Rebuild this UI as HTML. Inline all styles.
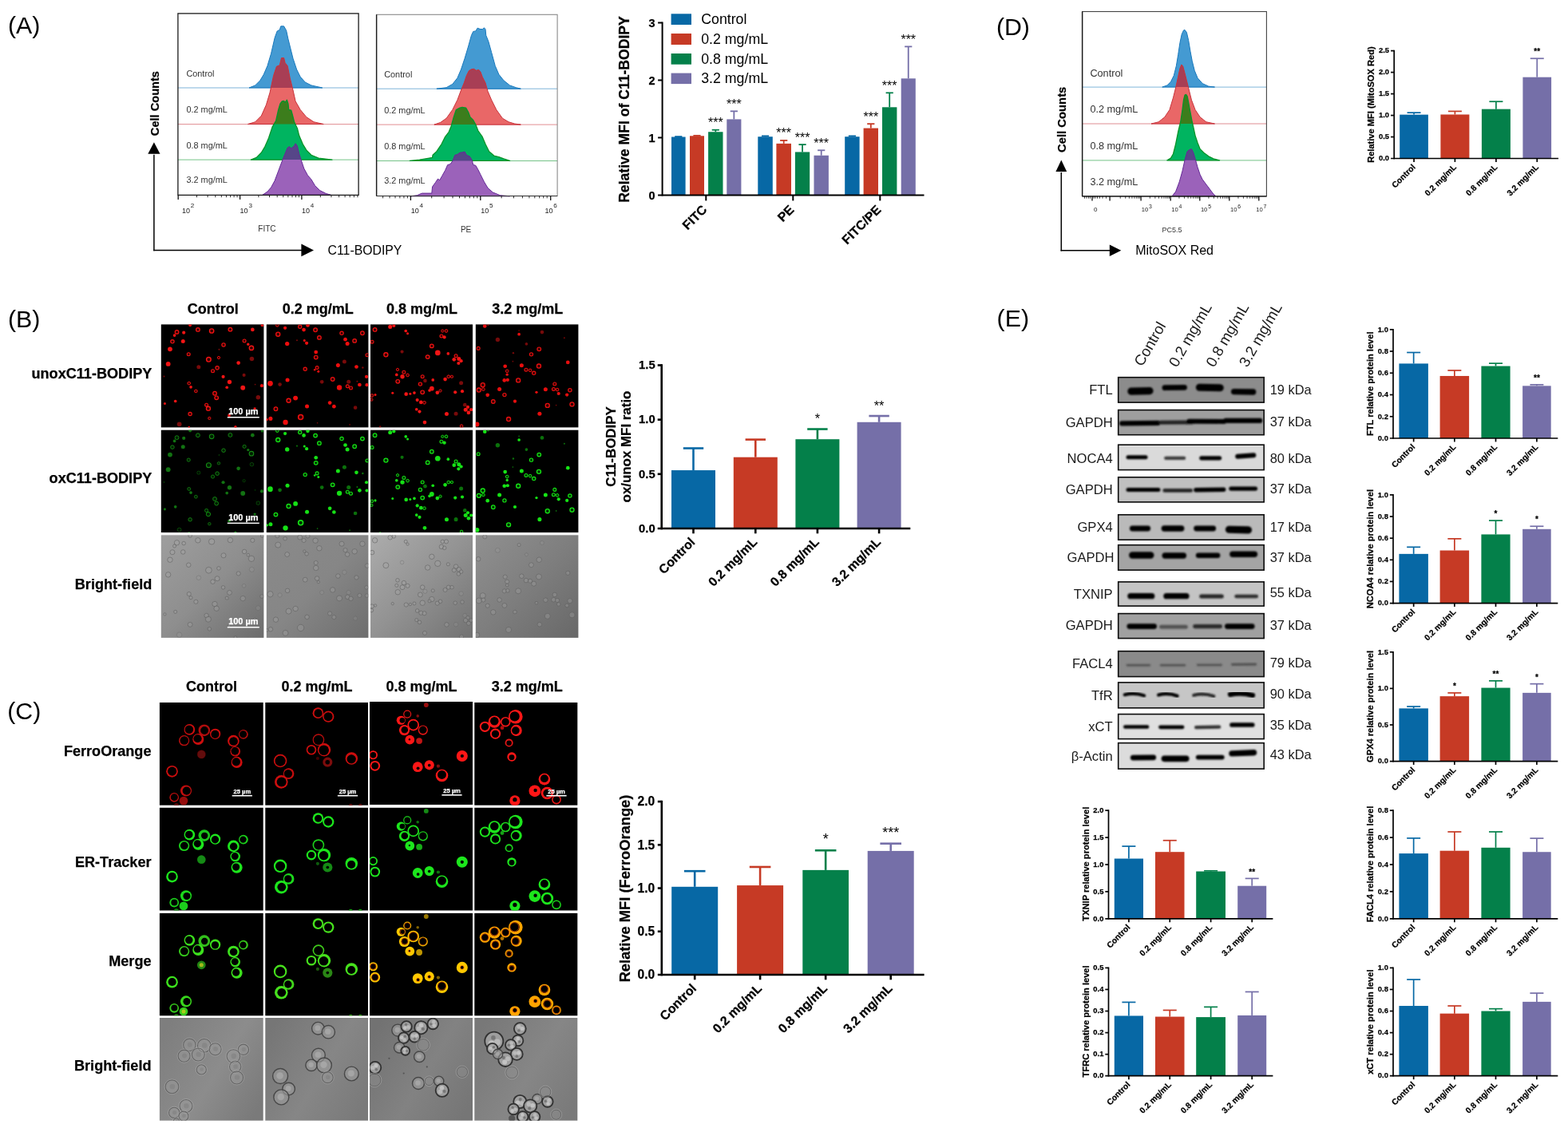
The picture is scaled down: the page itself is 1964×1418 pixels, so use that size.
<!DOCTYPE html>
<html lang="en"><head><meta charset="utf-8"><title>Figure</title>
<style>html,body{margin:0;padding:0;background:#fff;}svg{display:block;font-family:'Liberation Sans', sans-serif;filter:blur(0.4px);}</style>
</head><body>
<svg width="1964" height="1418" viewBox="0 0 1964 1418">
<defs><linearGradient id="bf0" x1="0" y1="0" x2="1" y2="1"><stop offset="0" stop-color="#9e9e9e"/><stop offset="0.5" stop-color="#8e8e8e"/><stop offset="1" stop-color="#6c6c6c"/></linearGradient><linearGradient id="cf0" x1="0" y1="0.2" x2="1" y2="0.8"><stop offset="0" stop-color="#7e7e7e"/><stop offset="0.55" stop-color="#8c8c8c"/><stop offset="1" stop-color="#7a7a7a"/></linearGradient><linearGradient id="bf1" x1="0" y1="0" x2="1" y2="1"><stop offset="0" stop-color="#8a8a8a"/><stop offset="0.5" stop-color="#868686"/><stop offset="1" stop-color="#6e6e6e"/></linearGradient><linearGradient id="cf1" x1="0" y1="0.2" x2="1" y2="0.8"><stop offset="0" stop-color="#767676"/><stop offset="0.55" stop-color="#868686"/><stop offset="1" stop-color="#7a7a7a"/></linearGradient><linearGradient id="bf2" x1="0" y1="0" x2="1" y2="1"><stop offset="0" stop-color="#acacac"/><stop offset="0.5" stop-color="#929292"/><stop offset="1" stop-color="#727272"/></linearGradient><linearGradient id="cf2" x1="0" y1="0.2" x2="1" y2="0.8"><stop offset="0" stop-color="#727272"/><stop offset="0.55" stop-color="#828282"/><stop offset="1" stop-color="#767676"/></linearGradient><linearGradient id="bf3" x1="0" y1="0" x2="1" y2="1"><stop offset="0" stop-color="#909090"/><stop offset="0.5" stop-color="#7e7e7e"/><stop offset="1" stop-color="#686868"/></linearGradient><linearGradient id="cf3" x1="0" y1="0.2" x2="1" y2="0.8"><stop offset="0" stop-color="#787878"/><stop offset="0.55" stop-color="#868686"/><stop offset="1" stop-color="#7a7a7a"/></linearGradient><filter id="wblur" x="-10%" y="-30%" width="120%" height="160%"><feGaussianBlur stdDeviation="1.1"/></filter><filter id="bblur" x="-5%" y="-5%" width="110%" height="110%"><feGaussianBlur stdDeviation="0.55"/></filter><filter id="cblur" x="-5%" y="-5%" width="110%" height="110%"><feGaussianBlur stdDeviation="0.55"/></filter><filter id="cblur2" x="-5%" y="-5%" width="110%" height="110%"><feGaussianBlur stdDeviation="0.45"/></filter></defs>
<text x="10" y="42.3" font-size="30.3">(A)</text>
<text x="10" y="410" font-size="30.3">(B)</text>
<text x="9.2" y="901.3" font-size="30.3">(C)</text>
<text x="1247.9" y="44" font-size="30.3">(D)</text>
<text x="1248.6" y="409.4" font-size="30.3">(E)</text>
<text x="266.7" y="392.7" font-size="18" font-weight="bold" stroke="#000" stroke-width="0.25" text-anchor="middle">Control</text>
<text x="398.2" y="392.7" font-size="18" font-weight="bold" stroke="#000" stroke-width="0.25" text-anchor="middle">0.2 mg/mL</text>
<text x="528.6" y="392.7" font-size="18" font-weight="bold" stroke="#000" stroke-width="0.25" text-anchor="middle">0.8 mg/mL</text>
<text x="660.7" y="392.7" font-size="18" font-weight="bold" stroke="#000" stroke-width="0.25" text-anchor="middle">3.2 mg/mL</text>
<text x="265" y="865.5" font-size="18" font-weight="bold" stroke="#000" stroke-width="0.25" text-anchor="middle">Control</text>
<text x="397.05" y="865.5" font-size="18" font-weight="bold" stroke="#000" stroke-width="0.25" text-anchor="middle">0.2 mg/mL</text>
<text x="527.9" y="865.5" font-size="18" font-weight="bold" stroke="#000" stroke-width="0.25" text-anchor="middle">0.8 mg/mL</text>
<text x="660.2" y="865.5" font-size="18" font-weight="bold" stroke="#000" stroke-width="0.25" text-anchor="middle">3.2 mg/mL</text>
<text x="190.3" y="473.6" font-size="18.1" font-weight="bold" stroke="#000" stroke-width="0.25" text-anchor="end">unoxC11-BODIPY</text>
<text x="190.3" y="604.7" font-size="18.1" font-weight="bold" stroke="#000" stroke-width="0.25" text-anchor="end">oxC11-BODIPY</text>
<text x="190.3" y="737.5" font-size="18.1" font-weight="bold" stroke="#000" stroke-width="0.25" text-anchor="end">Bright-field</text>
<text x="189.5" y="947" font-size="18.1" font-weight="bold" stroke="#000" stroke-width="0.25" text-anchor="end">FerroOrange</text>
<text x="189.5" y="1085.6" font-size="18.1" font-weight="bold" stroke="#000" stroke-width="0.25" text-anchor="end">ER-Tracker</text>
<text x="189.5" y="1209.8" font-size="18.1" font-weight="bold" stroke="#000" stroke-width="0.25" text-anchor="end">Merge</text>
<text x="189.5" y="1341.3" font-size="18.1" font-weight="bold" stroke="#000" stroke-width="0.25" text-anchor="end">Bright-field</text>
<rect x="201.8" y="406.4" width="128.6" height="129" fill="#000"/>
<rect x="333.8" y="406.4" width="127.6" height="129" fill="#000"/>
<rect x="464" y="406.4" width="128" height="129" fill="#000"/>
<rect x="595.8" y="406.4" width="128.6" height="129" fill="#000"/>
<rect x="201.8" y="538.7" width="128.6" height="128.3" fill="#000"/>
<rect x="333.8" y="538.7" width="127.6" height="128.3" fill="#000"/>
<rect x="464" y="538.7" width="128" height="128.3" fill="#000"/>
<rect x="595.8" y="538.7" width="128.6" height="128.3" fill="#000"/>
<rect x="201.8" y="670.3" width="128.6" height="128.6" fill="url(#bf0)"/>
<rect x="333.8" y="670.3" width="127.6" height="128.6" fill="url(#bf1)"/>
<rect x="464" y="670.3" width="128" height="128.6" fill="url(#bf2)"/>
<rect x="595.8" y="670.3" width="128.6" height="128.6" fill="url(#bf3)"/>
<rect x="199.9" y="880" width="129.8" height="128.7" fill="#000"/>
<rect x="332.3" y="880" width="128.7" height="128.7" fill="#000"/>
<rect x="463" y="879" width="129" height="129" fill="#000"/>
<rect x="594.3" y="880" width="129" height="128.7" fill="#000"/>
<rect x="199.9" y="1011.8" width="129.8" height="128.7" fill="#000"/>
<rect x="332.3" y="1011.8" width="128.7" height="128.7" fill="#000"/>
<rect x="463" y="1011.8" width="129" height="128.7" fill="#000"/>
<rect x="594.3" y="1011.8" width="129" height="128.7" fill="#000"/>
<rect x="199.9" y="1143.9" width="129.8" height="128.4" fill="#000"/>
<rect x="332.3" y="1143.9" width="128.7" height="128.4" fill="#000"/>
<rect x="463" y="1143.9" width="129" height="128.4" fill="#000"/>
<rect x="594.3" y="1143.9" width="129" height="128.4" fill="#000"/>
<rect x="199.9" y="1275" width="129.8" height="128.7" fill="url(#cf0)"/>
<rect x="332.3" y="1275" width="128.7" height="128.7" fill="url(#cf1)"/>
<rect x="463" y="1275" width="129" height="128.7" fill="url(#cf2)"/>
<rect x="594.3" y="1275" width="129" height="128.7" fill="url(#cf3)"/>
<line x1="849.8" y1="171.5" x2="849.8" y2="171.07" stroke="#0768a5" stroke-width="1.8"/>
<line x1="845.2" y1="171.07" x2="854.4" y2="171.07" stroke="#0768a5" stroke-width="1.8"/>
<rect x="841" y="171.5" width="17.6" height="72.9" fill="#0768a5"/>
<line x1="873" y1="170.27" x2="873" y2="169.84" stroke="#c63a25" stroke-width="1.8"/>
<line x1="868.4" y1="169.84" x2="877.6" y2="169.84" stroke="#c63a25" stroke-width="1.8"/>
<rect x="864" y="170.27" width="18" height="74.13" fill="#c63a25"/>
<line x1="896.3" y1="165.24" x2="896.3" y2="162.72" stroke="#04804a" stroke-width="1.8"/>
<line x1="891.7" y1="162.72" x2="900.9" y2="162.72" stroke="#04804a" stroke-width="1.8"/>
<rect x="887.1" y="165.24" width="18.4" height="79.16" fill="#04804a"/>
<text x="896.3" y="159.32" font-size="16" text-anchor="middle">***</text>
<line x1="919.35" y1="149.4" x2="919.35" y2="139.33" stroke="#756fa8" stroke-width="1.8"/>
<line x1="914.75" y1="139.33" x2="923.95" y2="139.33" stroke="#756fa8" stroke-width="1.8"/>
<rect x="910.3" y="149.4" width="18.1" height="95" fill="#756fa8"/>
<text x="919.35" y="135.93" font-size="16" text-anchor="middle">***</text>
<line x1="958.55" y1="171.21" x2="958.55" y2="170.35" stroke="#0768a5" stroke-width="1.8"/>
<line x1="953.95" y1="170.35" x2="963.15" y2="170.35" stroke="#0768a5" stroke-width="1.8"/>
<rect x="949.3" y="171.21" width="18.5" height="73.19" fill="#0768a5"/>
<line x1="981.7" y1="179.85" x2="981.7" y2="175.89" stroke="#c63a25" stroke-width="1.8"/>
<line x1="977.1" y1="175.89" x2="986.3" y2="175.89" stroke="#c63a25" stroke-width="1.8"/>
<rect x="972.4" y="179.85" width="18.6" height="64.55" fill="#c63a25"/>
<text x="981.7" y="172.49" font-size="16" text-anchor="middle">***</text>
<line x1="1005.05" y1="190.43" x2="1005.05" y2="181.07" stroke="#04804a" stroke-width="1.8"/>
<line x1="1000.45" y1="181.07" x2="1009.65" y2="181.07" stroke="#04804a" stroke-width="1.8"/>
<rect x="995.9" y="190.43" width="18.3" height="53.97" fill="#04804a"/>
<text x="1005.05" y="177.67" font-size="16" text-anchor="middle">***</text>
<line x1="1028.7" y1="194.74" x2="1028.7" y2="188.27" stroke="#756fa8" stroke-width="1.8"/>
<line x1="1024.1" y1="188.27" x2="1033.3" y2="188.27" stroke="#756fa8" stroke-width="1.8"/>
<rect x="1019.5" y="194.74" width="18.4" height="49.66" fill="#756fa8"/>
<text x="1028.7" y="184.87" font-size="16" text-anchor="middle">***</text>
<line x1="1067.4" y1="171.21" x2="1067.4" y2="170.35" stroke="#0768a5" stroke-width="1.8"/>
<line x1="1062.8" y1="170.35" x2="1072" y2="170.35" stroke="#0768a5" stroke-width="1.8"/>
<rect x="1058.2" y="171.21" width="18.4" height="73.19" fill="#0768a5"/>
<line x1="1090.8" y1="160.56" x2="1090.8" y2="155.16" stroke="#c63a25" stroke-width="1.8"/>
<line x1="1086.2" y1="155.16" x2="1095.4" y2="155.16" stroke="#c63a25" stroke-width="1.8"/>
<rect x="1081.6" y="160.56" width="18.4" height="83.84" fill="#c63a25"/>
<text x="1090.8" y="151.76" font-size="16" text-anchor="middle">***</text>
<line x1="1114.2" y1="134.29" x2="1114.2" y2="116.3" stroke="#04804a" stroke-width="1.8"/>
<line x1="1109.6" y1="116.3" x2="1118.8" y2="116.3" stroke="#04804a" stroke-width="1.8"/>
<rect x="1105" y="134.29" width="18.4" height="110.11" fill="#04804a"/>
<text x="1114.2" y="112.9" font-size="16" text-anchor="middle">***</text>
<line x1="1137.75" y1="98.31" x2="1137.75" y2="58.37" stroke="#756fa8" stroke-width="1.8"/>
<line x1="1133.15" y1="58.37" x2="1142.35" y2="58.37" stroke="#756fa8" stroke-width="1.8"/>
<rect x="1128.7" y="98.31" width="18.1" height="146.09" fill="#756fa8"/>
<text x="1137.75" y="54.97" font-size="16" text-anchor="middle">***</text>
<line x1="829.6" y1="27.5" x2="829.6" y2="245.4" stroke="#000" stroke-width="2"/>
<line x1="824.1" y1="244.4" x2="1157.5" y2="244.4" stroke="#000" stroke-width="2"/>
<text x="820.6" y="249.59" font-size="14.5" font-weight="bold" stroke="#000" stroke-width="0.25" text-anchor="end">0</text>
<line x1="824.1" y1="172.43" x2="829.6" y2="172.43" stroke="#000" stroke-width="2"/>
<text x="820.6" y="177.62" font-size="14.5" font-weight="bold" stroke="#000" stroke-width="0.25" text-anchor="end">1</text>
<line x1="824.1" y1="100.47" x2="829.6" y2="100.47" stroke="#000" stroke-width="2"/>
<text x="820.6" y="105.66" font-size="14.5" font-weight="bold" stroke="#000" stroke-width="0.25" text-anchor="end">2</text>
<line x1="824.1" y1="28.5" x2="829.6" y2="28.5" stroke="#000" stroke-width="2"/>
<text x="820.6" y="33.69" font-size="14.5" font-weight="bold" stroke="#000" stroke-width="0.25" text-anchor="end">3</text>
<line x1="884.3" y1="244.4" x2="884.3" y2="251.4" stroke="#000" stroke-width="2"/>
<text x="886.5" y="263.6" font-size="16" font-weight="bold" stroke="#000" stroke-width="0.25" text-anchor="end" transform="rotate(-45 886.5 263.6)">FITC</text>
<line x1="993.3" y1="244.4" x2="993.3" y2="251.4" stroke="#000" stroke-width="2"/>
<text x="995.5" y="263.6" font-size="16" font-weight="bold" stroke="#000" stroke-width="0.25" text-anchor="end" transform="rotate(-45 995.5 263.6)">PE</text>
<line x1="1102.3" y1="244.4" x2="1102.3" y2="251.4" stroke="#000" stroke-width="2"/>
<text x="1104.5" y="263.6" font-size="16" font-weight="bold" stroke="#000" stroke-width="0.25" text-anchor="end" transform="rotate(-45 1104.5 263.6)">FITC/PE</text>
<text x="788" y="137" font-size="17.6" font-weight="bold" stroke="#000" stroke-width="0.25" text-anchor="middle" transform="rotate(-90 788 137)">Relative MFI of C11-BODIPY</text>
<rect x="840.6" y="17.3" width="25.4" height="13.7" fill="#0768a5"/>
<text x="878.2" y="29.8" font-size="17.75">Control</text>
<rect x="840.6" y="42" width="25.4" height="14" fill="#c63a25"/>
<text x="878.2" y="54.8" font-size="17.75">0.2 mg/mL</text>
<rect x="840.6" y="67" width="25.4" height="13.7" fill="#04804a"/>
<text x="878.2" y="79.5" font-size="17.75">0.8 mg/mL</text>
<rect x="840.6" y="91.6" width="25.4" height="13.5" fill="#756fa8"/>
<text x="878.2" y="103.9" font-size="17.75">3.2 mg/mL</text>
<line x1="868.5" y1="589.06" x2="868.5" y2="561.52" stroke="#0768a5" stroke-width="2.6"/>
<line x1="855.8" y1="561.52" x2="881.2" y2="561.52" stroke="#0768a5" stroke-width="2.6"/>
<rect x="841" y="589.06" width="55" height="72.94" fill="#0768a5"/>
<line x1="946.3" y1="572.7" x2="946.3" y2="550.62" stroke="#c63a25" stroke-width="2.6"/>
<line x1="933.6" y1="550.62" x2="959" y2="550.62" stroke="#c63a25" stroke-width="2.6"/>
<rect x="918.8" y="572.7" width="55" height="89.3" fill="#c63a25"/>
<line x1="1023.9" y1="550.21" x2="1023.9" y2="537.53" stroke="#04804a" stroke-width="2.6"/>
<line x1="1011.2" y1="537.53" x2="1036.6" y2="537.53" stroke="#04804a" stroke-width="2.6"/>
<rect x="996.4" y="550.21" width="55" height="111.79" fill="#04804a"/>
<text x="1023.9" y="530.03" font-size="16.3" text-anchor="middle">*</text>
<line x1="1101.1" y1="528.8" x2="1101.1" y2="521.03" stroke="#756fa8" stroke-width="2.6"/>
<line x1="1088.4" y1="521.03" x2="1113.8" y2="521.03" stroke="#756fa8" stroke-width="2.6"/>
<rect x="1073.6" y="528.8" width="55" height="133.2" fill="#756fa8"/>
<text x="1101.1" y="513.53" font-size="16.3" text-anchor="middle">**</text>
<line x1="828.7" y1="456.2" x2="828.7" y2="663.3" stroke="#000" stroke-width="2.6"/>
<line x1="823.7" y1="662" x2="1140.3" y2="662" stroke="#000" stroke-width="2.6"/>
<text x="820.7" y="666.8" font-size="14.8" font-weight="bold" stroke="#000" stroke-width="0.25" text-anchor="end">0.0</text>
<line x1="823.7" y1="593.83" x2="828.7" y2="593.83" stroke="#000" stroke-width="2.6"/>
<text x="820.7" y="598.63" font-size="14.8" font-weight="bold" stroke="#000" stroke-width="0.25" text-anchor="end">0.5</text>
<line x1="823.7" y1="525.67" x2="828.7" y2="525.67" stroke="#000" stroke-width="2.6"/>
<text x="820.7" y="530.47" font-size="14.8" font-weight="bold" stroke="#000" stroke-width="0.25" text-anchor="end">1.0</text>
<line x1="823.7" y1="457.5" x2="828.7" y2="457.5" stroke="#000" stroke-width="2.6"/>
<text x="820.7" y="462.3" font-size="14.8" font-weight="bold" stroke="#000" stroke-width="0.25" text-anchor="end">1.5</text>
<line x1="868.5" y1="662" x2="868.5" y2="668.3" stroke="#000" stroke-width="2.6"/>
<text x="871.5" y="680" font-size="15.9" font-weight="bold" stroke="#000" stroke-width="0.25" text-anchor="end" transform="rotate(-45 871.5 680)">Control</text>
<line x1="946.3" y1="662" x2="946.3" y2="668.3" stroke="#000" stroke-width="2.6"/>
<text x="949.3" y="680" font-size="15.9" font-weight="bold" stroke="#000" stroke-width="0.25" text-anchor="end" transform="rotate(-45 949.3 680)">0.2 mg/mL</text>
<line x1="1023.9" y1="662" x2="1023.9" y2="668.3" stroke="#000" stroke-width="2.6"/>
<text x="1026.9" y="680" font-size="15.9" font-weight="bold" stroke="#000" stroke-width="0.25" text-anchor="end" transform="rotate(-45 1026.9 680)">0.8 mg/mL</text>
<line x1="1101.1" y1="662" x2="1101.1" y2="668.3" stroke="#000" stroke-width="2.6"/>
<text x="1104.1" y="680" font-size="15.9" font-weight="bold" stroke="#000" stroke-width="0.25" text-anchor="end" transform="rotate(-45 1104.1 680)">3.2 mg/mL</text>
<text x="770.5" y="559.5" font-size="16.9" font-weight="bold" stroke="#000" stroke-width="0.25" text-anchor="middle" transform="rotate(-90 770.5 559.5)">C11-BODIPY</text>
<text x="789.5" y="559.5" font-size="16.9" font-weight="bold" stroke="#000" stroke-width="0.25" text-anchor="middle" transform="rotate(-90 789.5 559.5)">ox/unox MFI ratio</text>
<line x1="870.2" y1="1110.81" x2="870.2" y2="1091.19" stroke="#0768a5" stroke-width="2.6"/>
<line x1="856.9" y1="1091.19" x2="883.5" y2="1091.19" stroke="#0768a5" stroke-width="2.6"/>
<rect x="841.2" y="1110.81" width="58" height="110.19" fill="#0768a5"/>
<line x1="952.1" y1="1109.08" x2="952.1" y2="1085.98" stroke="#c63a25" stroke-width="2.6"/>
<line x1="938.8" y1="1085.98" x2="965.4" y2="1085.98" stroke="#c63a25" stroke-width="2.6"/>
<rect x="923.1" y="1109.08" width="58" height="111.92" fill="#c63a25"/>
<line x1="1034.15" y1="1089.88" x2="1034.15" y2="1065.27" stroke="#04804a" stroke-width="2.6"/>
<line x1="1020.85" y1="1065.27" x2="1047.45" y2="1065.27" stroke="#04804a" stroke-width="2.6"/>
<rect x="1005.3" y="1089.88" width="57.7" height="131.12" fill="#04804a"/>
<text x="1034.15" y="1057.17" font-size="18" text-anchor="middle">*</text>
<line x1="1115.7" y1="1065.92" x2="1115.7" y2="1056.7" stroke="#756fa8" stroke-width="2.6"/>
<line x1="1102.4" y1="1056.7" x2="1129" y2="1056.7" stroke="#756fa8" stroke-width="2.6"/>
<rect x="1086.7" y="1065.92" width="58" height="155.08" fill="#756fa8"/>
<text x="1115.7" y="1048.6" font-size="18" text-anchor="middle">***</text>
<line x1="828.8" y1="1002.8" x2="828.8" y2="1222.3" stroke="#000" stroke-width="2.6"/>
<line x1="823.8" y1="1221" x2="1157.6" y2="1221" stroke="#000" stroke-width="2.6"/>
<text x="820.2" y="1226.28" font-size="15.6" font-weight="bold" stroke="#000" stroke-width="0.25" text-anchor="end">0.0</text>
<line x1="823.8" y1="1166.78" x2="828.8" y2="1166.78" stroke="#000" stroke-width="2.6"/>
<text x="820.2" y="1172.06" font-size="15.6" font-weight="bold" stroke="#000" stroke-width="0.25" text-anchor="end">0.5</text>
<line x1="823.8" y1="1112.55" x2="828.8" y2="1112.55" stroke="#000" stroke-width="2.6"/>
<text x="820.2" y="1117.83" font-size="15.6" font-weight="bold" stroke="#000" stroke-width="0.25" text-anchor="end">1.0</text>
<line x1="823.8" y1="1058.33" x2="828.8" y2="1058.33" stroke="#000" stroke-width="2.6"/>
<text x="820.2" y="1063.61" font-size="15.6" font-weight="bold" stroke="#000" stroke-width="0.25" text-anchor="end">1.5</text>
<line x1="823.8" y1="1004.1" x2="828.8" y2="1004.1" stroke="#000" stroke-width="2.6"/>
<text x="820.2" y="1009.38" font-size="15.6" font-weight="bold" stroke="#000" stroke-width="0.25" text-anchor="end">2.0</text>
<line x1="870.2" y1="1221" x2="870.2" y2="1227.3" stroke="#000" stroke-width="2.6"/>
<text x="873.2" y="1239" font-size="16" font-weight="bold" stroke="#000" stroke-width="0.25" text-anchor="end" transform="rotate(-45 873.2 1239)">Control</text>
<line x1="952.1" y1="1221" x2="952.1" y2="1227.3" stroke="#000" stroke-width="2.6"/>
<text x="955.1" y="1239" font-size="16" font-weight="bold" stroke="#000" stroke-width="0.25" text-anchor="end" transform="rotate(-45 955.1 1239)">0.2 mg/mL</text>
<line x1="1034.15" y1="1221" x2="1034.15" y2="1227.3" stroke="#000" stroke-width="2.6"/>
<text x="1037.15" y="1239" font-size="16" font-weight="bold" stroke="#000" stroke-width="0.25" text-anchor="end" transform="rotate(-45 1037.15 1239)">0.8 mg/mL</text>
<line x1="1115.7" y1="1221" x2="1115.7" y2="1227.3" stroke="#000" stroke-width="2.6"/>
<text x="1118.7" y="1239" font-size="16" font-weight="bold" stroke="#000" stroke-width="0.25" text-anchor="end" transform="rotate(-45 1118.7 1239)">3.2 mg/mL</text>
<text x="788.6" y="1113" font-size="18.3" font-weight="bold" stroke="#000" stroke-width="0.25" text-anchor="middle" transform="rotate(-90 788.6 1113)">Relative MFI (FerroOrange)</text>
<line x1="1771.05" y1="143.62" x2="1771.05" y2="141.14" stroke="#0768a5" stroke-width="1.7"/>
<line x1="1762.55" y1="141.14" x2="1779.55" y2="141.14" stroke="#0768a5" stroke-width="1.7"/>
<rect x="1753.2" y="143.62" width="35.7" height="54.88" fill="#0768a5"/>
<line x1="1822.4" y1="143.46" x2="1822.4" y2="139.41" stroke="#c63a25" stroke-width="1.7"/>
<line x1="1813.9" y1="139.41" x2="1830.9" y2="139.41" stroke="#c63a25" stroke-width="1.7"/>
<rect x="1804.4" y="143.46" width="36" height="55.04" fill="#c63a25"/>
<line x1="1873.9" y1="136.66" x2="1873.9" y2="127.22" stroke="#04804a" stroke-width="1.7"/>
<line x1="1865.4" y1="127.22" x2="1882.4" y2="127.22" stroke="#04804a" stroke-width="1.7"/>
<rect x="1855.9" y="136.66" width="36" height="61.84" fill="#04804a"/>
<line x1="1925.25" y1="96.68" x2="1925.25" y2="73.26" stroke="#756fa8" stroke-width="1.7"/>
<line x1="1916.75" y1="73.26" x2="1933.75" y2="73.26" stroke="#756fa8" stroke-width="1.7"/>
<rect x="1907.4" y="96.68" width="35.7" height="101.82" fill="#756fa8"/>
<text x="1925.25" y="68.46" font-size="10" font-weight="bold" stroke="#000" stroke-width="0.25" text-anchor="middle">**</text>
<line x1="1746.2" y1="62.75" x2="1746.2" y2="199.35" stroke="#000" stroke-width="1.7"/>
<line x1="1742" y1="198.5" x2="1952" y2="198.5" stroke="#000" stroke-width="1.7"/>
<text x="1740.1" y="201.27" font-size="9.4" font-weight="bold" stroke="#000" stroke-width="0.25" text-anchor="end">0.0</text>
<line x1="1742" y1="171.52" x2="1746.2" y2="171.52" stroke="#000" stroke-width="1.7"/>
<text x="1740.1" y="174.29" font-size="9.4" font-weight="bold" stroke="#000" stroke-width="0.25" text-anchor="end">0.5</text>
<line x1="1742" y1="144.54" x2="1746.2" y2="144.54" stroke="#000" stroke-width="1.7"/>
<text x="1740.1" y="147.31" font-size="9.4" font-weight="bold" stroke="#000" stroke-width="0.25" text-anchor="end">1.0</text>
<line x1="1742" y1="117.56" x2="1746.2" y2="117.56" stroke="#000" stroke-width="1.7"/>
<text x="1740.1" y="120.33" font-size="9.4" font-weight="bold" stroke="#000" stroke-width="0.25" text-anchor="end">1.5</text>
<line x1="1742" y1="90.58" x2="1746.2" y2="90.58" stroke="#000" stroke-width="1.7"/>
<text x="1740.1" y="93.35" font-size="9.4" font-weight="bold" stroke="#000" stroke-width="0.25" text-anchor="end">2.0</text>
<line x1="1742" y1="63.6" x2="1746.2" y2="63.6" stroke="#000" stroke-width="1.7"/>
<text x="1740.1" y="66.37" font-size="9.4" font-weight="bold" stroke="#000" stroke-width="0.25" text-anchor="end">2.5</text>
<line x1="1771.05" y1="198.5" x2="1771.05" y2="202.95" stroke="#000" stroke-width="1.7"/>
<text x="1773.45" y="210" font-size="10.3" font-weight="bold" stroke="#000" stroke-width="0.25" text-anchor="end" transform="rotate(-45 1773.45 210)">Control</text>
<line x1="1822.4" y1="198.5" x2="1822.4" y2="202.95" stroke="#000" stroke-width="1.7"/>
<text x="1824.8" y="210" font-size="10.3" font-weight="bold" stroke="#000" stroke-width="0.25" text-anchor="end" transform="rotate(-45 1824.8 210)">0.2 mg/mL</text>
<line x1="1873.9" y1="198.5" x2="1873.9" y2="202.95" stroke="#000" stroke-width="1.7"/>
<text x="1876.3" y="210" font-size="10.3" font-weight="bold" stroke="#000" stroke-width="0.25" text-anchor="end" transform="rotate(-45 1876.3 210)">0.8 mg/mL</text>
<line x1="1925.25" y1="198.5" x2="1925.25" y2="202.95" stroke="#000" stroke-width="1.7"/>
<text x="1927.65" y="210" font-size="10.3" font-weight="bold" stroke="#000" stroke-width="0.25" text-anchor="end" transform="rotate(-45 1927.65 210)">3.2 mg/mL</text>
<text x="1720.6" y="131.1" font-size="11.1" font-weight="bold" stroke="#000" stroke-width="0.25" text-anchor="middle" transform="rotate(-90 1720.6 131.1)">Relative MFI (MitoSOX Red)</text>
<line x1="1770.65" y1="455.43" x2="1770.65" y2="441.54" stroke="#0768a5" stroke-width="1.7"/>
<line x1="1762.15" y1="441.54" x2="1779.15" y2="441.54" stroke="#0768a5" stroke-width="1.7"/>
<rect x="1752.4" y="455.43" width="36.5" height="93.57" fill="#0768a5"/>
<line x1="1821.85" y1="470.96" x2="1821.85" y2="464.01" stroke="#c63a25" stroke-width="1.7"/>
<line x1="1813.35" y1="464.01" x2="1830.35" y2="464.01" stroke="#c63a25" stroke-width="1.7"/>
<rect x="1803.6" y="470.96" width="36.5" height="78.04" fill="#c63a25"/>
<line x1="1873.5" y1="458.56" x2="1873.5" y2="455.16" stroke="#04804a" stroke-width="1.7"/>
<line x1="1865" y1="455.16" x2="1882" y2="455.16" stroke="#04804a" stroke-width="1.7"/>
<rect x="1855.4" y="458.56" width="36.2" height="90.44" fill="#04804a"/>
<line x1="1924.9" y1="483.35" x2="1924.9" y2="481.85" stroke="#756fa8" stroke-width="1.7"/>
<line x1="1916.4" y1="481.85" x2="1933.4" y2="481.85" stroke="#756fa8" stroke-width="1.7"/>
<rect x="1907.1" y="483.35" width="35.6" height="65.65" fill="#756fa8"/>
<text x="1924.9" y="477.05" font-size="10" font-weight="bold" stroke="#000" stroke-width="0.25" text-anchor="middle">**</text>
<line x1="1745" y1="411.95" x2="1745" y2="549.85" stroke="#000" stroke-width="1.7"/>
<line x1="1740.8" y1="549" x2="1951.3" y2="549" stroke="#000" stroke-width="1.7"/>
<text x="1738.9" y="551.77" font-size="9.4" font-weight="bold" stroke="#000" stroke-width="0.25" text-anchor="end">0.0</text>
<line x1="1740.8" y1="521.76" x2="1745" y2="521.76" stroke="#000" stroke-width="1.7"/>
<text x="1738.9" y="524.53" font-size="9.4" font-weight="bold" stroke="#000" stroke-width="0.25" text-anchor="end">0.2</text>
<line x1="1740.8" y1="494.52" x2="1745" y2="494.52" stroke="#000" stroke-width="1.7"/>
<text x="1738.9" y="497.29" font-size="9.4" font-weight="bold" stroke="#000" stroke-width="0.25" text-anchor="end">0.4</text>
<line x1="1740.8" y1="467.28" x2="1745" y2="467.28" stroke="#000" stroke-width="1.7"/>
<text x="1738.9" y="470.05" font-size="9.4" font-weight="bold" stroke="#000" stroke-width="0.25" text-anchor="end">0.6</text>
<line x1="1740.8" y1="440.04" x2="1745" y2="440.04" stroke="#000" stroke-width="1.7"/>
<text x="1738.9" y="442.81" font-size="9.4" font-weight="bold" stroke="#000" stroke-width="0.25" text-anchor="end">0.8</text>
<line x1="1740.8" y1="412.8" x2="1745" y2="412.8" stroke="#000" stroke-width="1.7"/>
<text x="1738.9" y="415.57" font-size="9.4" font-weight="bold" stroke="#000" stroke-width="0.25" text-anchor="end">1.0</text>
<line x1="1770.65" y1="549" x2="1770.65" y2="553.45" stroke="#000" stroke-width="1.7"/>
<text x="1773.05" y="560.5" font-size="10.3" font-weight="bold" stroke="#000" stroke-width="0.25" text-anchor="end" transform="rotate(-45 1773.05 560.5)">Control</text>
<line x1="1821.85" y1="549" x2="1821.85" y2="553.45" stroke="#000" stroke-width="1.7"/>
<text x="1824.25" y="560.5" font-size="10.3" font-weight="bold" stroke="#000" stroke-width="0.25" text-anchor="end" transform="rotate(-45 1824.25 560.5)">0.2 mg/mL</text>
<line x1="1873.5" y1="549" x2="1873.5" y2="553.45" stroke="#000" stroke-width="1.7"/>
<text x="1875.9" y="560.5" font-size="10.3" font-weight="bold" stroke="#000" stroke-width="0.25" text-anchor="end" transform="rotate(-45 1875.9 560.5)">0.8 mg/mL</text>
<line x1="1924.9" y1="549" x2="1924.9" y2="553.45" stroke="#000" stroke-width="1.7"/>
<text x="1927.3" y="560.5" font-size="10.3" font-weight="bold" stroke="#000" stroke-width="0.25" text-anchor="end" transform="rotate(-45 1927.3 560.5)">3.2 mg/mL</text>
<text x="1719.9" y="480.7" font-size="11.1" font-weight="bold" stroke="#000" stroke-width="0.25" text-anchor="middle" transform="rotate(-90 1719.9 480.7)">FTL relative protein level</text>
<line x1="1770.65" y1="693.86" x2="1770.65" y2="685.31" stroke="#0768a5" stroke-width="1.7"/>
<line x1="1762.15" y1="685.31" x2="1779.15" y2="685.31" stroke="#0768a5" stroke-width="1.7"/>
<rect x="1752.4" y="693.86" width="36.5" height="61.74" fill="#0768a5"/>
<line x1="1821.85" y1="689.51" x2="1821.85" y2="674.86" stroke="#c63a25" stroke-width="1.7"/>
<line x1="1813.35" y1="674.86" x2="1830.35" y2="674.86" stroke="#c63a25" stroke-width="1.7"/>
<rect x="1803.6" y="689.51" width="36.5" height="66.09" fill="#c63a25"/>
<line x1="1873.5" y1="669.43" x2="1873.5" y2="652.06" stroke="#04804a" stroke-width="1.7"/>
<line x1="1865" y1="652.06" x2="1882" y2="652.06" stroke="#04804a" stroke-width="1.7"/>
<rect x="1855.4" y="669.43" width="36.2" height="86.17" fill="#04804a"/>
<text x="1873.5" y="647.26" font-size="10" font-weight="bold" stroke="#000" stroke-width="0.25" text-anchor="middle">*</text>
<line x1="1924.9" y1="662.78" x2="1924.9" y2="659.25" stroke="#756fa8" stroke-width="1.7"/>
<line x1="1916.4" y1="659.25" x2="1933.4" y2="659.25" stroke="#756fa8" stroke-width="1.7"/>
<rect x="1907.1" y="662.78" width="35.6" height="92.82" fill="#756fa8"/>
<text x="1924.9" y="654.45" font-size="10" font-weight="bold" stroke="#000" stroke-width="0.25" text-anchor="middle">*</text>
<line x1="1745" y1="619.05" x2="1745" y2="756.45" stroke="#000" stroke-width="1.7"/>
<line x1="1740.8" y1="755.6" x2="1951.3" y2="755.6" stroke="#000" stroke-width="1.7"/>
<text x="1738.9" y="758.37" font-size="9.4" font-weight="bold" stroke="#000" stroke-width="0.25" text-anchor="end">0.0</text>
<line x1="1740.8" y1="728.46" x2="1745" y2="728.46" stroke="#000" stroke-width="1.7"/>
<text x="1738.9" y="731.23" font-size="9.4" font-weight="bold" stroke="#000" stroke-width="0.25" text-anchor="end">0.2</text>
<line x1="1740.8" y1="701.32" x2="1745" y2="701.32" stroke="#000" stroke-width="1.7"/>
<text x="1738.9" y="704.09" font-size="9.4" font-weight="bold" stroke="#000" stroke-width="0.25" text-anchor="end">0.4</text>
<line x1="1740.8" y1="674.18" x2="1745" y2="674.18" stroke="#000" stroke-width="1.7"/>
<text x="1738.9" y="676.95" font-size="9.4" font-weight="bold" stroke="#000" stroke-width="0.25" text-anchor="end">0.6</text>
<line x1="1740.8" y1="647.04" x2="1745" y2="647.04" stroke="#000" stroke-width="1.7"/>
<text x="1738.9" y="649.81" font-size="9.4" font-weight="bold" stroke="#000" stroke-width="0.25" text-anchor="end">0.8</text>
<line x1="1740.8" y1="619.9" x2="1745" y2="619.9" stroke="#000" stroke-width="1.7"/>
<text x="1738.9" y="622.67" font-size="9.4" font-weight="bold" stroke="#000" stroke-width="0.25" text-anchor="end">1.0</text>
<line x1="1770.65" y1="755.6" x2="1770.65" y2="760.05" stroke="#000" stroke-width="1.7"/>
<text x="1773.05" y="767.1" font-size="10.3" font-weight="bold" stroke="#000" stroke-width="0.25" text-anchor="end" transform="rotate(-45 1773.05 767.1)">Control</text>
<line x1="1821.85" y1="755.6" x2="1821.85" y2="760.05" stroke="#000" stroke-width="1.7"/>
<text x="1824.25" y="767.1" font-size="10.3" font-weight="bold" stroke="#000" stroke-width="0.25" text-anchor="end" transform="rotate(-45 1824.25 767.1)">0.2 mg/mL</text>
<line x1="1873.5" y1="755.6" x2="1873.5" y2="760.05" stroke="#000" stroke-width="1.7"/>
<text x="1875.9" y="767.1" font-size="10.3" font-weight="bold" stroke="#000" stroke-width="0.25" text-anchor="end" transform="rotate(-45 1875.9 767.1)">0.8 mg/mL</text>
<line x1="1924.9" y1="755.6" x2="1924.9" y2="760.05" stroke="#000" stroke-width="1.7"/>
<text x="1927.3" y="767.1" font-size="10.3" font-weight="bold" stroke="#000" stroke-width="0.25" text-anchor="end" transform="rotate(-45 1927.3 767.1)">3.2 mg/mL</text>
<text x="1719.9" y="687.6" font-size="11.1" font-weight="bold" stroke="#000" stroke-width="0.25" text-anchor="middle" transform="rotate(-90 1719.9 687.6)">NCOA4 relative protein level</text>
<line x1="1770.65" y1="887.39" x2="1770.65" y2="885.02" stroke="#0768a5" stroke-width="1.7"/>
<line x1="1762.15" y1="885.02" x2="1779.15" y2="885.02" stroke="#0768a5" stroke-width="1.7"/>
<rect x="1752.4" y="887.39" width="36.5" height="66.21" fill="#0768a5"/>
<line x1="1821.85" y1="872.16" x2="1821.85" y2="867.96" stroke="#c63a25" stroke-width="1.7"/>
<line x1="1813.35" y1="867.96" x2="1830.35" y2="867.96" stroke="#c63a25" stroke-width="1.7"/>
<rect x="1803.6" y="872.16" width="36.5" height="81.44" fill="#c63a25"/>
<text x="1821.85" y="863.16" font-size="10" font-weight="bold" stroke="#000" stroke-width="0.25" text-anchor="middle">*</text>
<line x1="1873.5" y1="861.58" x2="1873.5" y2="852.82" stroke="#04804a" stroke-width="1.7"/>
<line x1="1865" y1="852.82" x2="1882" y2="852.82" stroke="#04804a" stroke-width="1.7"/>
<rect x="1855.4" y="861.58" width="36.2" height="92.02" fill="#04804a"/>
<text x="1873.5" y="848.02" font-size="10" font-weight="bold" stroke="#000" stroke-width="0.25" text-anchor="middle">**</text>
<line x1="1924.9" y1="867.87" x2="1924.9" y2="856.65" stroke="#756fa8" stroke-width="1.7"/>
<line x1="1916.4" y1="856.65" x2="1933.4" y2="856.65" stroke="#756fa8" stroke-width="1.7"/>
<rect x="1907.1" y="867.87" width="35.6" height="85.73" fill="#756fa8"/>
<text x="1924.9" y="851.85" font-size="10" font-weight="bold" stroke="#000" stroke-width="0.25" text-anchor="middle">*</text>
<line x1="1745" y1="815.95" x2="1745" y2="954.45" stroke="#000" stroke-width="1.7"/>
<line x1="1740.8" y1="953.6" x2="1951.3" y2="953.6" stroke="#000" stroke-width="1.7"/>
<text x="1738.9" y="956.37" font-size="9.4" font-weight="bold" stroke="#000" stroke-width="0.25" text-anchor="end">0.0</text>
<line x1="1740.8" y1="908" x2="1745" y2="908" stroke="#000" stroke-width="1.7"/>
<text x="1738.9" y="910.77" font-size="9.4" font-weight="bold" stroke="#000" stroke-width="0.25" text-anchor="end">0.5</text>
<line x1="1740.8" y1="862.4" x2="1745" y2="862.4" stroke="#000" stroke-width="1.7"/>
<text x="1738.9" y="865.17" font-size="9.4" font-weight="bold" stroke="#000" stroke-width="0.25" text-anchor="end">1.0</text>
<line x1="1740.8" y1="816.8" x2="1745" y2="816.8" stroke="#000" stroke-width="1.7"/>
<text x="1738.9" y="819.57" font-size="9.4" font-weight="bold" stroke="#000" stroke-width="0.25" text-anchor="end">1.5</text>
<line x1="1770.65" y1="953.6" x2="1770.65" y2="958.05" stroke="#000" stroke-width="1.7"/>
<text x="1773.05" y="965.1" font-size="10.3" font-weight="bold" stroke="#000" stroke-width="0.25" text-anchor="end" transform="rotate(-45 1773.05 965.1)">Control</text>
<line x1="1821.85" y1="953.6" x2="1821.85" y2="958.05" stroke="#000" stroke-width="1.7"/>
<text x="1824.25" y="965.1" font-size="10.3" font-weight="bold" stroke="#000" stroke-width="0.25" text-anchor="end" transform="rotate(-45 1824.25 965.1)">0.2 mg/mL</text>
<line x1="1873.5" y1="953.6" x2="1873.5" y2="958.05" stroke="#000" stroke-width="1.7"/>
<text x="1875.9" y="965.1" font-size="10.3" font-weight="bold" stroke="#000" stroke-width="0.25" text-anchor="end" transform="rotate(-45 1875.9 965.1)">0.8 mg/mL</text>
<line x1="1924.9" y1="953.6" x2="1924.9" y2="958.05" stroke="#000" stroke-width="1.7"/>
<text x="1927.3" y="965.1" font-size="10.3" font-weight="bold" stroke="#000" stroke-width="0.25" text-anchor="end" transform="rotate(-45 1927.3 965.1)">3.2 mg/mL</text>
<text x="1719.9" y="884.9" font-size="11.1" font-weight="bold" stroke="#000" stroke-width="0.25" text-anchor="middle" transform="rotate(-90 1719.9 884.9)">GPX4 relative protein level</text>
<line x1="1413.9" y1="1075.54" x2="1413.9" y2="1060.08" stroke="#0768a5" stroke-width="1.7"/>
<line x1="1405.4" y1="1060.08" x2="1422.4" y2="1060.08" stroke="#0768a5" stroke-width="1.7"/>
<rect x="1395.8" y="1075.54" width="36.2" height="75.26" fill="#0768a5"/>
<line x1="1465.25" y1="1067.2" x2="1465.25" y2="1052.76" stroke="#c63a25" stroke-width="1.7"/>
<line x1="1456.75" y1="1052.76" x2="1473.75" y2="1052.76" stroke="#c63a25" stroke-width="1.7"/>
<rect x="1447" y="1067.2" width="36.5" height="83.6" fill="#c63a25"/>
<line x1="1516.6" y1="1091.54" x2="1516.6" y2="1090.8" stroke="#04804a" stroke-width="1.7"/>
<line x1="1508.1" y1="1090.8" x2="1525.1" y2="1090.8" stroke="#04804a" stroke-width="1.7"/>
<rect x="1498.2" y="1091.54" width="36.8" height="59.26" fill="#04804a"/>
<line x1="1568.2" y1="1109.71" x2="1568.2" y2="1100.42" stroke="#756fa8" stroke-width="1.7"/>
<line x1="1559.7" y1="1100.42" x2="1576.7" y2="1100.42" stroke="#756fa8" stroke-width="1.7"/>
<rect x="1550.2" y="1109.71" width="36" height="41.09" fill="#756fa8"/>
<text x="1568.2" y="1095.62" font-size="10" font-weight="bold" stroke="#000" stroke-width="0.25" text-anchor="middle">**</text>
<line x1="1388.5" y1="1014.35" x2="1388.5" y2="1151.65" stroke="#000" stroke-width="1.7"/>
<line x1="1384.3" y1="1150.8" x2="1594.4" y2="1150.8" stroke="#000" stroke-width="1.7"/>
<text x="1382.4" y="1153.57" font-size="9.4" font-weight="bold" stroke="#000" stroke-width="0.25" text-anchor="end">0.0</text>
<line x1="1384.3" y1="1116.9" x2="1388.5" y2="1116.9" stroke="#000" stroke-width="1.7"/>
<text x="1382.4" y="1119.67" font-size="9.4" font-weight="bold" stroke="#000" stroke-width="0.25" text-anchor="end">0.5</text>
<line x1="1384.3" y1="1083" x2="1388.5" y2="1083" stroke="#000" stroke-width="1.7"/>
<text x="1382.4" y="1085.77" font-size="9.4" font-weight="bold" stroke="#000" stroke-width="0.25" text-anchor="end">1.0</text>
<line x1="1384.3" y1="1049.1" x2="1388.5" y2="1049.1" stroke="#000" stroke-width="1.7"/>
<text x="1382.4" y="1051.87" font-size="9.4" font-weight="bold" stroke="#000" stroke-width="0.25" text-anchor="end">1.5</text>
<line x1="1384.3" y1="1015.2" x2="1388.5" y2="1015.2" stroke="#000" stroke-width="1.7"/>
<text x="1382.4" y="1017.97" font-size="9.4" font-weight="bold" stroke="#000" stroke-width="0.25" text-anchor="end">2.0</text>
<line x1="1413.9" y1="1150.8" x2="1413.9" y2="1155.25" stroke="#000" stroke-width="1.7"/>
<text x="1416.3" y="1162.3" font-size="10.3" font-weight="bold" stroke="#000" stroke-width="0.25" text-anchor="end" transform="rotate(-45 1416.3 1162.3)">Control</text>
<line x1="1465.25" y1="1150.8" x2="1465.25" y2="1155.25" stroke="#000" stroke-width="1.7"/>
<text x="1467.65" y="1162.3" font-size="10.3" font-weight="bold" stroke="#000" stroke-width="0.25" text-anchor="end" transform="rotate(-45 1467.65 1162.3)">0.2 mg/mL</text>
<line x1="1516.6" y1="1150.8" x2="1516.6" y2="1155.25" stroke="#000" stroke-width="1.7"/>
<text x="1519" y="1162.3" font-size="10.3" font-weight="bold" stroke="#000" stroke-width="0.25" text-anchor="end" transform="rotate(-45 1519 1162.3)">0.8 mg/mL</text>
<line x1="1568.2" y1="1150.8" x2="1568.2" y2="1155.25" stroke="#000" stroke-width="1.7"/>
<text x="1570.6" y="1162.3" font-size="10.3" font-weight="bold" stroke="#000" stroke-width="0.25" text-anchor="end" transform="rotate(-45 1570.6 1162.3)">3.2 mg/mL</text>
<text x="1363.8" y="1082.2" font-size="11.1" font-weight="bold" stroke="#000" stroke-width="0.25" text-anchor="middle" transform="rotate(-90 1363.8 1082.2)">TXNIP relative protein level</text>
<line x1="1770.65" y1="1069.1" x2="1770.65" y2="1049.95" stroke="#0768a5" stroke-width="1.7"/>
<line x1="1762.15" y1="1049.95" x2="1779.15" y2="1049.95" stroke="#0768a5" stroke-width="1.7"/>
<rect x="1752.4" y="1069.1" width="36.5" height="81.7" fill="#0768a5"/>
<line x1="1821.85" y1="1065.71" x2="1821.85" y2="1041.98" stroke="#c63a25" stroke-width="1.7"/>
<line x1="1813.35" y1="1041.98" x2="1830.35" y2="1041.98" stroke="#c63a25" stroke-width="1.7"/>
<rect x="1803.6" y="1065.71" width="36.5" height="85.09" fill="#c63a25"/>
<line x1="1873.5" y1="1061.81" x2="1873.5" y2="1041.98" stroke="#04804a" stroke-width="1.7"/>
<line x1="1865" y1="1041.98" x2="1882" y2="1041.98" stroke="#04804a" stroke-width="1.7"/>
<rect x="1855.4" y="1061.81" width="36.2" height="88.99" fill="#04804a"/>
<line x1="1924.9" y1="1067.24" x2="1924.9" y2="1050.12" stroke="#756fa8" stroke-width="1.7"/>
<line x1="1916.4" y1="1050.12" x2="1933.4" y2="1050.12" stroke="#756fa8" stroke-width="1.7"/>
<rect x="1907.1" y="1067.24" width="35.6" height="83.56" fill="#756fa8"/>
<line x1="1745" y1="1014.35" x2="1745" y2="1151.65" stroke="#000" stroke-width="1.7"/>
<line x1="1740.8" y1="1150.8" x2="1951.3" y2="1150.8" stroke="#000" stroke-width="1.7"/>
<text x="1738.9" y="1153.57" font-size="9.4" font-weight="bold" stroke="#000" stroke-width="0.25" text-anchor="end">0.0</text>
<line x1="1740.8" y1="1116.9" x2="1745" y2="1116.9" stroke="#000" stroke-width="1.7"/>
<text x="1738.9" y="1119.67" font-size="9.4" font-weight="bold" stroke="#000" stroke-width="0.25" text-anchor="end">0.2</text>
<line x1="1740.8" y1="1083" x2="1745" y2="1083" stroke="#000" stroke-width="1.7"/>
<text x="1738.9" y="1085.77" font-size="9.4" font-weight="bold" stroke="#000" stroke-width="0.25" text-anchor="end">0.4</text>
<line x1="1740.8" y1="1049.1" x2="1745" y2="1049.1" stroke="#000" stroke-width="1.7"/>
<text x="1738.9" y="1051.87" font-size="9.4" font-weight="bold" stroke="#000" stroke-width="0.25" text-anchor="end">0.6</text>
<line x1="1740.8" y1="1015.2" x2="1745" y2="1015.2" stroke="#000" stroke-width="1.7"/>
<text x="1738.9" y="1017.97" font-size="9.4" font-weight="bold" stroke="#000" stroke-width="0.25" text-anchor="end">0.8</text>
<line x1="1770.65" y1="1150.8" x2="1770.65" y2="1155.25" stroke="#000" stroke-width="1.7"/>
<text x="1773.05" y="1162.3" font-size="10.3" font-weight="bold" stroke="#000" stroke-width="0.25" text-anchor="end" transform="rotate(-45 1773.05 1162.3)">Control</text>
<line x1="1821.85" y1="1150.8" x2="1821.85" y2="1155.25" stroke="#000" stroke-width="1.7"/>
<text x="1824.25" y="1162.3" font-size="10.3" font-weight="bold" stroke="#000" stroke-width="0.25" text-anchor="end" transform="rotate(-45 1824.25 1162.3)">0.2 mg/mL</text>
<line x1="1873.5" y1="1150.8" x2="1873.5" y2="1155.25" stroke="#000" stroke-width="1.7"/>
<text x="1875.9" y="1162.3" font-size="10.3" font-weight="bold" stroke="#000" stroke-width="0.25" text-anchor="end" transform="rotate(-45 1875.9 1162.3)">0.8 mg/mL</text>
<line x1="1924.9" y1="1150.8" x2="1924.9" y2="1155.25" stroke="#000" stroke-width="1.7"/>
<text x="1927.3" y="1162.3" font-size="10.3" font-weight="bold" stroke="#000" stroke-width="0.25" text-anchor="end" transform="rotate(-45 1927.3 1162.3)">3.2 mg/mL</text>
<text x="1719.9" y="1082.5" font-size="11.1" font-weight="bold" stroke="#000" stroke-width="0.25" text-anchor="middle" transform="rotate(-90 1719.9 1082.5)">FACL4 relative protein level</text>
<line x1="1413.9" y1="1272.47" x2="1413.9" y2="1255.43" stroke="#0768a5" stroke-width="1.7"/>
<line x1="1405.4" y1="1255.43" x2="1422.4" y2="1255.43" stroke="#0768a5" stroke-width="1.7"/>
<rect x="1395.8" y="1272.47" width="36.2" height="75.23" fill="#0768a5"/>
<line x1="1465.25" y1="1273.56" x2="1465.25" y2="1265.44" stroke="#c63a25" stroke-width="1.7"/>
<line x1="1456.75" y1="1265.44" x2="1473.75" y2="1265.44" stroke="#c63a25" stroke-width="1.7"/>
<rect x="1447" y="1273.56" width="36.5" height="74.14" fill="#c63a25"/>
<line x1="1516.6" y1="1274.1" x2="1516.6" y2="1261.38" stroke="#04804a" stroke-width="1.7"/>
<line x1="1508.1" y1="1261.38" x2="1525.1" y2="1261.38" stroke="#04804a" stroke-width="1.7"/>
<rect x="1498.2" y="1274.1" width="36.8" height="73.6" fill="#04804a"/>
<line x1="1568.2" y1="1271.93" x2="1568.2" y2="1242.44" stroke="#756fa8" stroke-width="1.7"/>
<line x1="1559.7" y1="1242.44" x2="1576.7" y2="1242.44" stroke="#756fa8" stroke-width="1.7"/>
<rect x="1550.2" y="1271.93" width="36" height="75.77" fill="#756fa8"/>
<line x1="1388.5" y1="1211.55" x2="1388.5" y2="1348.55" stroke="#000" stroke-width="1.7"/>
<line x1="1384.3" y1="1347.7" x2="1594.4" y2="1347.7" stroke="#000" stroke-width="1.7"/>
<text x="1382.4" y="1350.47" font-size="9.4" font-weight="bold" stroke="#000" stroke-width="0.25" text-anchor="end">0.0</text>
<line x1="1384.3" y1="1320.64" x2="1388.5" y2="1320.64" stroke="#000" stroke-width="1.7"/>
<text x="1382.4" y="1323.41" font-size="9.4" font-weight="bold" stroke="#000" stroke-width="0.25" text-anchor="end">0.1</text>
<line x1="1384.3" y1="1293.58" x2="1388.5" y2="1293.58" stroke="#000" stroke-width="1.7"/>
<text x="1382.4" y="1296.35" font-size="9.4" font-weight="bold" stroke="#000" stroke-width="0.25" text-anchor="end">0.2</text>
<line x1="1384.3" y1="1266.52" x2="1388.5" y2="1266.52" stroke="#000" stroke-width="1.7"/>
<text x="1382.4" y="1269.29" font-size="9.4" font-weight="bold" stroke="#000" stroke-width="0.25" text-anchor="end">0.3</text>
<line x1="1384.3" y1="1239.46" x2="1388.5" y2="1239.46" stroke="#000" stroke-width="1.7"/>
<text x="1382.4" y="1242.23" font-size="9.4" font-weight="bold" stroke="#000" stroke-width="0.25" text-anchor="end">0.4</text>
<line x1="1384.3" y1="1212.4" x2="1388.5" y2="1212.4" stroke="#000" stroke-width="1.7"/>
<text x="1382.4" y="1215.17" font-size="9.4" font-weight="bold" stroke="#000" stroke-width="0.25" text-anchor="end">0.5</text>
<line x1="1413.9" y1="1347.7" x2="1413.9" y2="1352.15" stroke="#000" stroke-width="1.7"/>
<text x="1416.3" y="1359.2" font-size="10.3" font-weight="bold" stroke="#000" stroke-width="0.25" text-anchor="end" transform="rotate(-45 1416.3 1359.2)">Control</text>
<line x1="1465.25" y1="1347.7" x2="1465.25" y2="1352.15" stroke="#000" stroke-width="1.7"/>
<text x="1467.65" y="1359.2" font-size="10.3" font-weight="bold" stroke="#000" stroke-width="0.25" text-anchor="end" transform="rotate(-45 1467.65 1359.2)">0.2 mg/mL</text>
<line x1="1516.6" y1="1347.7" x2="1516.6" y2="1352.15" stroke="#000" stroke-width="1.7"/>
<text x="1519" y="1359.2" font-size="10.3" font-weight="bold" stroke="#000" stroke-width="0.25" text-anchor="end" transform="rotate(-45 1519 1359.2)">0.8 mg/mL</text>
<line x1="1568.2" y1="1347.7" x2="1568.2" y2="1352.15" stroke="#000" stroke-width="1.7"/>
<text x="1570.6" y="1359.2" font-size="10.3" font-weight="bold" stroke="#000" stroke-width="0.25" text-anchor="end" transform="rotate(-45 1570.6 1359.2)">3.2 mg/mL</text>
<text x="1363.8" y="1279.4" font-size="11.1" font-weight="bold" stroke="#000" stroke-width="0.25" text-anchor="middle" transform="rotate(-90 1363.8 1279.4)">TFRC relative protein level</text>
<line x1="1770.65" y1="1260.03" x2="1770.65" y2="1227.01" stroke="#0768a5" stroke-width="1.7"/>
<line x1="1762.15" y1="1227.01" x2="1779.15" y2="1227.01" stroke="#0768a5" stroke-width="1.7"/>
<rect x="1752.4" y="1260.03" width="36.5" height="87.67" fill="#0768a5"/>
<line x1="1821.85" y1="1269.63" x2="1821.85" y2="1260.03" stroke="#c63a25" stroke-width="1.7"/>
<line x1="1813.35" y1="1260.03" x2="1830.35" y2="1260.03" stroke="#c63a25" stroke-width="1.7"/>
<rect x="1803.6" y="1269.63" width="36.5" height="78.07" fill="#c63a25"/>
<line x1="1873.5" y1="1266.52" x2="1873.5" y2="1263.68" stroke="#04804a" stroke-width="1.7"/>
<line x1="1865" y1="1263.68" x2="1882" y2="1263.68" stroke="#04804a" stroke-width="1.7"/>
<rect x="1855.4" y="1266.52" width="36.2" height="81.18" fill="#04804a"/>
<line x1="1924.9" y1="1254.88" x2="1924.9" y2="1244.06" stroke="#756fa8" stroke-width="1.7"/>
<line x1="1916.4" y1="1244.06" x2="1933.4" y2="1244.06" stroke="#756fa8" stroke-width="1.7"/>
<rect x="1907.1" y="1254.88" width="35.6" height="92.82" fill="#756fa8"/>
<line x1="1745" y1="1211.55" x2="1745" y2="1348.55" stroke="#000" stroke-width="1.7"/>
<line x1="1740.8" y1="1347.7" x2="1951.3" y2="1347.7" stroke="#000" stroke-width="1.7"/>
<text x="1738.9" y="1350.47" font-size="9.4" font-weight="bold" stroke="#000" stroke-width="0.25" text-anchor="end">0.0</text>
<line x1="1740.8" y1="1320.64" x2="1745" y2="1320.64" stroke="#000" stroke-width="1.7"/>
<text x="1738.9" y="1323.41" font-size="9.4" font-weight="bold" stroke="#000" stroke-width="0.25" text-anchor="end">0.2</text>
<line x1="1740.8" y1="1293.58" x2="1745" y2="1293.58" stroke="#000" stroke-width="1.7"/>
<text x="1738.9" y="1296.35" font-size="9.4" font-weight="bold" stroke="#000" stroke-width="0.25" text-anchor="end">0.4</text>
<line x1="1740.8" y1="1266.52" x2="1745" y2="1266.52" stroke="#000" stroke-width="1.7"/>
<text x="1738.9" y="1269.29" font-size="9.4" font-weight="bold" stroke="#000" stroke-width="0.25" text-anchor="end">0.6</text>
<line x1="1740.8" y1="1239.46" x2="1745" y2="1239.46" stroke="#000" stroke-width="1.7"/>
<text x="1738.9" y="1242.23" font-size="9.4" font-weight="bold" stroke="#000" stroke-width="0.25" text-anchor="end">0.8</text>
<line x1="1740.8" y1="1212.4" x2="1745" y2="1212.4" stroke="#000" stroke-width="1.7"/>
<text x="1738.9" y="1215.17" font-size="9.4" font-weight="bold" stroke="#000" stroke-width="0.25" text-anchor="end">1.0</text>
<line x1="1770.65" y1="1347.7" x2="1770.65" y2="1352.15" stroke="#000" stroke-width="1.7"/>
<text x="1773.05" y="1359.2" font-size="10.3" font-weight="bold" stroke="#000" stroke-width="0.25" text-anchor="end" transform="rotate(-45 1773.05 1359.2)">Control</text>
<line x1="1821.85" y1="1347.7" x2="1821.85" y2="1352.15" stroke="#000" stroke-width="1.7"/>
<text x="1824.25" y="1359.2" font-size="10.3" font-weight="bold" stroke="#000" stroke-width="0.25" text-anchor="end" transform="rotate(-45 1824.25 1359.2)">0.2 mg/mL</text>
<line x1="1873.5" y1="1347.7" x2="1873.5" y2="1352.15" stroke="#000" stroke-width="1.7"/>
<text x="1875.9" y="1359.2" font-size="10.3" font-weight="bold" stroke="#000" stroke-width="0.25" text-anchor="end" transform="rotate(-45 1875.9 1359.2)">0.8 mg/mL</text>
<line x1="1924.9" y1="1347.7" x2="1924.9" y2="1352.15" stroke="#000" stroke-width="1.7"/>
<text x="1927.3" y="1359.2" font-size="10.3" font-weight="bold" stroke="#000" stroke-width="0.25" text-anchor="end" transform="rotate(-45 1927.3 1359.2)">3.2 mg/mL</text>
<text x="1719.9" y="1280.2" font-size="11.1" font-weight="bold" stroke="#000" stroke-width="0.25" text-anchor="middle" transform="rotate(-90 1719.9 1280.2)">xCT relative protein level</text>
<rect x="222.9" y="16.9" width="226.2" height="227.5" fill="#fff"/>
<line x1="222.9" y1="110" x2="449.1" y2="110" stroke="#1878bc" stroke-width="0.8" stroke-opacity="0.7"/>
<path d="M312.05 109.97 L319.69 106.92 L325.8 100.81 L330.38 93.17 L334.96 82.48 L339.54 67.21 L344.13 47.35 L347.18 38.95 L350.24 37.42 L351.76 32.84 L355.58 32.84 L358.64 38.19 L360.93 48.88 L363.98 61.1 L367.04 73.32 L371.62 87.06 L376.2 96.23 L382.31 103.1 L389.95 106.92 L403.69 109.97 Z" fill="#449ad2"/>
<path d="M312.05 109.97 L319.69 106.92 L325.8 100.81 L330.38 93.17 L334.96 82.48 L339.54 67.21 L344.13 47.35 L347.18 38.95 L350.24 37.42 L351.76 32.84 L355.58 32.84 L358.64 38.19 L360.93 48.88 L363.98 61.1 L367.04 73.32 L371.62 87.06 L376.2 96.23 L382.31 103.1 L389.95 106.92 L403.69 109.97 Z" fill="none" stroke="#1878bc" stroke-width="1" stroke-linejoin="round"/>
<line x1="222.9" y1="155.6" x2="449.1" y2="155.6" stroke="#c8323a" stroke-width="0.8" stroke-opacity="0.7"/>
<path d="M310.52 155.49 L319.69 152.74 L327.32 145.1 L333.43 131.36 L338.02 116.08 L342.6 94.7 L346.42 83.24 L350.24 81.72 L352.53 72.55 L355.58 72.55 L357.11 78.66 L360.16 82.48 L363.22 97.75 L367.04 113.03 L370.09 126.78 L376.2 137.47 L383.84 146.63 L393 152.74 L405.22 155.49 Z" fill="#e96767"/>
<clipPath id="hc1"><path d="M312.05 109.97 L319.69 106.92 L325.8 100.81 L330.38 93.17 L334.96 82.48 L339.54 67.21 L344.13 47.35 L347.18 38.95 L350.24 37.42 L351.76 32.84 L355.58 32.84 L358.64 38.19 L360.93 48.88 L363.98 61.1 L367.04 73.32 L371.62 87.06 L376.2 96.23 L382.31 103.1 L389.95 106.92 L403.69 109.97 Z"/></clipPath>
<path d="M310.52 155.49 L319.69 152.74 L327.32 145.1 L333.43 131.36 L338.02 116.08 L342.6 94.7 L346.42 83.24 L350.24 81.72 L352.53 72.55 L355.58 72.55 L357.11 78.66 L360.16 82.48 L363.22 97.75 L367.04 113.03 L370.09 126.78 L376.2 137.47 L383.84 146.63 L393 152.74 L405.22 155.49 Z" fill="#a83e55" clip-path="url(#hc1)"/>
<path d="M310.52 155.49 L319.69 152.74 L327.32 145.1 L333.43 131.36 L338.02 116.08 L342.6 94.7 L346.42 83.24 L350.24 81.72 L352.53 72.55 L355.58 72.55 L357.11 78.66 L360.16 82.48 L363.22 97.75 L367.04 113.03 L370.09 126.78 L376.2 137.47 L383.84 146.63 L393 152.74 L405.22 155.49 Z" fill="none" stroke="#c8323a" stroke-width="1" stroke-linejoin="round"/>
<line x1="222.9" y1="200.1" x2="449.1" y2="200.1" stroke="#069428" stroke-width="0.8" stroke-opacity="0.7"/>
<path d="M314.34 200.1 L321.21 197.35 L327.32 191.24 L331.91 183.6 L336.49 172.91 L341.07 159.16 L345.65 151.22 L348.71 137.48 L351 129.84 L353.29 126.78 L355.58 126.48 L357.11 128.31 L359.4 125.26 L360.93 129.84 L361.69 137.48 L364.75 138.24 L366.27 143.58 L368.56 152.75 L372.38 160.69 L374.67 169.86 L379.26 180.55 L383.84 188.19 L389.95 194.3 L399.11 198.11 L415.91 200.1 Z" fill="#00b460"/>
<clipPath id="hc2"><path d="M310.52 155.49 L319.69 152.74 L327.32 145.1 L333.43 131.36 L338.02 116.08 L342.6 94.7 L346.42 83.24 L350.24 81.72 L352.53 72.55 L355.58 72.55 L357.11 78.66 L360.16 82.48 L363.22 97.75 L367.04 113.03 L370.09 126.78 L376.2 137.47 L383.84 146.63 L393 152.74 L405.22 155.49 Z"/></clipPath>
<path d="M314.34 200.1 L321.21 197.35 L327.32 191.24 L331.91 183.6 L336.49 172.91 L341.07 159.16 L345.65 151.22 L348.71 137.48 L351 129.84 L353.29 126.78 L355.58 126.48 L357.11 128.31 L359.4 125.26 L360.93 129.84 L361.69 137.48 L364.75 138.24 L366.27 143.58 L368.56 152.75 L372.38 160.69 L374.67 169.86 L379.26 180.55 L383.84 188.19 L389.95 194.3 L399.11 198.11 L415.91 200.1 Z" fill="#3c7d1c" clip-path="url(#hc2)"/>
<path d="M314.34 200.1 L321.21 197.35 L327.32 191.24 L331.91 183.6 L336.49 172.91 L341.07 159.16 L345.65 151.22 L348.71 137.48 L351 129.84 L353.29 126.78 L355.58 126.48 L357.11 128.31 L359.4 125.26 L360.93 129.84 L361.69 137.48 L364.75 138.24 L366.27 143.58 L368.56 152.75 L372.38 160.69 L374.67 169.86 L379.26 180.55 L383.84 188.19 L389.95 194.3 L399.11 198.11 L415.91 200.1 Z" fill="none" stroke="#069428" stroke-width="1.3" stroke-linejoin="round"/>
<path d="M328.85 244.24 L334.96 240.12 L339.54 234.77 L344.13 226.37 L348.71 214.15 L353.29 201.93 L356.34 194.3 L360.16 185.13 L362.45 183.6 L364.75 185.89 L368.56 182.84 L370.09 179.78 L372.38 182.84 L374.67 192.77 L377.73 201.93 L380.78 211.1 L385.37 219.5 L389.95 224.84 L394.53 232.48 L400.64 238.59 L408.28 242.41 L414.39 244.24 Z" fill="#9b62ba"/>
<clipPath id="hc3"><path d="M314.34 200.1 L321.21 197.35 L327.32 191.24 L331.91 183.6 L336.49 172.91 L341.07 159.16 L345.65 151.22 L348.71 137.48 L351 129.84 L353.29 126.78 L355.58 126.48 L357.11 128.31 L359.4 125.26 L360.93 129.84 L361.69 137.48 L364.75 138.24 L366.27 143.58 L368.56 152.75 L372.38 160.69 L374.67 169.86 L379.26 180.55 L383.84 188.19 L389.95 194.3 L399.11 198.11 L415.91 200.1 Z"/></clipPath>
<path d="M328.85 244.24 L334.96 240.12 L339.54 234.77 L344.13 226.37 L348.71 214.15 L353.29 201.93 L356.34 194.3 L360.16 185.13 L362.45 183.6 L364.75 185.89 L368.56 182.84 L370.09 179.78 L372.38 182.84 L374.67 192.77 L377.73 201.93 L380.78 211.1 L385.37 219.5 L389.95 224.84 L394.53 232.48 L400.64 238.59 L408.28 242.41 L414.39 244.24 Z" fill="#564688" clip-path="url(#hc3)"/>
<path d="M328.85 244.24 L334.96 240.12 L339.54 234.77 L344.13 226.37 L348.71 214.15 L353.29 201.93 L356.34 194.3 L360.16 185.13 L362.45 183.6 L364.75 185.89 L368.56 182.84 L370.09 179.78 L372.38 182.84 L374.67 192.77 L377.73 201.93 L380.78 211.1 L385.37 219.5 L389.95 224.84 L394.53 232.48 L400.64 238.59 L408.28 242.41 L414.39 244.24 Z" fill="none" stroke="#642896" stroke-width="1" stroke-linejoin="round"/>
<rect x="222.9" y="16.9" width="226.2" height="227.5" fill="none" stroke="#1a1a1a" stroke-width="1.3"/>
<line x1="223.2" y1="244.4" x2="223.2" y2="249.9" stroke="#111" stroke-width="1.3"/>
<line x1="300.6" y1="244.4" x2="300.6" y2="249.9" stroke="#111" stroke-width="1.3"/>
<line x1="377.9" y1="244.4" x2="377.9" y2="249.9" stroke="#111" stroke-width="1.3"/>
<line x1="246.5" y1="244.4" x2="246.5" y2="247.2" stroke="#111" stroke-width="0.9"/>
<line x1="260.13" y1="244.4" x2="260.13" y2="247.2" stroke="#111" stroke-width="0.9"/>
<line x1="269.8" y1="244.4" x2="269.8" y2="247.2" stroke="#111" stroke-width="0.9"/>
<line x1="277.3" y1="244.4" x2="277.3" y2="247.2" stroke="#111" stroke-width="0.9"/>
<line x1="283.43" y1="244.4" x2="283.43" y2="247.2" stroke="#111" stroke-width="0.9"/>
<line x1="288.61" y1="244.4" x2="288.61" y2="247.2" stroke="#111" stroke-width="0.9"/>
<line x1="293.1" y1="244.4" x2="293.1" y2="247.2" stroke="#111" stroke-width="0.9"/>
<line x1="297.06" y1="244.4" x2="297.06" y2="247.2" stroke="#111" stroke-width="0.9"/>
<line x1="323.9" y1="244.4" x2="323.9" y2="247.2" stroke="#111" stroke-width="0.9"/>
<line x1="337.53" y1="244.4" x2="337.53" y2="247.2" stroke="#111" stroke-width="0.9"/>
<line x1="347.2" y1="244.4" x2="347.2" y2="247.2" stroke="#111" stroke-width="0.9"/>
<line x1="354.7" y1="244.4" x2="354.7" y2="247.2" stroke="#111" stroke-width="0.9"/>
<line x1="360.83" y1="244.4" x2="360.83" y2="247.2" stroke="#111" stroke-width="0.9"/>
<line x1="366.01" y1="244.4" x2="366.01" y2="247.2" stroke="#111" stroke-width="0.9"/>
<line x1="370.5" y1="244.4" x2="370.5" y2="247.2" stroke="#111" stroke-width="0.9"/>
<line x1="374.46" y1="244.4" x2="374.46" y2="247.2" stroke="#111" stroke-width="0.9"/>
<line x1="401.3" y1="244.4" x2="401.3" y2="247.2" stroke="#111" stroke-width="0.9"/>
<line x1="414.93" y1="244.4" x2="414.93" y2="247.2" stroke="#111" stroke-width="0.9"/>
<line x1="424.6" y1="244.4" x2="424.6" y2="247.2" stroke="#111" stroke-width="0.9"/>
<line x1="432.1" y1="244.4" x2="432.1" y2="247.2" stroke="#111" stroke-width="0.9"/>
<line x1="438.23" y1="244.4" x2="438.23" y2="247.2" stroke="#111" stroke-width="0.9"/>
<line x1="443.41" y1="244.4" x2="443.41" y2="247.2" stroke="#111" stroke-width="0.9"/>
<line x1="447.9" y1="244.4" x2="447.9" y2="247.2" stroke="#111" stroke-width="0.9"/>
<text x="228" y="266.6" font-size="9" fill="#222">10<tspan dx="0.8" dy="-6.4" font-size="8.1">2</tspan></text>
<text x="300.6" y="266.6" font-size="9" fill="#222">10<tspan dx="0.8" dy="-6.4" font-size="8.1">3</tspan></text>
<text x="378" y="266.6" font-size="9" fill="#222">10<tspan dx="0.8" dy="-6.4" font-size="8.1">4</tspan></text>
<text x="233.4" y="95.9" font-size="10.9" fill="#333">Control</text>
<text x="233.4" y="140.5" font-size="10.9" fill="#333">0.2 mg/mL</text>
<text x="233.4" y="185.5" font-size="10.9" fill="#333">0.8 mg/mL</text>
<text x="233.4" y="229.3" font-size="10.9" fill="#333">3.2 mg/mL</text>
<text x="334.4" y="289.8" font-size="10" text-anchor="middle" fill="#333">FITC</text>
<rect x="471.6" y="18.3" width="226.5" height="227.2" fill="#fff"/>
<line x1="471.6" y1="111.2" x2="698.1" y2="111.2" stroke="#1878bc" stroke-width="0.8" stroke-opacity="0.7"/>
<path d="M546.92 111.2 L559.14 109.67 L566.78 105.39 L572.89 97.75 L577.47 87.06 L582.05 73.32 L586.63 58.04 L590.45 44.3 L592.74 39.41 L595.8 38.95 L598.09 35.13 L601.14 36.35 L604.2 36.66 L606.49 34.83 L608.02 36.66 L608.78 44.3 L611.83 51.93 L615.65 65.68 L620.24 82.48 L624.82 93.17 L630.93 100.81 L638.56 106.92 L646.2 109.67 L652.31 111.2 Z" fill="#449ad2"/>
<path d="M546.92 111.2 L559.14 109.67 L566.78 105.39 L572.89 97.75 L577.47 87.06 L582.05 73.32 L586.63 58.04 L590.45 44.3 L592.74 39.41 L595.8 38.95 L598.09 35.13 L601.14 36.35 L604.2 36.66 L606.49 34.83 L608.02 36.66 L608.78 44.3 L611.83 51.93 L615.65 65.68 L620.24 82.48 L624.82 93.17 L630.93 100.81 L638.56 106.92 L646.2 109.67 L652.31 111.2 Z" fill="none" stroke="#1878bc" stroke-width="1" stroke-linejoin="round"/>
<line x1="471.6" y1="156.1" x2="698.1" y2="156.1" stroke="#c8323a" stroke-width="0.8" stroke-opacity="0.7"/>
<path d="M543.86 156.1 L551.5 153.51 L559.14 148.16 L566.78 137.47 L572.89 125.25 L577.47 113.03 L581.29 103.86 L584.34 94.7 L587.4 88.59 L590.45 86.76 L593.51 86.3 L596.56 88.28 L599.62 87.37 L601.91 90.12 L604.2 96.23 L608.02 103.86 L611.07 114.56 L615.65 125.25 L621.76 137.47 L629.4 148.16 L637.04 152.74 L644.67 155.03 L652.31 156.1 Z" fill="#e96767"/>
<clipPath id="hc4"><path d="M546.92 111.2 L559.14 109.67 L566.78 105.39 L572.89 97.75 L577.47 87.06 L582.05 73.32 L586.63 58.04 L590.45 44.3 L592.74 39.41 L595.8 38.95 L598.09 35.13 L601.14 36.35 L604.2 36.66 L606.49 34.83 L608.02 36.66 L608.78 44.3 L611.83 51.93 L615.65 65.68 L620.24 82.48 L624.82 93.17 L630.93 100.81 L638.56 106.92 L646.2 109.67 L652.31 111.2 Z"/></clipPath>
<path d="M543.86 156.1 L551.5 153.51 L559.14 148.16 L566.78 137.47 L572.89 125.25 L577.47 113.03 L581.29 103.86 L584.34 94.7 L587.4 88.59 L590.45 86.76 L593.51 86.3 L596.56 88.28 L599.62 87.37 L601.91 90.12 L604.2 96.23 L608.02 103.86 L611.07 114.56 L615.65 125.25 L621.76 137.47 L629.4 148.16 L637.04 152.74 L644.67 155.03 L652.31 156.1 Z" fill="#a83e55" clip-path="url(#hc4)"/>
<path d="M543.86 156.1 L551.5 153.51 L559.14 148.16 L566.78 137.47 L572.89 125.25 L577.47 113.03 L581.29 103.86 L584.34 94.7 L587.4 88.59 L590.45 86.76 L593.51 86.3 L596.56 88.28 L599.62 87.37 L601.91 90.12 L604.2 96.23 L608.02 103.86 L611.07 114.56 L615.65 125.25 L621.76 137.47 L629.4 148.16 L637.04 152.74 L644.67 155.03 L652.31 156.1 Z" fill="none" stroke="#c8323a" stroke-width="1" stroke-linejoin="round"/>
<line x1="471.6" y1="201.5" x2="698.1" y2="201.5" stroke="#069428" stroke-width="0.8" stroke-opacity="0.7"/>
<path d="M513.32 201.47 L525.54 200.1 L534.7 198.57 L541.57 197.35 L542.03 194.3 L546.92 189.71 L553.03 180.55 L557.61 171.38 L562.19 165.27 L565.25 157.64 L568.3 146.64 L571.36 137.48 L575.94 135.18 L578.99 134.42 L583.58 135.18 L586.63 140.53 L588.92 146.64 L592.74 150.46 L595.8 156.11 L598.85 163.75 L604.2 171.38 L608.02 180.55 L612.6 189.71 L618.71 195.06 L624.82 196.59 L630.93 198.88 L638.56 201.47 Z" fill="#00b460"/>
<clipPath id="hc5"><path d="M543.86 156.1 L551.5 153.51 L559.14 148.16 L566.78 137.47 L572.89 125.25 L577.47 113.03 L581.29 103.86 L584.34 94.7 L587.4 88.59 L590.45 86.76 L593.51 86.3 L596.56 88.28 L599.62 87.37 L601.91 90.12 L604.2 96.23 L608.02 103.86 L611.07 114.56 L615.65 125.25 L621.76 137.47 L629.4 148.16 L637.04 152.74 L644.67 155.03 L652.31 156.1 Z"/></clipPath>
<path d="M513.32 201.47 L525.54 200.1 L534.7 198.57 L541.57 197.35 L542.03 194.3 L546.92 189.71 L553.03 180.55 L557.61 171.38 L562.19 165.27 L565.25 157.64 L568.3 146.64 L571.36 137.48 L575.94 135.18 L578.99 134.42 L583.58 135.18 L586.63 140.53 L588.92 146.64 L592.74 150.46 L595.8 156.11 L598.85 163.75 L604.2 171.38 L608.02 180.55 L612.6 189.71 L618.71 195.06 L624.82 196.59 L630.93 198.88 L638.56 201.47 Z" fill="#3c7d1c" clip-path="url(#hc5)"/>
<path d="M513.32 201.47 L525.54 200.1 L534.7 198.57 L541.57 197.35 L542.03 194.3 L546.92 189.71 L553.03 180.55 L557.61 171.38 L562.19 165.27 L565.25 157.64 L568.3 146.64 L571.36 137.48 L575.94 135.18 L578.99 134.42 L583.58 135.18 L586.63 140.53 L588.92 146.64 L592.74 150.46 L595.8 156.11 L598.85 163.75 L604.2 171.38 L608.02 180.55 L612.6 189.71 L618.71 195.06 L624.82 196.59 L630.93 198.88 L638.56 201.47 Z" fill="none" stroke="#069428" stroke-width="1.3" stroke-linejoin="round"/>
<path d="M514.84 245.77 L522.48 244.7 L528.59 242.1 L540.81 242.1 L541.57 234.01 L545.39 228.66 L548.45 224.08 L550.74 225.61 L553.79 220.26 L557.61 213.39 L560.67 206.51 L563.72 205.75 L566.78 201.93 L569.83 194.3 L572.89 193.53 L575.94 191.24 L578.99 190.93 L582.05 190.02 L584.34 194.3 L588.16 195.82 L591.21 200.4 L592.74 206.51 L595.8 207.28 L598.85 212.62 L601.91 218.73 L606.49 227.9 L611.07 235.54 L617.18 240.88 L626.34 244.7 L638.56 245.77 Z" fill="#9b62ba"/>
<clipPath id="hc6"><path d="M513.32 201.47 L525.54 200.1 L534.7 198.57 L541.57 197.35 L542.03 194.3 L546.92 189.71 L553.03 180.55 L557.61 171.38 L562.19 165.27 L565.25 157.64 L568.3 146.64 L571.36 137.48 L575.94 135.18 L578.99 134.42 L583.58 135.18 L586.63 140.53 L588.92 146.64 L592.74 150.46 L595.8 156.11 L598.85 163.75 L604.2 171.38 L608.02 180.55 L612.6 189.71 L618.71 195.06 L624.82 196.59 L630.93 198.88 L638.56 201.47 Z"/></clipPath>
<path d="M514.84 245.77 L522.48 244.7 L528.59 242.1 L540.81 242.1 L541.57 234.01 L545.39 228.66 L548.45 224.08 L550.74 225.61 L553.79 220.26 L557.61 213.39 L560.67 206.51 L563.72 205.75 L566.78 201.93 L569.83 194.3 L572.89 193.53 L575.94 191.24 L578.99 190.93 L582.05 190.02 L584.34 194.3 L588.16 195.82 L591.21 200.4 L592.74 206.51 L595.8 207.28 L598.85 212.62 L601.91 218.73 L606.49 227.9 L611.07 235.54 L617.18 240.88 L626.34 244.7 L638.56 245.77 Z" fill="#564688" clip-path="url(#hc6)"/>
<path d="M514.84 245.77 L522.48 244.7 L528.59 242.1 L540.81 242.1 L541.57 234.01 L545.39 228.66 L548.45 224.08 L550.74 225.61 L553.79 220.26 L557.61 213.39 L560.67 206.51 L563.72 205.75 L566.78 201.93 L569.83 194.3 L572.89 193.53 L575.94 191.24 L578.99 190.93 L582.05 190.02 L584.34 194.3 L588.16 195.82 L591.21 200.4 L592.74 206.51 L595.8 207.28 L598.85 212.62 L601.91 218.73 L606.49 227.9 L611.07 235.54 L617.18 240.88 L626.34 244.7 L638.56 245.77 Z" fill="none" stroke="#642896" stroke-width="1" stroke-linejoin="round"/>
<rect x="471.6" y="18.3" width="226.5" height="227.2" fill="none" stroke="#8a8a8a" stroke-width="1.1"/>
<line x1="471.6" y1="18.3" x2="471.6" y2="245.5" stroke="#1a1a1a" stroke-width="1.4"/>
<line x1="471.6" y1="245.5" x2="698.1" y2="245.5" stroke="#333" stroke-width="1.2"/>
<line x1="514.4" y1="245.5" x2="514.4" y2="251" stroke="#111" stroke-width="1.3"/>
<line x1="601.8" y1="245.5" x2="601.8" y2="251" stroke="#111" stroke-width="1.3"/>
<line x1="689.7" y1="245.5" x2="689.7" y2="251" stroke="#111" stroke-width="1.3"/>
<line x1="479.62" y1="245.5" x2="479.62" y2="248.3" stroke="#111" stroke-width="0.9"/>
<line x1="488.09" y1="245.5" x2="488.09" y2="248.3" stroke="#111" stroke-width="0.9"/>
<line x1="495.01" y1="245.5" x2="495.01" y2="248.3" stroke="#111" stroke-width="0.9"/>
<line x1="500.86" y1="245.5" x2="500.86" y2="248.3" stroke="#111" stroke-width="0.9"/>
<line x1="505.93" y1="245.5" x2="505.93" y2="248.3" stroke="#111" stroke-width="0.9"/>
<line x1="510.4" y1="245.5" x2="510.4" y2="248.3" stroke="#111" stroke-width="0.9"/>
<line x1="540.71" y1="245.5" x2="540.71" y2="248.3" stroke="#111" stroke-width="0.9"/>
<line x1="556.1" y1="245.5" x2="556.1" y2="248.3" stroke="#111" stroke-width="0.9"/>
<line x1="567.02" y1="245.5" x2="567.02" y2="248.3" stroke="#111" stroke-width="0.9"/>
<line x1="575.49" y1="245.5" x2="575.49" y2="248.3" stroke="#111" stroke-width="0.9"/>
<line x1="582.41" y1="245.5" x2="582.41" y2="248.3" stroke="#111" stroke-width="0.9"/>
<line x1="588.26" y1="245.5" x2="588.26" y2="248.3" stroke="#111" stroke-width="0.9"/>
<line x1="593.33" y1="245.5" x2="593.33" y2="248.3" stroke="#111" stroke-width="0.9"/>
<line x1="597.8" y1="245.5" x2="597.8" y2="248.3" stroke="#111" stroke-width="0.9"/>
<line x1="628.11" y1="245.5" x2="628.11" y2="248.3" stroke="#111" stroke-width="0.9"/>
<line x1="643.5" y1="245.5" x2="643.5" y2="248.3" stroke="#111" stroke-width="0.9"/>
<line x1="654.42" y1="245.5" x2="654.42" y2="248.3" stroke="#111" stroke-width="0.9"/>
<line x1="662.89" y1="245.5" x2="662.89" y2="248.3" stroke="#111" stroke-width="0.9"/>
<line x1="669.81" y1="245.5" x2="669.81" y2="248.3" stroke="#111" stroke-width="0.9"/>
<line x1="675.66" y1="245.5" x2="675.66" y2="248.3" stroke="#111" stroke-width="0.9"/>
<line x1="680.73" y1="245.5" x2="680.73" y2="248.3" stroke="#111" stroke-width="0.9"/>
<line x1="685.2" y1="245.5" x2="685.2" y2="248.3" stroke="#111" stroke-width="0.9"/>
<text x="514.8" y="266.8" font-size="9" fill="#222">10<tspan dx="0.8" dy="-6.4" font-size="8.1">4</tspan></text>
<text x="602.2" y="266.8" font-size="9" fill="#222">10<tspan dx="0.8" dy="-6.4" font-size="8.1">5</tspan></text>
<text x="682.5" y="266.8" font-size="9" fill="#222">10<tspan dx="0.8" dy="-6.4" font-size="8.1">6</tspan></text>
<text x="481.2" y="96.5" font-size="10.9" fill="#333">Control</text>
<text x="481.2" y="141.7" font-size="10.9" fill="#333">0.2 mg/mL</text>
<text x="481.2" y="186.6" font-size="10.9" fill="#333">0.8 mg/mL</text>
<text x="481.2" y="230.2" font-size="10.9" fill="#333">3.2 mg/mL</text>
<text x="583.6" y="291.3" font-size="10" text-anchor="middle" fill="#333">PE</text>
<line x1="192.9" y1="314.15" x2="192.9" y2="193.8" stroke="#000" stroke-width="1.5"/>
<path d="M192.9 178.3 L185.3 192.8 L200.5 192.8 Z" fill="#000"/>
<line x1="192.15" y1="313.4" x2="378.4" y2="313.4" stroke="#000" stroke-width="1.5"/>
<path d="M393 313.4 L377.4 305.6 L377.4 321.2 Z" fill="#000"/>
<text x="199.4" y="129.6" font-size="14.6" font-weight="bold" stroke="#000" stroke-width="0.25" text-anchor="middle" transform="rotate(-90 199.4 129.6)">Cell Counts</text>
<text x="410.6" y="319" font-size="15.8">C11-BODIPY</text>
<rect x="1355.6" y="14.5" width="230.8" height="231.4" fill="#fff"/>
<line x1="1355.6" y1="109.1" x2="1586.4" y2="109.1" stroke="#1878bc" stroke-width="0.8" stroke-opacity="0.7"/>
<path d="M1455.8 109.06 L1461.91 106.92 L1466.49 102.34 L1470.31 94.7 L1473.36 82.48 L1475.65 68.73 L1477.94 53.46 L1480.24 42.77 L1482.53 37.88 L1484.05 37.42 L1486.34 40.48 L1488.64 50.4 L1490.93 64.15 L1493.22 76.37 L1496.27 88.59 L1500.09 97.75 L1506.2 104.63 L1513.84 108.14 L1521.48 109.06 Z" fill="#449ad2"/>
<path d="M1455.8 109.06 L1461.91 106.92 L1466.49 102.34 L1470.31 94.7 L1473.36 82.48 L1475.65 68.73 L1477.94 53.46 L1480.24 42.77 L1482.53 37.88 L1484.05 37.42 L1486.34 40.48 L1488.64 50.4 L1490.93 64.15 L1493.22 76.37 L1496.27 88.59 L1500.09 97.75 L1506.2 104.63 L1513.84 108.14 L1521.48 109.06 Z" fill="none" stroke="#1878bc" stroke-width="1" stroke-linejoin="round"/>
<line x1="1355.6" y1="155" x2="1586.4" y2="155" stroke="#c8323a" stroke-width="0.8" stroke-opacity="0.7"/>
<path d="M1442.05 155.03 L1451.21 152.74 L1458.85 146.63 L1464.96 137.47 L1469.54 122.19 L1472.6 109.97 L1475.65 96.23 L1477.94 85.54 L1479.93 80.95 L1481.76 83.24 L1484.05 91.65 L1486.34 100.81 L1489.4 113.03 L1492.45 125.25 L1497.04 137.47 L1503.15 146.63 L1510.78 152.74 L1521.48 155.03 Z" fill="#e96767"/>
<clipPath id="hc7"><path d="M1455.8 109.06 L1461.91 106.92 L1466.49 102.34 L1470.31 94.7 L1473.36 82.48 L1475.65 68.73 L1477.94 53.46 L1480.24 42.77 L1482.53 37.88 L1484.05 37.42 L1486.34 40.48 L1488.64 50.4 L1490.93 64.15 L1493.22 76.37 L1496.27 88.59 L1500.09 97.75 L1506.2 104.63 L1513.84 108.14 L1521.48 109.06 Z"/></clipPath>
<path d="M1442.05 155.03 L1451.21 152.74 L1458.85 146.63 L1464.96 137.47 L1469.54 122.19 L1472.6 109.97 L1475.65 96.23 L1477.94 85.54 L1479.93 80.95 L1481.76 83.24 L1484.05 91.65 L1486.34 100.81 L1489.4 113.03 L1492.45 125.25 L1497.04 137.47 L1503.15 146.63 L1510.78 152.74 L1521.48 155.03 Z" fill="#a83e55" clip-path="url(#hc7)"/>
<path d="M1442.05 155.03 L1451.21 152.74 L1458.85 146.63 L1464.96 137.47 L1469.54 122.19 L1472.6 109.97 L1475.65 96.23 L1477.94 85.54 L1479.93 80.95 L1481.76 83.24 L1484.05 91.65 L1486.34 100.81 L1489.4 113.03 L1492.45 125.25 L1497.04 137.47 L1503.15 146.63 L1510.78 152.74 L1521.48 155.03 Z" fill="none" stroke="#c8323a" stroke-width="1" stroke-linejoin="round"/>
<line x1="1355.6" y1="200.9" x2="1586.4" y2="200.9" stroke="#069428" stroke-width="0.8" stroke-opacity="0.7"/>
<path d="M1461.91 200.86 L1466.49 198.11 L1469.54 192.77 L1472.6 180.55 L1475.65 165.27 L1478.71 152.75 L1481 137.48 L1482.53 125.26 L1484.05 119.15 L1485.58 118.38 L1487.11 120.67 L1488.64 128.31 L1490.93 140.53 L1493.22 152.75 L1494.75 159.16 L1497.04 169.86 L1500.09 179.02 L1503.15 186.66 L1507.73 191.24 L1513.84 195.82 L1519.95 198.88 L1527.59 200.86 Z" fill="#00b460"/>
<clipPath id="hc8"><path d="M1442.05 155.03 L1451.21 152.74 L1458.85 146.63 L1464.96 137.47 L1469.54 122.19 L1472.6 109.97 L1475.65 96.23 L1477.94 85.54 L1479.93 80.95 L1481.76 83.24 L1484.05 91.65 L1486.34 100.81 L1489.4 113.03 L1492.45 125.25 L1497.04 137.47 L1503.15 146.63 L1510.78 152.74 L1521.48 155.03 Z"/></clipPath>
<path d="M1461.91 200.86 L1466.49 198.11 L1469.54 192.77 L1472.6 180.55 L1475.65 165.27 L1478.71 152.75 L1481 137.48 L1482.53 125.26 L1484.05 119.15 L1485.58 118.38 L1487.11 120.67 L1488.64 128.31 L1490.93 140.53 L1493.22 152.75 L1494.75 159.16 L1497.04 169.86 L1500.09 179.02 L1503.15 186.66 L1507.73 191.24 L1513.84 195.82 L1519.95 198.88 L1527.59 200.86 Z" fill="#3c7d1c" clip-path="url(#hc8)"/>
<path d="M1461.91 200.86 L1466.49 198.11 L1469.54 192.77 L1472.6 180.55 L1475.65 165.27 L1478.71 152.75 L1481 137.48 L1482.53 125.26 L1484.05 119.15 L1485.58 118.38 L1487.11 120.67 L1488.64 128.31 L1490.93 140.53 L1493.22 152.75 L1494.75 159.16 L1497.04 169.86 L1500.09 179.02 L1503.15 186.66 L1507.73 191.24 L1513.84 195.82 L1519.95 198.88 L1527.59 200.86 Z" fill="none" stroke="#069428" stroke-width="1.3" stroke-linejoin="round"/>
<path d="M1468.02 245.77 L1472.6 240.12 L1477.18 227.9 L1481 214.15 L1484.05 200.4 L1487.11 189.71 L1490.16 187.42 L1492.45 186.66 L1494.75 191.24 L1497.04 198.88 L1500.09 209.57 L1503.15 218.73 L1506.2 224.84 L1510.78 230.95 L1515.37 237.06 L1519.95 243.17 L1523 245.77 Z" fill="#9b62ba"/>
<clipPath id="hc9"><path d="M1461.91 200.86 L1466.49 198.11 L1469.54 192.77 L1472.6 180.55 L1475.65 165.27 L1478.71 152.75 L1481 137.48 L1482.53 125.26 L1484.05 119.15 L1485.58 118.38 L1487.11 120.67 L1488.64 128.31 L1490.93 140.53 L1493.22 152.75 L1494.75 159.16 L1497.04 169.86 L1500.09 179.02 L1503.15 186.66 L1507.73 191.24 L1513.84 195.82 L1519.95 198.88 L1527.59 200.86 Z"/></clipPath>
<path d="M1468.02 245.77 L1472.6 240.12 L1477.18 227.9 L1481 214.15 L1484.05 200.4 L1487.11 189.71 L1490.16 187.42 L1492.45 186.66 L1494.75 191.24 L1497.04 198.88 L1500.09 209.57 L1503.15 218.73 L1506.2 224.84 L1510.78 230.95 L1515.37 237.06 L1519.95 243.17 L1523 245.77 Z" fill="#564688" clip-path="url(#hc9)"/>
<path d="M1468.02 245.77 L1472.6 240.12 L1477.18 227.9 L1481 214.15 L1484.05 200.4 L1487.11 189.71 L1490.16 187.42 L1492.45 186.66 L1494.75 191.24 L1497.04 198.88 L1500.09 209.57 L1503.15 218.73 L1506.2 224.84 L1510.78 230.95 L1515.37 237.06 L1519.95 243.17 L1523 245.77 Z" fill="none" stroke="#642896" stroke-width="1" stroke-linejoin="round"/>
<rect x="1355.6" y="14.5" width="230.8" height="231.4" fill="none" stroke="#444" stroke-width="1.1"/>
<line x1="1355.6" y1="14.5" x2="1355.6" y2="245.9" stroke="#1a1a1a" stroke-width="1.4"/>
<line x1="1355.6" y1="245.9" x2="1586.4" y2="245.9" stroke="#1a1a1a" stroke-width="1.4"/>
<line x1="1368" y1="245.9" x2="1368" y2="251.4" stroke="#111" stroke-width="1.3"/>
<line x1="1390.1" y1="245.9" x2="1390.1" y2="251.4" stroke="#111" stroke-width="1.3"/>
<line x1="1429.1" y1="245.9" x2="1429.1" y2="251.4" stroke="#111" stroke-width="1.3"/>
<line x1="1466.2" y1="245.9" x2="1466.2" y2="251.4" stroke="#111" stroke-width="1.3"/>
<line x1="1502.8" y1="245.9" x2="1502.8" y2="251.4" stroke="#111" stroke-width="1.3"/>
<line x1="1539.8" y1="245.9" x2="1539.8" y2="251.4" stroke="#111" stroke-width="1.3"/>
<line x1="1576.8" y1="245.9" x2="1576.8" y2="251.4" stroke="#111" stroke-width="1.3"/>
<line x1="1403.24" y1="245.9" x2="1403.24" y2="248.7" stroke="#111" stroke-width="0.8"/>
<line x1="1409.75" y1="245.9" x2="1409.75" y2="248.7" stroke="#111" stroke-width="0.8"/>
<line x1="1414.38" y1="245.9" x2="1414.38" y2="248.7" stroke="#111" stroke-width="0.8"/>
<line x1="1417.96" y1="245.9" x2="1417.96" y2="248.7" stroke="#111" stroke-width="0.8"/>
<line x1="1420.89" y1="245.9" x2="1420.89" y2="248.7" stroke="#111" stroke-width="0.8"/>
<line x1="1423.37" y1="245.9" x2="1423.37" y2="248.7" stroke="#111" stroke-width="0.8"/>
<line x1="1425.51" y1="245.9" x2="1425.51" y2="248.7" stroke="#111" stroke-width="0.8"/>
<line x1="1427.41" y1="245.9" x2="1427.41" y2="248.7" stroke="#111" stroke-width="0.8"/>
<line x1="1440.34" y1="245.9" x2="1440.34" y2="248.7" stroke="#111" stroke-width="0.8"/>
<line x1="1446.85" y1="245.9" x2="1446.85" y2="248.7" stroke="#111" stroke-width="0.8"/>
<line x1="1451.48" y1="245.9" x2="1451.48" y2="248.7" stroke="#111" stroke-width="0.8"/>
<line x1="1455.06" y1="245.9" x2="1455.06" y2="248.7" stroke="#111" stroke-width="0.8"/>
<line x1="1457.99" y1="245.9" x2="1457.99" y2="248.7" stroke="#111" stroke-width="0.8"/>
<line x1="1460.47" y1="245.9" x2="1460.47" y2="248.7" stroke="#111" stroke-width="0.8"/>
<line x1="1462.61" y1="245.9" x2="1462.61" y2="248.7" stroke="#111" stroke-width="0.8"/>
<line x1="1464.51" y1="245.9" x2="1464.51" y2="248.7" stroke="#111" stroke-width="0.8"/>
<line x1="1476.94" y1="245.9" x2="1476.94" y2="248.7" stroke="#111" stroke-width="0.8"/>
<line x1="1483.45" y1="245.9" x2="1483.45" y2="248.7" stroke="#111" stroke-width="0.8"/>
<line x1="1488.08" y1="245.9" x2="1488.08" y2="248.7" stroke="#111" stroke-width="0.8"/>
<line x1="1491.66" y1="245.9" x2="1491.66" y2="248.7" stroke="#111" stroke-width="0.8"/>
<line x1="1494.59" y1="245.9" x2="1494.59" y2="248.7" stroke="#111" stroke-width="0.8"/>
<line x1="1497.07" y1="245.9" x2="1497.07" y2="248.7" stroke="#111" stroke-width="0.8"/>
<line x1="1499.21" y1="245.9" x2="1499.21" y2="248.7" stroke="#111" stroke-width="0.8"/>
<line x1="1501.11" y1="245.9" x2="1501.11" y2="248.7" stroke="#111" stroke-width="0.8"/>
<line x1="1513.94" y1="245.9" x2="1513.94" y2="248.7" stroke="#111" stroke-width="0.8"/>
<line x1="1520.45" y1="245.9" x2="1520.45" y2="248.7" stroke="#111" stroke-width="0.8"/>
<line x1="1525.08" y1="245.9" x2="1525.08" y2="248.7" stroke="#111" stroke-width="0.8"/>
<line x1="1528.66" y1="245.9" x2="1528.66" y2="248.7" stroke="#111" stroke-width="0.8"/>
<line x1="1531.59" y1="245.9" x2="1531.59" y2="248.7" stroke="#111" stroke-width="0.8"/>
<line x1="1534.07" y1="245.9" x2="1534.07" y2="248.7" stroke="#111" stroke-width="0.8"/>
<line x1="1536.21" y1="245.9" x2="1536.21" y2="248.7" stroke="#111" stroke-width="0.8"/>
<line x1="1538.11" y1="245.9" x2="1538.11" y2="248.7" stroke="#111" stroke-width="0.8"/>
<line x1="1550.94" y1="245.9" x2="1550.94" y2="248.7" stroke="#111" stroke-width="0.8"/>
<line x1="1557.45" y1="245.9" x2="1557.45" y2="248.7" stroke="#111" stroke-width="0.8"/>
<line x1="1562.08" y1="245.9" x2="1562.08" y2="248.7" stroke="#111" stroke-width="0.8"/>
<line x1="1565.66" y1="245.9" x2="1565.66" y2="248.7" stroke="#111" stroke-width="0.8"/>
<line x1="1568.59" y1="245.9" x2="1568.59" y2="248.7" stroke="#111" stroke-width="0.8"/>
<line x1="1571.07" y1="245.9" x2="1571.07" y2="248.7" stroke="#111" stroke-width="0.8"/>
<line x1="1573.21" y1="245.9" x2="1573.21" y2="248.7" stroke="#111" stroke-width="0.8"/>
<line x1="1575.11" y1="245.9" x2="1575.11" y2="248.7" stroke="#111" stroke-width="0.8"/>
<line x1="1358.5" y1="245.9" x2="1358.5" y2="248.7" stroke="#111" stroke-width="0.8"/>
<line x1="1361" y1="245.9" x2="1361" y2="248.7" stroke="#111" stroke-width="0.8"/>
<line x1="1363.5" y1="245.9" x2="1363.5" y2="248.7" stroke="#111" stroke-width="0.8"/>
<line x1="1365.5" y1="245.9" x2="1365.5" y2="248.7" stroke="#111" stroke-width="0.8"/>
<line x1="1370" y1="245.9" x2="1370" y2="248.7" stroke="#111" stroke-width="0.8"/>
<line x1="1372" y1="245.9" x2="1372" y2="248.7" stroke="#111" stroke-width="0.8"/>
<line x1="1374.5" y1="245.9" x2="1374.5" y2="248.7" stroke="#111" stroke-width="0.8"/>
<line x1="1377.5" y1="245.9" x2="1377.5" y2="248.7" stroke="#111" stroke-width="0.8"/>
<line x1="1381" y1="245.9" x2="1381" y2="248.7" stroke="#111" stroke-width="0.8"/>
<line x1="1385.5" y1="245.9" x2="1385.5" y2="248.7" stroke="#111" stroke-width="0.8"/>
<text x="1370" y="264.9" font-size="8" fill="#222">0</text>
<text x="1429.8" y="264.9" font-size="7.6" fill="#222">10<tspan dx="0.8" dy="-4.2" font-size="6.84">3</tspan></text>
<text x="1467.3" y="264.9" font-size="7.6" fill="#222">10<tspan dx="0.8" dy="-4.2" font-size="6.84">4</tspan></text>
<text x="1503.9" y="264.9" font-size="7.6" fill="#222">10<tspan dx="0.8" dy="-4.2" font-size="6.84">5</tspan></text>
<text x="1541" y="264.9" font-size="7.6" fill="#222">10<tspan dx="0.8" dy="-4.2" font-size="6.84">6</tspan></text>
<text x="1573.2" y="264.9" font-size="7.6" fill="#222">10<tspan dx="0.8" dy="-4.2" font-size="6.84">7</tspan></text>
<text x="1365.4" y="95.5" font-size="12.7" fill="#333">Control</text>
<text x="1365.4" y="141.3" font-size="12.7" fill="#333">0.2 mg/mL</text>
<text x="1365.4" y="187.4" font-size="12.7" fill="#333">0.8 mg/mL</text>
<text x="1365.4" y="232.3" font-size="12.7" fill="#333">3.2 mg/mL</text>
<text x="1468" y="290.8" font-size="9" text-anchor="middle" fill="#333">PC5.5</text>
<line x1="1329.3" y1="314.45" x2="1329.3" y2="215.9" stroke="#000" stroke-width="1.5"/>
<path d="M1329.3 200.4 L1322.4 214.9 L1336.2 214.9 Z" fill="#000"/>
<line x1="1328.55" y1="313.7" x2="1390.8" y2="313.7" stroke="#000" stroke-width="1.5"/>
<path d="M1404.3 313.7 L1389.8 306.4 L1389.8 321 Z" fill="#000"/>
<text x="1334.9" y="149.8" font-size="14.8" font-weight="bold" stroke="#000" stroke-width="0.25" text-anchor="middle" transform="rotate(-90 1334.9 149.8)">Cell Counts</text>
<text x="1422.2" y="318.8" font-size="16">MitoSOX Red</text>
<clipPath id="wb0"><rect x="1400.9" y="472.9" width="182.1" height="31"/></clipPath>
<rect x="1400.4" y="472.4" width="183.1" height="32" fill="#8c8c8c"/>
<g clip-path="url(#wb0)"><g filter="url(#wblur)">
<rect x="1412.3" y="485.32" width="32.31" height="9.18" rx="4.59" ry="4.59" fill="#050505" fill-opacity="1" transform="rotate(-1.2 1428.45 489.92)"/>
<rect x="1455.51" y="482.1" width="31.42" height="6.81" rx="3.41" ry="3.41" fill="#050505" fill-opacity="1" transform="rotate(-1 1471.22 485.51)"/>
<rect x="1497.83" y="480.92" width="34.95" height="9.18" rx="4.59" ry="4.59" fill="#050505" fill-opacity="1" transform="rotate(1.2 1515.31 485.51)"/>
<rect x="1541.92" y="487.1" width="31.42" height="7.41" rx="3.7" ry="3.7" fill="#050505" fill-opacity="1" transform="rotate(0.8 1557.63 490.8)"/>
</g></g>
<rect x="1400.7" y="472.7" width="182.5" height="31.4" fill="none" stroke="#0c0c0c" stroke-width="1.6"/>
<text x="1393.7" y="494.3" font-size="16.6" text-anchor="end" fill="#1a1a1a">FTL</text>
<text x="1590.7" y="494" font-size="16.4" fill="#1a1a1a">19 kDa</text>
<clipPath id="wb1"><rect x="1400.9" y="513.8" width="182.1" height="30.7"/></clipPath>
<rect x="1400.4" y="513.3" width="183.1" height="31.7" fill="#9e9e9e"/>
<g clip-path="url(#wb1)"><g filter="url(#wblur)">
<rect x="1402.07" y="527.01" width="51.35" height="6.22" rx="3.11" ry="3.11" fill="#050505" fill-opacity="1" transform="rotate(-0.8 1427.75 530.12)"/>
<rect x="1451.1" y="526.55" width="44.65" height="5.04" rx="2.52" ry="2.52" fill="#1c1c1c" fill-opacity="0.95" transform="rotate(-0.4 1473.42 529.07)"/>
<rect x="1486.37" y="524.87" width="49.94" height="5.93" rx="2.96" ry="2.96" fill="#050505" fill-opacity="1" transform="rotate(0.4 1511.34 527.83)"/>
<rect x="1532.22" y="523.84" width="49.06" height="6.22" rx="3.11" ry="3.11" fill="#050505" fill-opacity="1" transform="rotate(0 1556.75 526.95)"/>
</g></g>
<rect x="1400.7" y="513.6" width="182.5" height="31.1" fill="none" stroke="#0c0c0c" stroke-width="1.6"/>
<text x="1393.7" y="534.6" font-size="16.6" text-anchor="end" fill="#1a1a1a">GAPDH</text>
<text x="1590.7" y="533.6" font-size="16.4" fill="#1a1a1a">37 kDa</text>
<clipPath id="wb2"><rect x="1400.9" y="557.4" width="182.1" height="31"/></clipPath>
<rect x="1400.4" y="556.9" width="183.1" height="32" fill="#dadada"/>
<g clip-path="url(#wb2)"><g filter="url(#wblur)">
<rect x="1410.54" y="570.28" width="27.02" height="5.04" rx="2.52" ry="2.52" fill="#050505" fill-opacity="1" transform="rotate(0 1424.05 572.8)"/>
<rect x="1458.15" y="571.64" width="27.02" height="4.44" rx="2.22" ry="2.22" fill="#1c1c1c" fill-opacity="0.85" transform="rotate(0 1471.66 573.86)"/>
<rect x="1502.24" y="571.19" width="27.9" height="5.33" rx="2.67" ry="2.67" fill="#050505" fill-opacity="1" transform="rotate(0 1516.19 573.86)"/>
<rect x="1547.21" y="568.07" width="26.13" height="5.93" rx="2.96" ry="2.96" fill="#050505" fill-opacity="1" transform="rotate(-4.4 1560.27 571.04)"/>
</g></g>
<rect x="1400.7" y="557.2" width="182.5" height="31.4" fill="none" stroke="#0c0c0c" stroke-width="1.6"/>
<text x="1393.7" y="580.4" font-size="16.6" text-anchor="end" fill="#1a1a1a">NOCA4</text>
<text x="1590.7" y="579.6" font-size="16.4" fill="#1a1a1a">80 kDa</text>
<clipPath id="wb3"><rect x="1400.9" y="598" width="182.1" height="30.7"/></clipPath>
<rect x="1400.4" y="597.5" width="183.1" height="31.7" fill="#c0c0c0"/>
<g clip-path="url(#wb3)"><g filter="url(#wblur)">
<rect x="1410.54" y="610.99" width="42.89" height="5.04" rx="2.52" ry="2.52" fill="#050505" fill-opacity="1" transform="rotate(0 1431.98 613.51)"/>
<rect x="1456.39" y="612.02" width="37.6" height="4.74" rx="2.37" ry="2.37" fill="#1c1c1c" fill-opacity="0.95" transform="rotate(0 1475.19 614.39)"/>
<rect x="1495.18" y="610.84" width="40.24" height="5.33" rx="2.67" ry="2.67" fill="#050505" fill-opacity="1" transform="rotate(-0.8 1515.31 613.51)"/>
<rect x="1539.27" y="609.43" width="35.83" height="5.33" rx="2.67" ry="2.67" fill="#050505" fill-opacity="1" transform="rotate(0 1557.19 612.1)"/>
</g></g>
<rect x="1400.7" y="597.8" width="182.5" height="31.1" fill="none" stroke="#0c0c0c" stroke-width="1.6"/>
<text x="1393.7" y="619.2" font-size="16.6" text-anchor="end" fill="#1a1a1a">GAPDH</text>
<text x="1590.7" y="617.9" font-size="16.4" fill="#1a1a1a">37 kDa</text>
<clipPath id="wb4"><rect x="1400.9" y="645" width="182.1" height="31"/></clipPath>
<rect x="1400.4" y="644.5" width="183.1" height="32" fill="#bababa"/>
<g clip-path="url(#wb4)"><g filter="url(#wblur)">
<rect x="1414.95" y="658.59" width="26.13" height="6.81" rx="3.41" ry="3.41" fill="#050505" fill-opacity="1" transform="rotate(0 1428.01 662)"/>
<rect x="1454.62" y="658.3" width="28.78" height="7.41" rx="3.7" ry="3.7" fill="#050505" fill-opacity="1" transform="rotate(0 1469.01 662)"/>
<rect x="1495.18" y="658.59" width="27.9" height="6.81" rx="3.41" ry="3.41" fill="#050505" fill-opacity="1" transform="rotate(0 1509.13 662)"/>
<rect x="1534.86" y="659" width="33.19" height="9.18" rx="4.59" ry="4.59" fill="#050505" fill-opacity="1" transform="rotate(1.6 1551.46 663.59)"/>
</g></g>
<rect x="1400.7" y="644.8" width="182.5" height="31.4" fill="none" stroke="#0c0c0c" stroke-width="1.6"/>
<text x="1393.7" y="665.5" font-size="16.6" text-anchor="end" fill="#1a1a1a">GPX4</text>
<text x="1590.7" y="665.5" font-size="16.4" fill="#1a1a1a">17 kDa</text>
<clipPath id="wb5"><rect x="1400.9" y="682.9" width="182.1" height="31"/></clipPath>
<rect x="1400.4" y="682.4" width="183.1" height="32" fill="#a4a4a4"/>
<g clip-path="url(#wb5)"><g filter="url(#wblur)">
<rect x="1414.06" y="691.36" width="31.42" height="8.3" rx="4.15" ry="4.15" fill="#050505" fill-opacity="1" transform="rotate(0 1429.78 695.51)"/>
<rect x="1455.51" y="692.33" width="30.54" height="7.41" rx="3.7" ry="3.7" fill="#050505" fill-opacity="1" transform="rotate(0 1470.78 696.04)"/>
<rect x="1497.83" y="692.43" width="30.54" height="6.52" rx="3.26" ry="3.26" fill="#050505" fill-opacity="1" transform="rotate(0 1513.1 695.68)"/>
<rect x="1540.15" y="690.57" width="34.95" height="7.41" rx="3.7" ry="3.7" fill="#050505" fill-opacity="1" transform="rotate(0 1557.63 694.27)"/>
</g></g>
<rect x="1400.7" y="682.7" width="182.5" height="31.4" fill="none" stroke="#0c0c0c" stroke-width="1.6"/>
<text x="1395.6" y="704.3" font-size="16.6" text-anchor="end" fill="#1a1a1a">GAPDH</text>
<text x="1590.7" y="703.5" font-size="16.4" fill="#1a1a1a">37 kDa</text>
<clipPath id="wb6"><rect x="1400.9" y="729.1" width="182.1" height="29.8"/></clipPath>
<rect x="1400.4" y="728.6" width="183.1" height="30.8" fill="#c4c4c4"/>
<g clip-path="url(#wb6)"><g filter="url(#wblur)">
<rect x="1412.3" y="742.95" width="34.07" height="7.41" rx="3.7" ry="3.7" fill="#050505" fill-opacity="1" transform="rotate(0 1429.34 746.65)"/>
<rect x="1457.27" y="742.95" width="32.31" height="7.41" rx="3.7" ry="3.7" fill="#050505" fill-opacity="1" transform="rotate(0 1473.42 746.65)"/>
<rect x="1502.24" y="744.48" width="30.54" height="5.04" rx="2.52" ry="2.52" fill="#1c1c1c" fill-opacity="0.95" transform="rotate(0 1517.51 747)"/>
<rect x="1546.33" y="744.78" width="29.66" height="4.44" rx="2.22" ry="2.22" fill="#1c1c1c" fill-opacity="0.9" transform="rotate(0 1561.16 747)"/>
</g></g>
<rect x="1400.7" y="728.9" width="182.5" height="30.2" fill="none" stroke="#0c0c0c" stroke-width="1.6"/>
<text x="1393.7" y="750.2" font-size="16.6" text-anchor="end" fill="#1a1a1a">TXNIP</text>
<text x="1590.7" y="748.1" font-size="16.4" fill="#1a1a1a">55 kDa</text>
<clipPath id="wb7"><rect x="1400.9" y="768.8" width="182.1" height="30.6"/></clipPath>
<rect x="1400.4" y="768.3" width="183.1" height="31.6" fill="#a0a0a0"/>
<g clip-path="url(#wb7)"><g filter="url(#wblur)">
<rect x="1411.42" y="781.16" width="37.6" height="6.81" rx="3.41" ry="3.41" fill="#050505" fill-opacity="1" transform="rotate(0 1430.22 784.56)"/>
<rect x="1451.98" y="782.75" width="35.83" height="5.04" rx="2.52" ry="2.52" fill="#3a3a3a" fill-opacity="0.75" transform="rotate(0 1469.9 785.27)"/>
<rect x="1494.3" y="781.9" width="36.71" height="5.33" rx="2.67" ry="2.67" fill="#1c1c1c" fill-opacity="0.9" transform="rotate(0 1512.66 784.56)"/>
<rect x="1533.98" y="781.16" width="37.6" height="6.81" rx="3.41" ry="3.41" fill="#050505" fill-opacity="1" transform="rotate(0 1552.78 784.56)"/>
</g></g>
<rect x="1400.7" y="768.6" width="182.5" height="31" fill="none" stroke="#0c0c0c" stroke-width="1.6"/>
<text x="1393.7" y="789" font-size="16.6" text-anchor="end" fill="#1a1a1a">GAPDH</text>
<text x="1590.7" y="788.6" font-size="16.4" fill="#1a1a1a">37 kDa</text>
<clipPath id="wb8"><rect x="1400.9" y="815.9" width="182.1" height="31.5"/></clipPath>
<rect x="1400.4" y="815.4" width="183.1" height="32.5" fill="#8a8a8a"/>
<g clip-path="url(#wb8)"><g filter="url(#wblur)">
<rect x="1410.54" y="831.78" width="30.54" height="2.96" rx="1.48" ry="1.48" fill="#3a3a3a" fill-opacity="0.65" transform="rotate(0 1425.81 833.26)"/>
<rect x="1452.86" y="831.78" width="32.31" height="2.96" rx="1.48" ry="1.48" fill="#3a3a3a" fill-opacity="0.65" transform="rotate(0 1469.01 833.26)"/>
<rect x="1498.71" y="831.42" width="32.31" height="2.96" rx="1.48" ry="1.48" fill="#3a3a3a" fill-opacity="0.65" transform="rotate(0 1514.86 832.9)"/>
<rect x="1541.92" y="830.57" width="32.31" height="3.26" rx="1.63" ry="1.63" fill="#3a3a3a" fill-opacity="0.7" transform="rotate(-0.6 1558.07 832.2)"/>
</g></g>
<rect x="1400.7" y="815.7" width="182.5" height="31.9" fill="none" stroke="#0c0c0c" stroke-width="1.6"/>
<text x="1393.7" y="837.3" font-size="16.6" text-anchor="end" fill="#1a1a1a">FACL4</text>
<text x="1590.7" y="836.1" font-size="16.4" fill="#1a1a1a">79 kDa</text>
<clipPath id="wb9"><rect x="1400.9" y="855.1" width="182.1" height="31.5"/></clipPath>
<rect x="1400.4" y="854.6" width="183.1" height="32.5" fill="#c6c6c6"/>
<g clip-path="url(#wb9)"><g filter="url(#wblur)">
<path d="M1408.79 870.18 Q1420.96 866.98 1433.13 871.38" fill="none" stroke="#050505" stroke-width="4.23" stroke-linecap="round" stroke-opacity="1"/>
<path d="M1451.12 870.54 Q1462.84 867.34 1474.57 871.74" fill="none" stroke="#050505" stroke-width="4.23" stroke-linecap="round" stroke-opacity="1"/>
<path d="M1495.2 870.89 Q1507.81 867.69 1520.42 872.09" fill="none" stroke="#1c1c1c" stroke-width="3.95" stroke-linecap="round" stroke-opacity="0.95"/>
<path d="M1541.05 869.83 Q1554.98 866.63 1568.91 871.03" fill="none" stroke="#050505" stroke-width="6.49" stroke-linecap="round" stroke-opacity="1"/>
</g></g>
<rect x="1400.7" y="854.9" width="182.5" height="31.9" fill="none" stroke="#0c0c0c" stroke-width="1.6"/>
<text x="1393.7" y="877" font-size="16.6" text-anchor="end" fill="#1a1a1a">TfR</text>
<text x="1590.7" y="875.2" font-size="16.4" fill="#1a1a1a">90 kDa</text>
<clipPath id="wb10"><rect x="1400.9" y="894.8" width="182.1" height="30.6"/></clipPath>
<rect x="1400.4" y="894.3" width="183.1" height="31.6" fill="#e0e0e0"/>
<g clip-path="url(#wb10)"><g filter="url(#wblur)">
<rect x="1407.01" y="908.28" width="32.31" height="4.44" rx="2.22" ry="2.22" fill="#050505" fill-opacity="1" transform="rotate(0 1423.16 910.5)"/>
<rect x="1451.1" y="908.48" width="32.31" height="4.74" rx="2.37" ry="2.37" fill="#050505" fill-opacity="1" transform="rotate(0 1467.25 910.85)"/>
<rect x="1496.07" y="908.78" width="33.19" height="4.15" rx="2.07" ry="2.07" fill="#1c1c1c" fill-opacity="0.9" transform="rotate(-1 1512.66 910.85)"/>
<rect x="1540.15" y="905.21" width="31.42" height="5.63" rx="2.81" ry="2.81" fill="#050505" fill-opacity="1" transform="rotate(0 1555.87 908.03)"/>
</g></g>
<rect x="1400.7" y="894.6" width="182.5" height="31" fill="none" stroke="#0c0c0c" stroke-width="1.6"/>
<text x="1393.7" y="915.8" font-size="16.6" text-anchor="end" fill="#1a1a1a">xCT</text>
<text x="1590.7" y="913.5" font-size="16.4" fill="#1a1a1a">35 kDa</text>
<clipPath id="wb11"><rect x="1400.9" y="930.9" width="182.1" height="32"/></clipPath>
<rect x="1400.4" y="930.4" width="183.1" height="33" fill="#dcdcdc"/>
<g clip-path="url(#wb11)"><g filter="url(#wblur)">
<rect x="1415.83" y="945.53" width="32.31" height="6.81" rx="3.41" ry="3.41" fill="#050505" fill-opacity="1" transform="rotate(-0.6 1431.98 948.94)"/>
<rect x="1454.62" y="946.5" width="34.95" height="7.7" rx="3.85" ry="3.85" fill="#050505" fill-opacity="1" transform="rotate(0 1472.1 950.35)"/>
<rect x="1497.83" y="945.63" width="35.83" height="5.93" rx="2.96" ry="2.96" fill="#050505" fill-opacity="1" transform="rotate(0 1515.75 948.59)"/>
<rect x="1539.27" y="939.6" width="34.95" height="7.41" rx="3.7" ry="3.7" fill="#050505" fill-opacity="1" transform="rotate(-2.4 1556.75 943.3)"/>
</g></g>
<rect x="1400.7" y="930.7" width="182.5" height="32.4" fill="none" stroke="#0c0c0c" stroke-width="1.6"/>
<text x="1393.7" y="952.5" font-size="16.6" text-anchor="end" fill="#1a1a1a">β-Actin</text>
<text x="1590.7" y="950.7" font-size="16.4" fill="#1a1a1a">43 kDa</text>
<text x="1430.7" y="460.1" font-size="18.7" fill="#1a1a1a" transform="rotate(-60 1430.7 460.1)">Control</text>
<text x="1474.2" y="461" font-size="18.7" fill="#1a1a1a" transform="rotate(-60 1474.2 461)">0.2 mg/mL</text>
<text x="1520.7" y="461" font-size="18.7" fill="#1a1a1a" transform="rotate(-60 1520.7 461)">0.8 mg/mL</text>
<text x="1562.2" y="461" font-size="18.7" fill="#1a1a1a" transform="rotate(-60 1562.2 461)">3.2 mg/mL</text>
<clipPath id="bc00"><rect x="201.8" y="406.4" width="128.6" height="129"/></clipPath>
<g clip-path="url(#bc00)"><g filter="url(#bblur)">
<circle cx="238.12" cy="407.05" r="2.1" fill="#f01212" fill-opacity="1"/>
<circle cx="328.44" cy="407.33" r="1.84" fill="#f01212" fill-opacity="1"/>
<circle cx="247.89" cy="412.92" r="2.32" fill="#f01212" fill-opacity="0.22" stroke="#f01212" stroke-width="1.23" stroke-opacity="1"/>
<circle cx="265.12" cy="414.5" r="2.65" fill="#f01212" fill-opacity="0.22" stroke="#f01212" stroke-width="1.41" stroke-opacity="1"/>
<circle cx="230.2" cy="416.64" r="2.1" fill="#f01212" fill-opacity="1"/>
<circle cx="221.54" cy="415.9" r="2.32" fill="#f01212" fill-opacity="0.22" stroke="#f01212" stroke-width="1.23" stroke-opacity="1"/>
<circle cx="218.56" cy="420.09" r="1.84" fill="#f01212" fill-opacity="1"/>
<circle cx="288.4" cy="412.64" r="2.32" fill="#f01212" fill-opacity="0.22" stroke="#f01212" stroke-width="1.23" stroke-opacity="1"/>
<circle cx="316.34" cy="412.92" r="2.35" fill="#f01212" fill-opacity="1"/>
<circle cx="215.95" cy="427.82" r="2.18" fill="#f01212" fill-opacity="0.22" stroke="#f01212" stroke-width="1.16" stroke-opacity="1"/>
<circle cx="229.27" cy="427.54" r="2.51" fill="#f01212" fill-opacity="1"/>
<circle cx="280.02" cy="431.91" r="2.18" fill="#f01212" fill-opacity="0.22" stroke="#f01212" stroke-width="1.16" stroke-opacity="1"/>
<circle cx="306.09" cy="427.07" r="1.99" fill="#f01212" fill-opacity="0.22" stroke="#f01212" stroke-width="1.06" stroke-opacity="1"/>
<circle cx="310.75" cy="431.26" r="1.68" fill="#f01212" fill-opacity="1"/>
<circle cx="314.94" cy="435.92" r="2.65" fill="#f01212" fill-opacity="0.22" stroke="#f01212" stroke-width="1.41" stroke-opacity="1"/>
<circle cx="212.97" cy="437.32" r="2.93" fill="#f01212" fill-opacity="1"/>
<circle cx="236.25" cy="443.83" r="1.99" fill="#f01212" fill-opacity="0.22" stroke="#f01212" stroke-width="1.06" stroke-opacity="1"/>
<circle cx="274.43" cy="437.78" r="1.01" fill="#f01212" fill-opacity="0.5"/>
<circle cx="261.4" cy="450.35" r="2.78" fill="#f01212" fill-opacity="0.22" stroke="#f01212" stroke-width="1.48" stroke-opacity="1"/>
<circle cx="273.97" cy="448.02" r="1.66" fill="#f01212" fill-opacity="0.22" stroke="#f01212" stroke-width="0.88" stroke-opacity="1"/>
<circle cx="315.4" cy="449.42" r="2.77" fill="#f01212" fill-opacity="0.5"/>
<circle cx="210.65" cy="455.94" r="2.93" fill="#f01212" fill-opacity="1"/>
<circle cx="298.64" cy="454.54" r="2.35" fill="#f01212" fill-opacity="1"/>
<circle cx="248.82" cy="459.85" r="2.51" fill="#f01212" fill-opacity="0.5"/>
<circle cx="272.1" cy="460.87" r="2.18" fill="#f01212" fill-opacity="0.22" stroke="#f01212" stroke-width="1.16" stroke-opacity="1"/>
<circle cx="266.52" cy="464.79" r="1.99" fill="#f01212" fill-opacity="0.22" stroke="#f01212" stroke-width="1.06" stroke-opacity="1"/>
<circle cx="279.55" cy="471.96" r="2.1" fill="#f01212" fill-opacity="1"/>
<circle cx="305.63" cy="469.91" r="2.1" fill="#f01212" fill-opacity="0.5"/>
<circle cx="205.52" cy="471.58" r="1.01" fill="#f01212" fill-opacity="0.5"/>
<circle cx="287.47" cy="478.47" r="2.68" fill="#f01212" fill-opacity="1"/>
<circle cx="236.72" cy="480.15" r="1.85" fill="#f01212" fill-opacity="0.22" stroke="#f01212" stroke-width="0.99" stroke-opacity="1"/>
<circle cx="239.05" cy="484.81" r="1.84" fill="#f01212" fill-opacity="1"/>
<circle cx="284.21" cy="485.27" r="1.84" fill="#f01212" fill-opacity="1"/>
<circle cx="304.23" cy="485.74" r="2.93" fill="#f01212" fill-opacity="1"/>
<circle cx="327.98" cy="483.13" r="2.1" fill="#f01212" fill-opacity="1"/>
<circle cx="319.59" cy="481.55" r="0.84" fill="#f01212" fill-opacity="0.5"/>
<circle cx="245.38" cy="489.93" r="1.85" fill="#f01212" fill-opacity="0.22" stroke="#f01212" stroke-width="0.99" stroke-opacity="1"/>
<circle cx="269.03" cy="492.72" r="2.32" fill="#f01212" fill-opacity="0.22" stroke="#f01212" stroke-width="1.23" stroke-opacity="1"/>
<circle cx="271.17" cy="498.31" r="2.32" fill="#f01212" fill-opacity="0.22" stroke="#f01212" stroke-width="1.23" stroke-opacity="1"/>
<circle cx="323.32" cy="497.84" r="2.77" fill="#f01212" fill-opacity="0.5"/>
<circle cx="219.68" cy="502.5" r="1.84" fill="#f01212" fill-opacity="1"/>
<circle cx="206.46" cy="505.57" r="1.51" fill="#f01212" fill-opacity="1"/>
<circle cx="258.6" cy="507.15" r="1.99" fill="#f01212" fill-opacity="0.22" stroke="#f01212" stroke-width="1.06" stroke-opacity="1"/>
<circle cx="260.93" cy="511.81" r="2.52" fill="#f01212" fill-opacity="0.22" stroke="#f01212" stroke-width="1.34" stroke-opacity="1"/>
<circle cx="238.12" cy="518.51" r="2.12" fill="#f01212" fill-opacity="0.22" stroke="#f01212" stroke-width="1.13" stroke-opacity="1"/>
<circle cx="262.33" cy="523.92" r="1.66" fill="#f01212" fill-opacity="0.22" stroke="#f01212" stroke-width="0.88" stroke-opacity="1"/>
<circle cx="287" cy="520.19" r="1.84" fill="#f01212" fill-opacity="1"/>
<circle cx="319.13" cy="511.81" r="1.68" fill="#f01212" fill-opacity="1"/>
<circle cx="224.61" cy="531.37" r="2.93" fill="#f01212" fill-opacity="0.5"/>
<circle cx="294.92" cy="534.62" r="1.68" fill="#f01212" fill-opacity="1"/>
<circle cx="236.72" cy="534.9" r="1.26" fill="#f01212" fill-opacity="1"/>
</g></g>
<clipPath id="bc01"><rect x="333.8" y="406.4" width="127.6" height="129"/></clipPath>
<g clip-path="url(#bc01)"><g filter="url(#bblur)">
<circle cx="347.3" cy="407.33" r="1.85" fill="#ee1010" fill-opacity="0.22" stroke="#ee1010" stroke-width="0.99" stroke-opacity="1"/>
<circle cx="357.08" cy="410.78" r="2.1" fill="#ee1010" fill-opacity="1"/>
<circle cx="375.7" cy="409.19" r="2.12" fill="#ee1010" fill-opacity="0.22" stroke="#ee1010" stroke-width="1.13" stroke-opacity="1"/>
<circle cx="385.48" cy="407.52" r="2.35" fill="#ee1010" fill-opacity="1"/>
<circle cx="380.55" cy="413.1" r="2.35" fill="#ee1010" fill-opacity="1"/>
<circle cx="395.07" cy="413.29" r="2.32" fill="#ee1010" fill-opacity="0.22" stroke="#ee1010" stroke-width="1.23" stroke-opacity="1"/>
<circle cx="348.23" cy="418.69" r="2.52" fill="#ee1010" fill-opacity="0.22" stroke="#ee1010" stroke-width="1.34" stroke-opacity="1"/>
<circle cx="399.91" cy="422.88" r="2.32" fill="#ee1010" fill-opacity="0.22" stroke="#ee1010" stroke-width="1.23" stroke-opacity="1"/>
<circle cx="428.04" cy="417.29" r="2.18" fill="#ee1010" fill-opacity="0.22" stroke="#ee1010" stroke-width="1.16" stroke-opacity="1"/>
<circle cx="453.92" cy="417.29" r="2.32" fill="#ee1010" fill-opacity="0.22" stroke="#ee1010" stroke-width="1.23" stroke-opacity="1"/>
<circle cx="432.51" cy="425.21" r="2.35" fill="#ee1010" fill-opacity="1"/>
<circle cx="444.15" cy="426.89" r="2.32" fill="#ee1010" fill-opacity="0.22" stroke="#ee1010" stroke-width="1.23" stroke-opacity="1"/>
<circle cx="435.11" cy="430.61" r="2.51" fill="#ee1010" fill-opacity="1"/>
<circle cx="371.98" cy="426.33" r="1.01" fill="#ee1010" fill-opacity="0.5"/>
<circle cx="381.29" cy="426.61" r="1.51" fill="#ee1010" fill-opacity="1"/>
<circle cx="384.08" cy="429.87" r="2.1" fill="#ee1010" fill-opacity="1"/>
<circle cx="359.69" cy="430.61" r="2.68" fill="#ee1010" fill-opacity="1"/>
<circle cx="395.72" cy="441.04" r="2.35" fill="#ee1010" fill-opacity="1"/>
<circle cx="395.72" cy="447.56" r="2.32" fill="#ee1010" fill-opacity="0.22" stroke="#ee1010" stroke-width="1.23" stroke-opacity="1"/>
<circle cx="459.98" cy="444.76" r="1.99" fill="#ee1010" fill-opacity="0.22" stroke="#ee1010" stroke-width="1.06" stroke-opacity="1"/>
<circle cx="431.39" cy="452.96" r="2.51" fill="#ee1010" fill-opacity="0.5"/>
<circle cx="423.38" cy="457.62" r="2.51" fill="#ee1010" fill-opacity="1"/>
<circle cx="446.47" cy="459.48" r="2.35" fill="#ee1010" fill-opacity="1"/>
<circle cx="454.39" cy="460.59" r="1.26" fill="#ee1010" fill-opacity="0.5"/>
<circle cx="382.22" cy="462.27" r="2.12" fill="#ee1010" fill-opacity="0.22" stroke="#ee1010" stroke-width="1.13" stroke-opacity="1"/>
<circle cx="397.12" cy="460.59" r="1.99" fill="#ee1010" fill-opacity="0.22" stroke="#ee1010" stroke-width="1.06" stroke-opacity="1"/>
<circle cx="394.14" cy="463.2" r="1.26" fill="#ee1010" fill-opacity="1"/>
<circle cx="398.8" cy="465.25" r="1.51" fill="#ee1010" fill-opacity="1"/>
<circle cx="463.7" cy="466.65" r="1.01" fill="#ee1010" fill-opacity="1"/>
<circle cx="459.04" cy="471.96" r="2.1" fill="#ee1010" fill-opacity="1"/>
<circle cx="360.06" cy="475.96" r="2.51" fill="#ee1010" fill-opacity="1"/>
<circle cx="416.68" cy="475.03" r="2.32" fill="#ee1010" fill-opacity="0.22" stroke="#ee1010" stroke-width="1.23" stroke-opacity="1"/>
<circle cx="403.17" cy="478.29" r="2.35" fill="#ee1010" fill-opacity="0.5"/>
<circle cx="338.46" cy="480.34" r="3.35" fill="#ee1010" fill-opacity="1"/>
<circle cx="350.56" cy="481.55" r="2.35" fill="#ee1010" fill-opacity="0.5"/>
<circle cx="436.7" cy="478.29" r="2.51" fill="#ee1010" fill-opacity="0.5"/>
<circle cx="447.4" cy="477.82" r="1.01" fill="#ee1010" fill-opacity="0.5"/>
<circle cx="450.38" cy="482.01" r="2.35" fill="#ee1010" fill-opacity="1"/>
<circle cx="459.51" cy="482.2" r="2.1" fill="#ee1010" fill-opacity="1"/>
<circle cx="425.06" cy="485.55" r="3.18" fill="#ee1010" fill-opacity="1"/>
<circle cx="435.3" cy="483.87" r="1.99" fill="#ee1010" fill-opacity="0.22" stroke="#ee1010" stroke-width="1.06" stroke-opacity="1"/>
<circle cx="439.49" cy="485.92" r="1.99" fill="#ee1010" fill-opacity="0.22" stroke="#ee1010" stroke-width="1.06" stroke-opacity="1"/>
<circle cx="370.12" cy="498.59" r="2.93" fill="#ee1010" fill-opacity="1"/>
<circle cx="361.55" cy="501.75" r="2.52" fill="#ee1010" fill-opacity="0.22" stroke="#ee1010" stroke-width="1.34" stroke-opacity="1"/>
<circle cx="413.14" cy="504.55" r="2.35" fill="#ee1010" fill-opacity="1"/>
<circle cx="418.35" cy="509.2" r="2.35" fill="#ee1010" fill-opacity="1"/>
<circle cx="384.55" cy="509.02" r="2.51" fill="#ee1010" fill-opacity="1"/>
<circle cx="445.08" cy="510.69" r="2.35" fill="#ee1010" fill-opacity="0.5"/>
<circle cx="345.44" cy="512.28" r="2.32" fill="#ee1010" fill-opacity="0.22" stroke="#ee1010" stroke-width="1.23" stroke-opacity="1"/>
<circle cx="376.63" cy="522.52" r="2.98" fill="#ee1010" fill-opacity="0.22" stroke="#ee1010" stroke-width="1.58" stroke-opacity="1"/>
<circle cx="338.92" cy="524.38" r="2.51" fill="#ee1010" fill-opacity="1"/>
<circle cx="334.27" cy="525.59" r="1.68" fill="#ee1010" fill-opacity="1"/>
<circle cx="357.55" cy="529.04" r="3.18" fill="#ee1010" fill-opacity="1"/>
<circle cx="397.59" cy="529.78" r="0.84" fill="#ee1010" fill-opacity="0.5"/>
<circle cx="438.09" cy="531.83" r="0.84" fill="#ee1010" fill-opacity="0.5"/>
</g></g>
<clipPath id="bc02"><rect x="464" y="406.4" width="128" height="129"/></clipPath>
<g clip-path="url(#bc02)"><g filter="url(#bblur)">
<circle cx="469.59" cy="412.92" r="2.32" fill="#f01212" fill-opacity="0.22" stroke="#f01212" stroke-width="1.23" stroke-opacity="1"/>
<circle cx="488.68" cy="409.38" r="2.51" fill="#f01212" fill-opacity="1"/>
<circle cx="493.33" cy="407.98" r="2.1" fill="#f01212" fill-opacity="1"/>
<circle cx="508.23" cy="414.5" r="1.84" fill="#f01212" fill-opacity="1"/>
<circle cx="510.56" cy="417.76" r="1.51" fill="#f01212" fill-opacity="1"/>
<circle cx="554.32" cy="414.5" r="1.66" fill="#f01212" fill-opacity="0.22" stroke="#f01212" stroke-width="0.88" stroke-opacity="1"/>
<circle cx="558.98" cy="414.5" r="1.85" fill="#f01212" fill-opacity="0.22" stroke="#f01212" stroke-width="0.99" stroke-opacity="1"/>
<circle cx="552.93" cy="421.02" r="1.99" fill="#f01212" fill-opacity="0.22" stroke="#f01212" stroke-width="1.06" stroke-opacity="1"/>
<circle cx="556.65" cy="422.42" r="2.1" fill="#f01212" fill-opacity="1"/>
<circle cx="466.05" cy="428.19" r="1.99" fill="#f01212" fill-opacity="0.22" stroke="#f01212" stroke-width="1.06" stroke-opacity="1"/>
<circle cx="540.82" cy="433.4" r="2.32" fill="#f01212" fill-opacity="0.22" stroke="#f01212" stroke-width="1.23" stroke-opacity="1"/>
<circle cx="483.37" cy="444.3" r="2.52" fill="#f01212" fill-opacity="0.22" stroke="#f01212" stroke-width="1.34" stroke-opacity="1"/>
<circle cx="503.58" cy="440.57" r="2.1" fill="#f01212" fill-opacity="0.5"/>
<circle cx="535.7" cy="447.09" r="2.32" fill="#f01212" fill-opacity="0.22" stroke="#f01212" stroke-width="1.23" stroke-opacity="1"/>
<circle cx="548.27" cy="441.97" r="3.35" fill="#f01212" fill-opacity="1"/>
<circle cx="561.31" cy="442.9" r="1.84" fill="#f01212" fill-opacity="1"/>
<circle cx="571.09" cy="445.7" r="1.99" fill="#f01212" fill-opacity="0.22" stroke="#f01212" stroke-width="1.06" stroke-opacity="1"/>
<circle cx="568.76" cy="450.35" r="2.35" fill="#f01212" fill-opacity="1"/>
<circle cx="574.81" cy="449.42" r="2.51" fill="#f01212" fill-opacity="1"/>
<circle cx="577.6" cy="452.21" r="2.1" fill="#f01212" fill-opacity="1"/>
<circle cx="574.35" cy="455.01" r="2.1" fill="#f01212" fill-opacity="1"/>
<circle cx="497.99" cy="462.92" r="1.66" fill="#f01212" fill-opacity="0.22" stroke="#f01212" stroke-width="0.88" stroke-opacity="1"/>
<circle cx="505.9" cy="466.18" r="1.99" fill="#f01212" fill-opacity="0.22" stroke="#f01212" stroke-width="1.06" stroke-opacity="1"/>
<circle cx="510.56" cy="469.91" r="1.85" fill="#f01212" fill-opacity="0.22" stroke="#f01212" stroke-width="0.99" stroke-opacity="1"/>
<circle cx="496.78" cy="469.44" r="1.84" fill="#f01212" fill-opacity="1"/>
<circle cx="504.04" cy="471.77" r="2.68" fill="#f01212" fill-opacity="1"/>
<circle cx="498.27" cy="477.82" r="2.32" fill="#f01212" fill-opacity="0.22" stroke="#f01212" stroke-width="1.23" stroke-opacity="1"/>
<circle cx="529.18" cy="471.77" r="1.99" fill="#f01212" fill-opacity="0.22" stroke="#f01212" stroke-width="1.06" stroke-opacity="1"/>
<circle cx="532.44" cy="476.89" r="2.35" fill="#f01212" fill-opacity="0.5"/>
<circle cx="526.39" cy="481.08" r="2.12" fill="#f01212" fill-opacity="0.22" stroke="#f01212" stroke-width="1.13" stroke-opacity="1"/>
<circle cx="542.22" cy="475.96" r="1.84" fill="#f01212" fill-opacity="1"/>
<circle cx="557.58" cy="475.03" r="2.35" fill="#f01212" fill-opacity="1"/>
<circle cx="561.77" cy="471.77" r="1.85" fill="#f01212" fill-opacity="0.22" stroke="#f01212" stroke-width="0.99" stroke-opacity="1"/>
<circle cx="565.96" cy="471.77" r="1.66" fill="#f01212" fill-opacity="0.22" stroke="#f01212" stroke-width="0.88" stroke-opacity="1"/>
<circle cx="577.6" cy="479.68" r="2.51" fill="#f01212" fill-opacity="0.5"/>
<circle cx="540.82" cy="486.67" r="2.93" fill="#f01212" fill-opacity="1"/>
<circle cx="538.03" cy="489" r="1.84" fill="#f01212" fill-opacity="1"/>
<circle cx="529.18" cy="491.32" r="2.32" fill="#f01212" fill-opacity="0.22" stroke="#f01212" stroke-width="1.23" stroke-opacity="1"/>
<circle cx="491.75" cy="492.26" r="1.51" fill="#f01212" fill-opacity="1"/>
<circle cx="508.7" cy="493.65" r="2.35" fill="#f01212" fill-opacity="1"/>
<circle cx="513.82" cy="493.19" r="1.51" fill="#f01212" fill-opacity="1"/>
<circle cx="518.94" cy="492.07" r="1.84" fill="#f01212" fill-opacity="1"/>
<circle cx="547.81" cy="491.79" r="2.35" fill="#f01212" fill-opacity="1"/>
<circle cx="551.53" cy="489.46" r="1.66" fill="#f01212" fill-opacity="0.22" stroke="#f01212" stroke-width="0.88" stroke-opacity="1"/>
<circle cx="570.16" cy="491.32" r="2.1" fill="#f01212" fill-opacity="1"/>
<circle cx="579" cy="490.21" r="2.1" fill="#f01212" fill-opacity="1"/>
<circle cx="465.86" cy="495.51" r="1.85" fill="#f01212" fill-opacity="0.22" stroke="#f01212" stroke-width="0.99" stroke-opacity="1"/>
<circle cx="470.05" cy="494.58" r="1.51" fill="#f01212" fill-opacity="1"/>
<circle cx="465.4" cy="500.64" r="1.66" fill="#f01212" fill-opacity="0.22" stroke="#f01212" stroke-width="0.88" stroke-opacity="1"/>
<circle cx="522.66" cy="501.1" r="2.1" fill="#f01212" fill-opacity="1"/>
<circle cx="527.32" cy="503.9" r="2.35" fill="#f01212" fill-opacity="1"/>
<circle cx="531.51" cy="504.36" r="1.85" fill="#f01212" fill-opacity="0.22" stroke="#f01212" stroke-width="0.99" stroke-opacity="1"/>
<circle cx="521.73" cy="512.74" r="1.84" fill="#f01212" fill-opacity="1"/>
<circle cx="525.46" cy="515.53" r="2.1" fill="#f01212" fill-opacity="1"/>
<circle cx="582.26" cy="507.15" r="2.35" fill="#f01212" fill-opacity="0.5"/>
<circle cx="585.99" cy="509.95" r="2.1" fill="#f01212" fill-opacity="1"/>
<circle cx="583.19" cy="513.21" r="2.51" fill="#f01212" fill-opacity="1"/>
<circle cx="590.18" cy="513.21" r="2.1" fill="#f01212" fill-opacity="1"/>
<circle cx="586.92" cy="516.93" r="2.35" fill="#f01212" fill-opacity="1"/>
<circle cx="559.45" cy="518.51" r="2.51" fill="#f01212" fill-opacity="1"/>
<circle cx="571.09" cy="518.33" r="2.51" fill="#f01212" fill-opacity="0.5"/>
<circle cx="531.98" cy="529.04" r="2.35" fill="#f01212" fill-opacity="1"/>
<circle cx="578.07" cy="533.69" r="1.85" fill="#f01212" fill-opacity="0.22" stroke="#f01212" stroke-width="0.99" stroke-opacity="1"/>
<circle cx="476.11" cy="534.62" r="1.26" fill="#f01212" fill-opacity="0.5"/>
</g></g>
<clipPath id="bc03"><rect x="595.8" y="406.4" width="128.6" height="129"/></clipPath>
<g clip-path="url(#bc03)"><g filter="url(#bblur)">
<circle cx="607.25" cy="408.45" r="2.35" fill="#e81010" fill-opacity="1"/>
<circle cx="611.44" cy="407.05" r="1.26" fill="#e81010" fill-opacity="0.5"/>
<circle cx="650.09" cy="414.04" r="0.84" fill="#e81010" fill-opacity="0.5"/>
<circle cx="650.09" cy="418.69" r="1.84" fill="#e81010" fill-opacity="1"/>
<circle cx="678.95" cy="416.08" r="2.35" fill="#e81010" fill-opacity="0.5"/>
<circle cx="706.89" cy="423.35" r="1.01" fill="#e81010" fill-opacity="0.5"/>
<circle cx="623.36" cy="425.4" r="2.68" fill="#e81010" fill-opacity="0.5"/>
<circle cx="659.4" cy="430.8" r="1.84" fill="#e81010" fill-opacity="0.5"/>
<circle cx="599.15" cy="436.38" r="1.99" fill="#e81010" fill-opacity="0.22" stroke="#e81010" stroke-width="1.06" stroke-opacity="1"/>
<circle cx="675.23" cy="437.32" r="2.32" fill="#e81010" fill-opacity="0.22" stroke="#e81010" stroke-width="1.23" stroke-opacity="1"/>
<circle cx="642.92" cy="442.16" r="1.17" fill="#e81010" fill-opacity="0.5"/>
<circle cx="665.45" cy="443.83" r="2.12" fill="#e81010" fill-opacity="0.22" stroke="#e81010" stroke-width="1.13" stroke-opacity="1"/>
<circle cx="642.36" cy="452.68" r="0.84" fill="#e81010" fill-opacity="0.5"/>
<circle cx="711.27" cy="453.89" r="2.35" fill="#e81010" fill-opacity="1"/>
<circle cx="632.67" cy="458.73" r="2.35" fill="#e81010" fill-opacity="1"/>
<circle cx="653.35" cy="457.8" r="2.51" fill="#e81010" fill-opacity="1"/>
<circle cx="674.95" cy="458.55" r="2.52" fill="#e81010" fill-opacity="0.22" stroke="#e81010" stroke-width="1.34" stroke-opacity="1"/>
<circle cx="658.93" cy="463.2" r="1.99" fill="#e81010" fill-opacity="0.22" stroke="#e81010" stroke-width="1.06" stroke-opacity="1"/>
<circle cx="664.06" cy="463.85" r="1.85" fill="#e81010" fill-opacity="0.22" stroke="#e81010" stroke-width="0.99" stroke-opacity="1"/>
<circle cx="668.71" cy="467.3" r="2.18" fill="#e81010" fill-opacity="0.22" stroke="#e81010" stroke-width="1.16" stroke-opacity="1"/>
<circle cx="635.19" cy="464.79" r="1.85" fill="#e81010" fill-opacity="0.22" stroke="#e81010" stroke-width="0.99" stroke-opacity="1"/>
<circle cx="635.19" cy="469.16" r="1.68" fill="#e81010" fill-opacity="1"/>
<circle cx="631.74" cy="476.43" r="2.35" fill="#e81010" fill-opacity="1"/>
<circle cx="635.84" cy="475.96" r="2.1" fill="#e81010" fill-opacity="1"/>
<circle cx="649.16" cy="476.43" r="2.52" fill="#e81010" fill-opacity="0.22" stroke="#e81010" stroke-width="1.34" stroke-opacity="1"/>
<circle cx="604.74" cy="482.2" r="2.52" fill="#e81010" fill-opacity="0.22" stroke="#e81010" stroke-width="1.34" stroke-opacity="1"/>
<circle cx="599.8" cy="488.53" r="2.52" fill="#e81010" fill-opacity="0.22" stroke="#e81010" stroke-width="1.34" stroke-opacity="1"/>
<circle cx="605.39" cy="487.6" r="1.85" fill="#e81010" fill-opacity="0.22" stroke="#e81010" stroke-width="0.99" stroke-opacity="1"/>
<circle cx="694.79" cy="481.08" r="1.99" fill="#e81010" fill-opacity="0.22" stroke="#e81010" stroke-width="1.06" stroke-opacity="1"/>
<circle cx="625.6" cy="487.6" r="2.51" fill="#e81010" fill-opacity="1"/>
<circle cx="683.33" cy="487.79" r="2.51" fill="#e81010" fill-opacity="1"/>
<circle cx="693.39" cy="487.41" r="1.99" fill="#e81010" fill-opacity="0.22" stroke="#e81010" stroke-width="1.06" stroke-opacity="1"/>
<circle cx="698.04" cy="488.06" r="1.85" fill="#e81010" fill-opacity="0.22" stroke="#e81010" stroke-width="0.99" stroke-opacity="1"/>
<circle cx="699.72" cy="493" r="2.1" fill="#e81010" fill-opacity="1"/>
<circle cx="713.87" cy="488.72" r="2.18" fill="#e81010" fill-opacity="0.22" stroke="#e81010" stroke-width="1.16" stroke-opacity="1"/>
<circle cx="671.97" cy="491.32" r="1.68" fill="#e81010" fill-opacity="1"/>
<circle cx="710.15" cy="494.58" r="2.1" fill="#e81010" fill-opacity="1"/>
<circle cx="610.7" cy="494.86" r="2.35" fill="#e81010" fill-opacity="1"/>
<circle cx="631.93" cy="494.58" r="2.12" fill="#e81010" fill-opacity="0.22" stroke="#e81010" stroke-width="1.13" stroke-opacity="1"/>
<circle cx="617.78" cy="502.96" r="2.32" fill="#e81010" fill-opacity="0.22" stroke="#e81010" stroke-width="1.23" stroke-opacity="1"/>
<circle cx="644.97" cy="502.68" r="2.1" fill="#e81010" fill-opacity="1"/>
<circle cx="685.75" cy="507.9" r="2.52" fill="#e81010" fill-opacity="0.22" stroke="#e81010" stroke-width="1.34" stroke-opacity="1"/>
<circle cx="716.48" cy="506.41" r="2.52" fill="#e81010" fill-opacity="0.22" stroke="#e81010" stroke-width="1.34" stroke-opacity="1"/>
<circle cx="696.65" cy="507.62" r="0.84" fill="#e81010" fill-opacity="0.5"/>
<circle cx="675.88" cy="518.33" r="2.51" fill="#e81010" fill-opacity="1"/>
<circle cx="637.05" cy="525.03" r="2.52" fill="#e81010" fill-opacity="0.22" stroke="#e81010" stroke-width="1.34" stroke-opacity="1"/>
<circle cx="597.48" cy="531.55" r="2.93" fill="#e81010" fill-opacity="1"/>
</g></g>
<clipPath id="bc10"><rect x="201.8" y="538.7" width="128.6" height="128.3"/></clipPath>
<g clip-path="url(#bc10)"><g filter="url(#bblur)">
<circle cx="238.12" cy="539.35" r="2.1" fill="#18a818" fill-opacity="0.68"/>
<circle cx="328.44" cy="539.63" r="1.84" fill="#18a818" fill-opacity="0.68"/>
<circle cx="247.89" cy="545.22" r="2.47" fill="#18a818" fill-opacity="0.18" stroke="#18a818" stroke-width="0.92" stroke-opacity="0.8"/>
<circle cx="265.12" cy="546.8" r="2.82" fill="#18a818" fill-opacity="0.18" stroke="#18a818" stroke-width="1.06" stroke-opacity="0.8"/>
<circle cx="230.2" cy="548.94" r="2.1" fill="#18a818" fill-opacity="0.68"/>
<circle cx="221.54" cy="548.2" r="2.47" fill="#18a818" fill-opacity="0.18" stroke="#18a818" stroke-width="0.92" stroke-opacity="0.8"/>
<circle cx="218.56" cy="552.39" r="1.84" fill="#18a818" fill-opacity="0.68"/>
<circle cx="288.4" cy="544.94" r="2.47" fill="#18a818" fill-opacity="0.18" stroke="#18a818" stroke-width="0.92" stroke-opacity="0.8"/>
<circle cx="316.34" cy="545.22" r="2.35" fill="#18a818" fill-opacity="0.68"/>
<circle cx="215.95" cy="560.12" r="2.33" fill="#18a818" fill-opacity="0.18" stroke="#18a818" stroke-width="0.87" stroke-opacity="0.8"/>
<circle cx="229.27" cy="559.84" r="2.51" fill="#18a818" fill-opacity="0.68"/>
<circle cx="280.02" cy="564.21" r="2.33" fill="#18a818" fill-opacity="0.18" stroke="#18a818" stroke-width="0.87" stroke-opacity="0.8"/>
<circle cx="306.09" cy="559.37" r="2.12" fill="#18a818" fill-opacity="0.18" stroke="#18a818" stroke-width="0.79" stroke-opacity="0.8"/>
<circle cx="310.75" cy="563.56" r="1.68" fill="#18a818" fill-opacity="0.68"/>
<circle cx="314.94" cy="568.22" r="2.82" fill="#18a818" fill-opacity="0.18" stroke="#18a818" stroke-width="1.06" stroke-opacity="0.8"/>
<circle cx="212.97" cy="569.62" r="2.93" fill="#18a818" fill-opacity="0.68"/>
<circle cx="236.25" cy="576.13" r="2.12" fill="#18a818" fill-opacity="0.18" stroke="#18a818" stroke-width="0.79" stroke-opacity="0.8"/>
<circle cx="274.43" cy="570.08" r="0.71" fill="#18a818" fill-opacity="0.09" stroke="#18a818" stroke-width="0.6" stroke-opacity="0.4"/>
<circle cx="261.4" cy="582.65" r="2.97" fill="#18a818" fill-opacity="0.18" stroke="#18a818" stroke-width="1.11" stroke-opacity="0.8"/>
<circle cx="273.97" cy="580.32" r="1.77" fill="#18a818" fill-opacity="0.18" stroke="#18a818" stroke-width="0.66" stroke-opacity="0.8"/>
<circle cx="315.4" cy="581.72" r="2.33" fill="#18a818" fill-opacity="0.09" stroke="#18a818" stroke-width="0.87" stroke-opacity="0.4"/>
<circle cx="210.65" cy="588.24" r="2.93" fill="#18a818" fill-opacity="0.68"/>
<circle cx="298.64" cy="586.84" r="2.35" fill="#18a818" fill-opacity="0.68"/>
<circle cx="248.82" cy="592.15" r="2.12" fill="#18a818" fill-opacity="0.09" stroke="#18a818" stroke-width="0.79" stroke-opacity="0.4"/>
<circle cx="272.1" cy="593.17" r="2.33" fill="#18a818" fill-opacity="0.18" stroke="#18a818" stroke-width="0.87" stroke-opacity="0.8"/>
<circle cx="266.52" cy="597.09" r="2.12" fill="#18a818" fill-opacity="0.18" stroke="#18a818" stroke-width="0.79" stroke-opacity="0.8"/>
<circle cx="279.55" cy="604.26" r="2.1" fill="#18a818" fill-opacity="0.68"/>
<circle cx="305.63" cy="602.21" r="1.77" fill="#18a818" fill-opacity="0.09" stroke="#18a818" stroke-width="0.66" stroke-opacity="0.4"/>
<circle cx="205.52" cy="603.88" r="0.71" fill="#18a818" fill-opacity="0.09" stroke="#18a818" stroke-width="0.6" stroke-opacity="0.4"/>
<circle cx="287.47" cy="610.77" r="2.68" fill="#18a818" fill-opacity="0.68"/>
<circle cx="236.72" cy="612.45" r="1.98" fill="#18a818" fill-opacity="0.18" stroke="#18a818" stroke-width="0.74" stroke-opacity="0.8"/>
<circle cx="239.05" cy="617.11" r="1.84" fill="#18a818" fill-opacity="0.68"/>
<circle cx="284.21" cy="617.57" r="1.84" fill="#18a818" fill-opacity="0.68"/>
<circle cx="304.23" cy="618.04" r="2.93" fill="#18a818" fill-opacity="0.68"/>
<circle cx="327.98" cy="615.43" r="2.1" fill="#18a818" fill-opacity="0.68"/>
<circle cx="319.59" cy="613.85" r="0.54" fill="#18a818" fill-opacity="0.09" stroke="#18a818" stroke-width="0.6" stroke-opacity="0.4"/>
<circle cx="245.38" cy="622.23" r="1.98" fill="#18a818" fill-opacity="0.18" stroke="#18a818" stroke-width="0.74" stroke-opacity="0.8"/>
<circle cx="269.03" cy="625.02" r="2.47" fill="#18a818" fill-opacity="0.18" stroke="#18a818" stroke-width="0.92" stroke-opacity="0.8"/>
<circle cx="271.17" cy="630.61" r="2.47" fill="#18a818" fill-opacity="0.18" stroke="#18a818" stroke-width="0.92" stroke-opacity="0.8"/>
<circle cx="323.32" cy="630.14" r="2.33" fill="#18a818" fill-opacity="0.09" stroke="#18a818" stroke-width="0.87" stroke-opacity="0.4"/>
<circle cx="219.68" cy="634.8" r="1.84" fill="#18a818" fill-opacity="0.68"/>
<circle cx="206.46" cy="637.87" r="1.51" fill="#18a818" fill-opacity="0.68"/>
<circle cx="258.6" cy="639.45" r="2.12" fill="#18a818" fill-opacity="0.18" stroke="#18a818" stroke-width="0.79" stroke-opacity="0.8"/>
<circle cx="260.93" cy="644.11" r="2.68" fill="#18a818" fill-opacity="0.18" stroke="#18a818" stroke-width="1" stroke-opacity="0.8"/>
<circle cx="238.12" cy="650.81" r="2.26" fill="#18a818" fill-opacity="0.18" stroke="#18a818" stroke-width="0.84" stroke-opacity="0.8"/>
<circle cx="262.33" cy="656.22" r="1.77" fill="#18a818" fill-opacity="0.18" stroke="#18a818" stroke-width="0.66" stroke-opacity="0.8"/>
<circle cx="287" cy="652.49" r="1.84" fill="#18a818" fill-opacity="0.68"/>
<circle cx="319.13" cy="644.11" r="1.68" fill="#18a818" fill-opacity="0.68"/>
<circle cx="224.61" cy="663.67" r="2.47" fill="#18a818" fill-opacity="0.09" stroke="#18a818" stroke-width="0.92" stroke-opacity="0.4"/>
<circle cx="294.92" cy="666.92" r="1.68" fill="#18a818" fill-opacity="0.68"/>
<circle cx="236.72" cy="667.2" r="1.26" fill="#18a818" fill-opacity="0.68"/>
</g></g>
<clipPath id="bc11"><rect x="333.8" y="538.7" width="127.6" height="128.3"/></clipPath>
<g clip-path="url(#bc11)"><g filter="url(#bblur)">
<circle cx="347.3" cy="539.63" r="1.85" fill="#14e014" fill-opacity="0.22" stroke="#14e014" stroke-width="0.99" stroke-opacity="1"/>
<circle cx="357.08" cy="543.08" r="2.1" fill="#14e014" fill-opacity="1"/>
<circle cx="375.7" cy="541.49" r="2.12" fill="#14e014" fill-opacity="0.22" stroke="#14e014" stroke-width="1.13" stroke-opacity="1"/>
<circle cx="385.48" cy="539.82" r="2.35" fill="#14e014" fill-opacity="1"/>
<circle cx="380.55" cy="545.4" r="2.35" fill="#14e014" fill-opacity="1"/>
<circle cx="395.07" cy="545.59" r="2.32" fill="#14e014" fill-opacity="0.22" stroke="#14e014" stroke-width="1.23" stroke-opacity="1"/>
<circle cx="348.23" cy="550.99" r="2.52" fill="#14e014" fill-opacity="0.22" stroke="#14e014" stroke-width="1.34" stroke-opacity="1"/>
<circle cx="399.91" cy="555.18" r="2.32" fill="#14e014" fill-opacity="0.22" stroke="#14e014" stroke-width="1.23" stroke-opacity="1"/>
<circle cx="428.04" cy="549.59" r="2.18" fill="#14e014" fill-opacity="0.22" stroke="#14e014" stroke-width="1.16" stroke-opacity="1"/>
<circle cx="453.92" cy="549.59" r="2.32" fill="#14e014" fill-opacity="0.22" stroke="#14e014" stroke-width="1.23" stroke-opacity="1"/>
<circle cx="432.51" cy="557.51" r="2.35" fill="#14e014" fill-opacity="1"/>
<circle cx="444.15" cy="559.19" r="2.32" fill="#14e014" fill-opacity="0.22" stroke="#14e014" stroke-width="1.23" stroke-opacity="1"/>
<circle cx="435.11" cy="562.91" r="2.51" fill="#14e014" fill-opacity="1"/>
<circle cx="371.98" cy="558.63" r="1.01" fill="#14e014" fill-opacity="0.5"/>
<circle cx="381.29" cy="558.91" r="1.51" fill="#14e014" fill-opacity="1"/>
<circle cx="384.08" cy="562.17" r="2.1" fill="#14e014" fill-opacity="1"/>
<circle cx="359.69" cy="562.91" r="2.68" fill="#14e014" fill-opacity="1"/>
<circle cx="395.72" cy="573.34" r="2.35" fill="#14e014" fill-opacity="1"/>
<circle cx="395.72" cy="579.86" r="2.32" fill="#14e014" fill-opacity="0.22" stroke="#14e014" stroke-width="1.23" stroke-opacity="1"/>
<circle cx="459.98" cy="577.06" r="1.99" fill="#14e014" fill-opacity="0.22" stroke="#14e014" stroke-width="1.06" stroke-opacity="1"/>
<circle cx="431.39" cy="585.26" r="2.51" fill="#14e014" fill-opacity="0.5"/>
<circle cx="423.38" cy="589.92" r="2.51" fill="#14e014" fill-opacity="1"/>
<circle cx="446.47" cy="591.78" r="2.35" fill="#14e014" fill-opacity="1"/>
<circle cx="454.39" cy="592.89" r="1.26" fill="#14e014" fill-opacity="0.5"/>
<circle cx="382.22" cy="594.57" r="2.12" fill="#14e014" fill-opacity="0.22" stroke="#14e014" stroke-width="1.13" stroke-opacity="1"/>
<circle cx="397.12" cy="592.89" r="1.99" fill="#14e014" fill-opacity="0.22" stroke="#14e014" stroke-width="1.06" stroke-opacity="1"/>
<circle cx="394.14" cy="595.5" r="1.26" fill="#14e014" fill-opacity="1"/>
<circle cx="398.8" cy="597.55" r="1.51" fill="#14e014" fill-opacity="1"/>
<circle cx="463.7" cy="598.95" r="1.01" fill="#14e014" fill-opacity="1"/>
<circle cx="459.04" cy="604.26" r="2.1" fill="#14e014" fill-opacity="1"/>
<circle cx="360.06" cy="608.26" r="2.51" fill="#14e014" fill-opacity="1"/>
<circle cx="416.68" cy="607.33" r="2.32" fill="#14e014" fill-opacity="0.22" stroke="#14e014" stroke-width="1.23" stroke-opacity="1"/>
<circle cx="403.17" cy="610.59" r="2.35" fill="#14e014" fill-opacity="0.5"/>
<circle cx="338.46" cy="612.64" r="3.35" fill="#14e014" fill-opacity="1"/>
<circle cx="350.56" cy="613.85" r="2.35" fill="#14e014" fill-opacity="0.5"/>
<circle cx="436.7" cy="610.59" r="2.51" fill="#14e014" fill-opacity="0.5"/>
<circle cx="447.4" cy="610.12" r="1.01" fill="#14e014" fill-opacity="0.5"/>
<circle cx="450.38" cy="614.31" r="2.35" fill="#14e014" fill-opacity="1"/>
<circle cx="459.51" cy="614.5" r="2.1" fill="#14e014" fill-opacity="1"/>
<circle cx="425.06" cy="617.85" r="3.18" fill="#14e014" fill-opacity="1"/>
<circle cx="435.3" cy="616.17" r="1.99" fill="#14e014" fill-opacity="0.22" stroke="#14e014" stroke-width="1.06" stroke-opacity="1"/>
<circle cx="439.49" cy="618.22" r="1.99" fill="#14e014" fill-opacity="0.22" stroke="#14e014" stroke-width="1.06" stroke-opacity="1"/>
<circle cx="370.12" cy="630.89" r="2.93" fill="#14e014" fill-opacity="1"/>
<circle cx="361.55" cy="634.05" r="2.52" fill="#14e014" fill-opacity="0.22" stroke="#14e014" stroke-width="1.34" stroke-opacity="1"/>
<circle cx="413.14" cy="636.85" r="2.35" fill="#14e014" fill-opacity="1"/>
<circle cx="418.35" cy="641.5" r="2.35" fill="#14e014" fill-opacity="1"/>
<circle cx="384.55" cy="641.32" r="2.51" fill="#14e014" fill-opacity="1"/>
<circle cx="445.08" cy="642.99" r="2.35" fill="#14e014" fill-opacity="0.5"/>
<circle cx="345.44" cy="644.58" r="2.32" fill="#14e014" fill-opacity="0.22" stroke="#14e014" stroke-width="1.23" stroke-opacity="1"/>
<circle cx="376.63" cy="654.82" r="2.98" fill="#14e014" fill-opacity="0.22" stroke="#14e014" stroke-width="1.58" stroke-opacity="1"/>
<circle cx="338.92" cy="656.68" r="2.51" fill="#14e014" fill-opacity="1"/>
<circle cx="334.27" cy="657.89" r="1.68" fill="#14e014" fill-opacity="1"/>
<circle cx="357.55" cy="661.34" r="3.18" fill="#14e014" fill-opacity="1"/>
<circle cx="397.59" cy="662.08" r="0.84" fill="#14e014" fill-opacity="0.5"/>
<circle cx="438.09" cy="664.13" r="0.84" fill="#14e014" fill-opacity="0.5"/>
</g></g>
<clipPath id="bc12"><rect x="464" y="538.7" width="128" height="128.3"/></clipPath>
<g clip-path="url(#bc12)"><g filter="url(#bblur)">
<circle cx="469.59" cy="545.22" r="2.32" fill="#14e014" fill-opacity="0.22" stroke="#14e014" stroke-width="1.23" stroke-opacity="1"/>
<circle cx="488.68" cy="541.68" r="2.51" fill="#14e014" fill-opacity="1"/>
<circle cx="493.33" cy="540.28" r="2.1" fill="#14e014" fill-opacity="1"/>
<circle cx="508.23" cy="546.8" r="1.84" fill="#14e014" fill-opacity="1"/>
<circle cx="510.56" cy="550.06" r="1.51" fill="#14e014" fill-opacity="1"/>
<circle cx="554.32" cy="546.8" r="1.66" fill="#14e014" fill-opacity="0.22" stroke="#14e014" stroke-width="0.88" stroke-opacity="1"/>
<circle cx="558.98" cy="546.8" r="1.85" fill="#14e014" fill-opacity="0.22" stroke="#14e014" stroke-width="0.99" stroke-opacity="1"/>
<circle cx="552.93" cy="553.32" r="1.99" fill="#14e014" fill-opacity="0.22" stroke="#14e014" stroke-width="1.06" stroke-opacity="1"/>
<circle cx="556.65" cy="554.72" r="2.1" fill="#14e014" fill-opacity="1"/>
<circle cx="466.05" cy="560.49" r="1.99" fill="#14e014" fill-opacity="0.22" stroke="#14e014" stroke-width="1.06" stroke-opacity="1"/>
<circle cx="540.82" cy="565.7" r="2.32" fill="#14e014" fill-opacity="0.22" stroke="#14e014" stroke-width="1.23" stroke-opacity="1"/>
<circle cx="483.37" cy="576.6" r="2.52" fill="#14e014" fill-opacity="0.22" stroke="#14e014" stroke-width="1.34" stroke-opacity="1"/>
<circle cx="503.58" cy="572.87" r="2.1" fill="#14e014" fill-opacity="0.5"/>
<circle cx="535.7" cy="579.39" r="2.32" fill="#14e014" fill-opacity="0.22" stroke="#14e014" stroke-width="1.23" stroke-opacity="1"/>
<circle cx="548.27" cy="574.27" r="3.35" fill="#14e014" fill-opacity="1"/>
<circle cx="561.31" cy="575.2" r="1.84" fill="#14e014" fill-opacity="1"/>
<circle cx="571.09" cy="578" r="1.99" fill="#14e014" fill-opacity="0.22" stroke="#14e014" stroke-width="1.06" stroke-opacity="1"/>
<circle cx="568.76" cy="582.65" r="2.35" fill="#14e014" fill-opacity="1"/>
<circle cx="574.81" cy="581.72" r="2.51" fill="#14e014" fill-opacity="1"/>
<circle cx="577.6" cy="584.51" r="2.1" fill="#14e014" fill-opacity="1"/>
<circle cx="574.35" cy="587.31" r="2.1" fill="#14e014" fill-opacity="1"/>
<circle cx="497.99" cy="595.22" r="1.66" fill="#14e014" fill-opacity="0.22" stroke="#14e014" stroke-width="0.88" stroke-opacity="1"/>
<circle cx="505.9" cy="598.48" r="1.99" fill="#14e014" fill-opacity="0.22" stroke="#14e014" stroke-width="1.06" stroke-opacity="1"/>
<circle cx="510.56" cy="602.21" r="1.85" fill="#14e014" fill-opacity="0.22" stroke="#14e014" stroke-width="0.99" stroke-opacity="1"/>
<circle cx="496.78" cy="601.74" r="1.84" fill="#14e014" fill-opacity="1"/>
<circle cx="504.04" cy="604.07" r="2.68" fill="#14e014" fill-opacity="1"/>
<circle cx="498.27" cy="610.12" r="2.32" fill="#14e014" fill-opacity="0.22" stroke="#14e014" stroke-width="1.23" stroke-opacity="1"/>
<circle cx="529.18" cy="604.07" r="1.99" fill="#14e014" fill-opacity="0.22" stroke="#14e014" stroke-width="1.06" stroke-opacity="1"/>
<circle cx="532.44" cy="609.19" r="2.35" fill="#14e014" fill-opacity="0.5"/>
<circle cx="526.39" cy="613.38" r="2.12" fill="#14e014" fill-opacity="0.22" stroke="#14e014" stroke-width="1.13" stroke-opacity="1"/>
<circle cx="542.22" cy="608.26" r="1.84" fill="#14e014" fill-opacity="1"/>
<circle cx="557.58" cy="607.33" r="2.35" fill="#14e014" fill-opacity="1"/>
<circle cx="561.77" cy="604.07" r="1.85" fill="#14e014" fill-opacity="0.22" stroke="#14e014" stroke-width="0.99" stroke-opacity="1"/>
<circle cx="565.96" cy="604.07" r="1.66" fill="#14e014" fill-opacity="0.22" stroke="#14e014" stroke-width="0.88" stroke-opacity="1"/>
<circle cx="577.6" cy="611.98" r="2.51" fill="#14e014" fill-opacity="0.5"/>
<circle cx="540.82" cy="618.97" r="2.93" fill="#14e014" fill-opacity="1"/>
<circle cx="538.03" cy="621.3" r="1.84" fill="#14e014" fill-opacity="1"/>
<circle cx="529.18" cy="623.62" r="2.32" fill="#14e014" fill-opacity="0.22" stroke="#14e014" stroke-width="1.23" stroke-opacity="1"/>
<circle cx="491.75" cy="624.56" r="1.51" fill="#14e014" fill-opacity="1"/>
<circle cx="508.7" cy="625.95" r="2.35" fill="#14e014" fill-opacity="1"/>
<circle cx="513.82" cy="625.49" r="1.51" fill="#14e014" fill-opacity="1"/>
<circle cx="518.94" cy="624.37" r="1.84" fill="#14e014" fill-opacity="1"/>
<circle cx="547.81" cy="624.09" r="2.35" fill="#14e014" fill-opacity="1"/>
<circle cx="551.53" cy="621.76" r="1.66" fill="#14e014" fill-opacity="0.22" stroke="#14e014" stroke-width="0.88" stroke-opacity="1"/>
<circle cx="570.16" cy="623.62" r="2.1" fill="#14e014" fill-opacity="1"/>
<circle cx="579" cy="622.51" r="2.1" fill="#14e014" fill-opacity="1"/>
<circle cx="465.86" cy="627.81" r="1.85" fill="#14e014" fill-opacity="0.22" stroke="#14e014" stroke-width="0.99" stroke-opacity="1"/>
<circle cx="470.05" cy="626.88" r="1.51" fill="#14e014" fill-opacity="1"/>
<circle cx="465.4" cy="632.94" r="1.66" fill="#14e014" fill-opacity="0.22" stroke="#14e014" stroke-width="0.88" stroke-opacity="1"/>
<circle cx="522.66" cy="633.4" r="2.1" fill="#14e014" fill-opacity="1"/>
<circle cx="527.32" cy="636.2" r="2.35" fill="#14e014" fill-opacity="1"/>
<circle cx="531.51" cy="636.66" r="1.85" fill="#14e014" fill-opacity="0.22" stroke="#14e014" stroke-width="0.99" stroke-opacity="1"/>
<circle cx="521.73" cy="645.04" r="1.84" fill="#14e014" fill-opacity="1"/>
<circle cx="525.46" cy="647.83" r="2.1" fill="#14e014" fill-opacity="1"/>
<circle cx="582.26" cy="639.45" r="2.35" fill="#14e014" fill-opacity="0.5"/>
<circle cx="585.99" cy="642.25" r="2.1" fill="#14e014" fill-opacity="1"/>
<circle cx="583.19" cy="645.51" r="2.51" fill="#14e014" fill-opacity="1"/>
<circle cx="590.18" cy="645.51" r="2.1" fill="#14e014" fill-opacity="1"/>
<circle cx="586.92" cy="649.23" r="2.35" fill="#14e014" fill-opacity="1"/>
<circle cx="559.45" cy="650.81" r="2.51" fill="#14e014" fill-opacity="1"/>
<circle cx="571.09" cy="650.63" r="2.51" fill="#14e014" fill-opacity="0.5"/>
<circle cx="531.98" cy="661.34" r="2.35" fill="#14e014" fill-opacity="1"/>
<circle cx="578.07" cy="665.99" r="1.85" fill="#14e014" fill-opacity="0.22" stroke="#14e014" stroke-width="0.99" stroke-opacity="1"/>
<circle cx="476.11" cy="666.92" r="1.26" fill="#14e014" fill-opacity="0.5"/>
</g></g>
<clipPath id="bc13"><rect x="595.8" y="538.7" width="128.6" height="128.3"/></clipPath>
<g clip-path="url(#bc13)"><g filter="url(#bblur)">
<circle cx="607.25" cy="540.75" r="2.35" fill="#14e414" fill-opacity="1"/>
<circle cx="611.44" cy="539.35" r="1.26" fill="#14e414" fill-opacity="0.5"/>
<circle cx="650.09" cy="546.34" r="0.84" fill="#14e414" fill-opacity="0.5"/>
<circle cx="650.09" cy="550.99" r="1.84" fill="#14e414" fill-opacity="1"/>
<circle cx="678.95" cy="548.38" r="2.35" fill="#14e414" fill-opacity="0.5"/>
<circle cx="706.89" cy="555.65" r="1.01" fill="#14e414" fill-opacity="0.5"/>
<circle cx="623.36" cy="557.7" r="2.68" fill="#14e414" fill-opacity="0.5"/>
<circle cx="659.4" cy="563.1" r="1.84" fill="#14e414" fill-opacity="0.5"/>
<circle cx="599.15" cy="568.68" r="1.99" fill="#14e414" fill-opacity="0.22" stroke="#14e414" stroke-width="1.06" stroke-opacity="1"/>
<circle cx="675.23" cy="569.62" r="2.32" fill="#14e414" fill-opacity="0.22" stroke="#14e414" stroke-width="1.23" stroke-opacity="1"/>
<circle cx="642.92" cy="574.46" r="1.17" fill="#14e414" fill-opacity="0.5"/>
<circle cx="665.45" cy="576.13" r="2.12" fill="#14e414" fill-opacity="0.22" stroke="#14e414" stroke-width="1.13" stroke-opacity="1"/>
<circle cx="642.36" cy="584.98" r="0.84" fill="#14e414" fill-opacity="0.5"/>
<circle cx="711.27" cy="586.19" r="2.35" fill="#14e414" fill-opacity="1"/>
<circle cx="632.67" cy="591.03" r="2.35" fill="#14e414" fill-opacity="1"/>
<circle cx="653.35" cy="590.1" r="2.51" fill="#14e414" fill-opacity="1"/>
<circle cx="674.95" cy="590.85" r="2.52" fill="#14e414" fill-opacity="0.22" stroke="#14e414" stroke-width="1.34" stroke-opacity="1"/>
<circle cx="658.93" cy="595.5" r="1.99" fill="#14e414" fill-opacity="0.22" stroke="#14e414" stroke-width="1.06" stroke-opacity="1"/>
<circle cx="664.06" cy="596.15" r="1.85" fill="#14e414" fill-opacity="0.22" stroke="#14e414" stroke-width="0.99" stroke-opacity="1"/>
<circle cx="668.71" cy="599.6" r="2.18" fill="#14e414" fill-opacity="0.22" stroke="#14e414" stroke-width="1.16" stroke-opacity="1"/>
<circle cx="635.19" cy="597.09" r="1.85" fill="#14e414" fill-opacity="0.22" stroke="#14e414" stroke-width="0.99" stroke-opacity="1"/>
<circle cx="635.19" cy="601.46" r="1.68" fill="#14e414" fill-opacity="1"/>
<circle cx="631.74" cy="608.73" r="2.35" fill="#14e414" fill-opacity="1"/>
<circle cx="635.84" cy="608.26" r="2.1" fill="#14e414" fill-opacity="1"/>
<circle cx="649.16" cy="608.73" r="2.52" fill="#14e414" fill-opacity="0.22" stroke="#14e414" stroke-width="1.34" stroke-opacity="1"/>
<circle cx="604.74" cy="614.5" r="2.52" fill="#14e414" fill-opacity="0.22" stroke="#14e414" stroke-width="1.34" stroke-opacity="1"/>
<circle cx="599.8" cy="620.83" r="2.52" fill="#14e414" fill-opacity="0.22" stroke="#14e414" stroke-width="1.34" stroke-opacity="1"/>
<circle cx="605.39" cy="619.9" r="1.85" fill="#14e414" fill-opacity="0.22" stroke="#14e414" stroke-width="0.99" stroke-opacity="1"/>
<circle cx="694.79" cy="613.38" r="1.99" fill="#14e414" fill-opacity="0.22" stroke="#14e414" stroke-width="1.06" stroke-opacity="1"/>
<circle cx="625.6" cy="619.9" r="2.51" fill="#14e414" fill-opacity="1"/>
<circle cx="683.33" cy="620.09" r="2.51" fill="#14e414" fill-opacity="1"/>
<circle cx="693.39" cy="619.71" r="1.99" fill="#14e414" fill-opacity="0.22" stroke="#14e414" stroke-width="1.06" stroke-opacity="1"/>
<circle cx="698.04" cy="620.36" r="1.85" fill="#14e414" fill-opacity="0.22" stroke="#14e414" stroke-width="0.99" stroke-opacity="1"/>
<circle cx="699.72" cy="625.3" r="2.1" fill="#14e414" fill-opacity="1"/>
<circle cx="713.87" cy="621.02" r="2.18" fill="#14e414" fill-opacity="0.22" stroke="#14e414" stroke-width="1.16" stroke-opacity="1"/>
<circle cx="671.97" cy="623.62" r="1.68" fill="#14e414" fill-opacity="1"/>
<circle cx="710.15" cy="626.88" r="2.1" fill="#14e414" fill-opacity="1"/>
<circle cx="610.7" cy="627.16" r="2.35" fill="#14e414" fill-opacity="1"/>
<circle cx="631.93" cy="626.88" r="2.12" fill="#14e414" fill-opacity="0.22" stroke="#14e414" stroke-width="1.13" stroke-opacity="1"/>
<circle cx="617.78" cy="635.26" r="2.32" fill="#14e414" fill-opacity="0.22" stroke="#14e414" stroke-width="1.23" stroke-opacity="1"/>
<circle cx="644.97" cy="634.98" r="2.1" fill="#14e414" fill-opacity="1"/>
<circle cx="685.75" cy="640.2" r="2.52" fill="#14e414" fill-opacity="0.22" stroke="#14e414" stroke-width="1.34" stroke-opacity="1"/>
<circle cx="716.48" cy="638.71" r="2.52" fill="#14e414" fill-opacity="0.22" stroke="#14e414" stroke-width="1.34" stroke-opacity="1"/>
<circle cx="696.65" cy="639.92" r="0.84" fill="#14e414" fill-opacity="0.5"/>
<circle cx="675.88" cy="650.63" r="2.51" fill="#14e414" fill-opacity="1"/>
<circle cx="637.05" cy="657.33" r="2.52" fill="#14e414" fill-opacity="0.22" stroke="#14e414" stroke-width="1.34" stroke-opacity="1"/>
<circle cx="597.48" cy="663.85" r="2.93" fill="#14e414" fill-opacity="1"/>
</g></g>
<clipPath id="bc20"><rect x="201.8" y="670.3" width="128.6" height="128.6"/></clipPath>
<g clip-path="url(#bc20)"><g filter="url(#bblur)">
<circle cx="238.12" cy="670.95" r="2.3" fill="#a8a8a8" fill-opacity="0.33" stroke="#5c5c5c" stroke-width="0.9" stroke-opacity="0.61"/>
<circle cx="328.44" cy="671.23" r="2.03" fill="#a8a8a8" fill-opacity="0.33" stroke="#5c5c5c" stroke-width="0.9" stroke-opacity="0.61"/>
<circle cx="247.89" cy="676.82" r="3.23" fill="#a8a8a8" fill-opacity="0.33" stroke="#5c5c5c" stroke-width="0.9" stroke-opacity="0.61"/>
<circle cx="265.12" cy="678.4" r="3.69" fill="#a8a8a8" fill-opacity="0.33" stroke="#5c5c5c" stroke-width="0.9" stroke-opacity="0.61"/>
<circle cx="230.2" cy="680.54" r="2.3" fill="#a8a8a8" fill-opacity="0.33" stroke="#5c5c5c" stroke-width="0.9" stroke-opacity="0.61"/>
<circle cx="221.54" cy="679.8" r="3.23" fill="#a8a8a8" fill-opacity="0.33" stroke="#5c5c5c" stroke-width="0.9" stroke-opacity="0.61"/>
<circle cx="218.56" cy="683.99" r="2.03" fill="#a8a8a8" fill-opacity="0.33" stroke="#5c5c5c" stroke-width="0.9" stroke-opacity="0.61"/>
<circle cx="288.4" cy="676.54" r="3.23" fill="#a8a8a8" fill-opacity="0.33" stroke="#5c5c5c" stroke-width="0.9" stroke-opacity="0.61"/>
<circle cx="316.34" cy="676.82" r="2.58" fill="#a8a8a8" fill-opacity="0.33" stroke="#5c5c5c" stroke-width="0.9" stroke-opacity="0.61"/>
<circle cx="215.95" cy="691.72" r="3.04" fill="#a8a8a8" fill-opacity="0.33" stroke="#5c5c5c" stroke-width="0.9" stroke-opacity="0.61"/>
<circle cx="229.27" cy="691.44" r="2.77" fill="#a8a8a8" fill-opacity="0.33" stroke="#5c5c5c" stroke-width="0.9" stroke-opacity="0.61"/>
<circle cx="280.02" cy="695.81" r="3.04" fill="#a8a8a8" fill-opacity="0.33" stroke="#5c5c5c" stroke-width="0.9" stroke-opacity="0.61"/>
<circle cx="306.09" cy="690.97" r="2.77" fill="#a8a8a8" fill-opacity="0.33" stroke="#5c5c5c" stroke-width="0.9" stroke-opacity="0.61"/>
<circle cx="310.75" cy="695.16" r="1.84" fill="#a8a8a8" fill-opacity="0.33" stroke="#5c5c5c" stroke-width="0.9" stroke-opacity="0.61"/>
<circle cx="314.94" cy="699.82" r="3.69" fill="#a8a8a8" fill-opacity="0.33" stroke="#5c5c5c" stroke-width="0.9" stroke-opacity="0.61"/>
<circle cx="212.97" cy="701.22" r="3.23" fill="#a8a8a8" fill-opacity="0.33" stroke="#5c5c5c" stroke-width="0.9" stroke-opacity="0.61"/>
<circle cx="236.25" cy="707.73" r="2.77" fill="#a8a8a8" fill-opacity="0.33" stroke="#5c5c5c" stroke-width="0.9" stroke-opacity="0.61"/>
<circle cx="261.4" cy="714.25" r="3.87" fill="#a8a8a8" fill-opacity="0.33" stroke="#5c5c5c" stroke-width="0.9" stroke-opacity="0.61"/>
<circle cx="273.97" cy="711.92" r="2.3" fill="#a8a8a8" fill-opacity="0.33" stroke="#5c5c5c" stroke-width="0.9" stroke-opacity="0.61"/>
<circle cx="315.4" cy="713.32" r="3.04" fill="#a8a8a8" fill-opacity="0.18" stroke="#5c5c5c" stroke-width="0.9" stroke-opacity="0.33"/>
<circle cx="210.65" cy="719.84" r="3.23" fill="#a8a8a8" fill-opacity="0.33" stroke="#5c5c5c" stroke-width="0.9" stroke-opacity="0.61"/>
<circle cx="298.64" cy="718.44" r="2.58" fill="#a8a8a8" fill-opacity="0.33" stroke="#5c5c5c" stroke-width="0.9" stroke-opacity="0.61"/>
<circle cx="248.82" cy="723.75" r="2.77" fill="#a8a8a8" fill-opacity="0.18" stroke="#5c5c5c" stroke-width="0.9" stroke-opacity="0.33"/>
<circle cx="272.1" cy="724.77" r="3.04" fill="#a8a8a8" fill-opacity="0.33" stroke="#5c5c5c" stroke-width="0.9" stroke-opacity="0.61"/>
<circle cx="266.52" cy="728.69" r="2.77" fill="#a8a8a8" fill-opacity="0.33" stroke="#5c5c5c" stroke-width="0.9" stroke-opacity="0.61"/>
<circle cx="279.55" cy="735.86" r="2.3" fill="#a8a8a8" fill-opacity="0.33" stroke="#5c5c5c" stroke-width="0.9" stroke-opacity="0.61"/>
<circle cx="305.63" cy="733.81" r="2.3" fill="#a8a8a8" fill-opacity="0.18" stroke="#5c5c5c" stroke-width="0.9" stroke-opacity="0.33"/>
<circle cx="287.47" cy="742.37" r="2.95" fill="#a8a8a8" fill-opacity="0.33" stroke="#5c5c5c" stroke-width="0.9" stroke-opacity="0.61"/>
<circle cx="236.72" cy="744.05" r="2.58" fill="#a8a8a8" fill-opacity="0.33" stroke="#5c5c5c" stroke-width="0.9" stroke-opacity="0.61"/>
<circle cx="239.05" cy="748.71" r="2.03" fill="#a8a8a8" fill-opacity="0.33" stroke="#5c5c5c" stroke-width="0.9" stroke-opacity="0.61"/>
<circle cx="284.21" cy="749.17" r="2.03" fill="#a8a8a8" fill-opacity="0.33" stroke="#5c5c5c" stroke-width="0.9" stroke-opacity="0.61"/>
<circle cx="304.23" cy="749.64" r="3.23" fill="#a8a8a8" fill-opacity="0.33" stroke="#5c5c5c" stroke-width="0.9" stroke-opacity="0.61"/>
<circle cx="327.98" cy="747.03" r="2.3" fill="#a8a8a8" fill-opacity="0.33" stroke="#5c5c5c" stroke-width="0.9" stroke-opacity="0.61"/>
<circle cx="245.38" cy="753.83" r="2.58" fill="#a8a8a8" fill-opacity="0.33" stroke="#5c5c5c" stroke-width="0.9" stroke-opacity="0.61"/>
<circle cx="269.03" cy="756.62" r="3.23" fill="#a8a8a8" fill-opacity="0.33" stroke="#5c5c5c" stroke-width="0.9" stroke-opacity="0.61"/>
<circle cx="271.17" cy="762.21" r="3.23" fill="#a8a8a8" fill-opacity="0.33" stroke="#5c5c5c" stroke-width="0.9" stroke-opacity="0.61"/>
<circle cx="323.32" cy="761.74" r="3.04" fill="#a8a8a8" fill-opacity="0.18" stroke="#5c5c5c" stroke-width="0.9" stroke-opacity="0.33"/>
<circle cx="219.68" cy="766.4" r="2.03" fill="#a8a8a8" fill-opacity="0.33" stroke="#5c5c5c" stroke-width="0.9" stroke-opacity="0.61"/>
<circle cx="206.46" cy="769.47" r="1.66" fill="#a8a8a8" fill-opacity="0.33" stroke="#5c5c5c" stroke-width="0.9" stroke-opacity="0.61"/>
<circle cx="258.6" cy="771.05" r="2.77" fill="#a8a8a8" fill-opacity="0.33" stroke="#5c5c5c" stroke-width="0.9" stroke-opacity="0.61"/>
<circle cx="260.93" cy="775.71" r="3.5" fill="#a8a8a8" fill-opacity="0.33" stroke="#5c5c5c" stroke-width="0.9" stroke-opacity="0.61"/>
<circle cx="238.12" cy="782.41" r="2.95" fill="#a8a8a8" fill-opacity="0.33" stroke="#5c5c5c" stroke-width="0.9" stroke-opacity="0.61"/>
<circle cx="262.33" cy="787.82" r="2.3" fill="#a8a8a8" fill-opacity="0.33" stroke="#5c5c5c" stroke-width="0.9" stroke-opacity="0.61"/>
<circle cx="287" cy="784.09" r="2.03" fill="#a8a8a8" fill-opacity="0.33" stroke="#5c5c5c" stroke-width="0.9" stroke-opacity="0.61"/>
<circle cx="319.13" cy="775.71" r="1.84" fill="#a8a8a8" fill-opacity="0.33" stroke="#5c5c5c" stroke-width="0.9" stroke-opacity="0.61"/>
<circle cx="224.61" cy="795.27" r="3.23" fill="#a8a8a8" fill-opacity="0.18" stroke="#5c5c5c" stroke-width="0.9" stroke-opacity="0.33"/>
<circle cx="294.92" cy="798.52" r="1.84" fill="#a8a8a8" fill-opacity="0.33" stroke="#5c5c5c" stroke-width="0.9" stroke-opacity="0.61"/>
</g></g>
<clipPath id="bc21"><rect x="333.8" y="670.3" width="127.6" height="128.6"/></clipPath>
<g clip-path="url(#bc21)"><g filter="url(#bblur)">
<circle cx="347.3" cy="671.23" r="2.58" fill="#a8a8a8" fill-opacity="0.33" stroke="#5c5c5c" stroke-width="0.9" stroke-opacity="0.61"/>
<circle cx="357.08" cy="674.68" r="2.3" fill="#a8a8a8" fill-opacity="0.33" stroke="#5c5c5c" stroke-width="0.9" stroke-opacity="0.61"/>
<circle cx="375.7" cy="673.09" r="2.95" fill="#a8a8a8" fill-opacity="0.33" stroke="#5c5c5c" stroke-width="0.9" stroke-opacity="0.61"/>
<circle cx="385.48" cy="671.42" r="2.58" fill="#a8a8a8" fill-opacity="0.33" stroke="#5c5c5c" stroke-width="0.9" stroke-opacity="0.61"/>
<circle cx="380.55" cy="677" r="2.58" fill="#a8a8a8" fill-opacity="0.33" stroke="#5c5c5c" stroke-width="0.9" stroke-opacity="0.61"/>
<circle cx="395.07" cy="677.19" r="3.23" fill="#a8a8a8" fill-opacity="0.33" stroke="#5c5c5c" stroke-width="0.9" stroke-opacity="0.61"/>
<circle cx="348.23" cy="682.59" r="3.5" fill="#a8a8a8" fill-opacity="0.33" stroke="#5c5c5c" stroke-width="0.9" stroke-opacity="0.61"/>
<circle cx="399.91" cy="686.78" r="3.23" fill="#a8a8a8" fill-opacity="0.33" stroke="#5c5c5c" stroke-width="0.9" stroke-opacity="0.61"/>
<circle cx="428.04" cy="681.19" r="3.04" fill="#a8a8a8" fill-opacity="0.33" stroke="#5c5c5c" stroke-width="0.9" stroke-opacity="0.61"/>
<circle cx="453.92" cy="681.19" r="3.23" fill="#a8a8a8" fill-opacity="0.33" stroke="#5c5c5c" stroke-width="0.9" stroke-opacity="0.61"/>
<circle cx="432.51" cy="689.11" r="2.58" fill="#a8a8a8" fill-opacity="0.33" stroke="#5c5c5c" stroke-width="0.9" stroke-opacity="0.61"/>
<circle cx="444.15" cy="690.79" r="3.23" fill="#a8a8a8" fill-opacity="0.33" stroke="#5c5c5c" stroke-width="0.9" stroke-opacity="0.61"/>
<circle cx="435.11" cy="694.51" r="2.77" fill="#a8a8a8" fill-opacity="0.33" stroke="#5c5c5c" stroke-width="0.9" stroke-opacity="0.61"/>
<circle cx="381.29" cy="690.51" r="1.66" fill="#a8a8a8" fill-opacity="0.33" stroke="#5c5c5c" stroke-width="0.9" stroke-opacity="0.61"/>
<circle cx="384.08" cy="693.77" r="2.3" fill="#a8a8a8" fill-opacity="0.33" stroke="#5c5c5c" stroke-width="0.9" stroke-opacity="0.61"/>
<circle cx="359.69" cy="694.51" r="2.95" fill="#a8a8a8" fill-opacity="0.33" stroke="#5c5c5c" stroke-width="0.9" stroke-opacity="0.61"/>
<circle cx="395.72" cy="704.94" r="2.58" fill="#a8a8a8" fill-opacity="0.33" stroke="#5c5c5c" stroke-width="0.9" stroke-opacity="0.61"/>
<circle cx="395.72" cy="711.46" r="3.23" fill="#a8a8a8" fill-opacity="0.33" stroke="#5c5c5c" stroke-width="0.9" stroke-opacity="0.61"/>
<circle cx="459.98" cy="708.66" r="2.77" fill="#a8a8a8" fill-opacity="0.33" stroke="#5c5c5c" stroke-width="0.9" stroke-opacity="0.61"/>
<circle cx="431.39" cy="716.86" r="2.77" fill="#a8a8a8" fill-opacity="0.18" stroke="#5c5c5c" stroke-width="0.9" stroke-opacity="0.33"/>
<circle cx="423.38" cy="721.52" r="2.77" fill="#a8a8a8" fill-opacity="0.33" stroke="#5c5c5c" stroke-width="0.9" stroke-opacity="0.61"/>
<circle cx="446.47" cy="723.38" r="2.58" fill="#a8a8a8" fill-opacity="0.33" stroke="#5c5c5c" stroke-width="0.9" stroke-opacity="0.61"/>
<circle cx="382.22" cy="726.17" r="2.95" fill="#a8a8a8" fill-opacity="0.33" stroke="#5c5c5c" stroke-width="0.9" stroke-opacity="0.61"/>
<circle cx="397.12" cy="724.49" r="2.77" fill="#a8a8a8" fill-opacity="0.33" stroke="#5c5c5c" stroke-width="0.9" stroke-opacity="0.61"/>
<circle cx="398.8" cy="729.15" r="1.66" fill="#a8a8a8" fill-opacity="0.33" stroke="#5c5c5c" stroke-width="0.9" stroke-opacity="0.61"/>
<circle cx="459.04" cy="735.86" r="2.3" fill="#a8a8a8" fill-opacity="0.33" stroke="#5c5c5c" stroke-width="0.9" stroke-opacity="0.61"/>
<circle cx="360.06" cy="739.86" r="2.77" fill="#a8a8a8" fill-opacity="0.33" stroke="#5c5c5c" stroke-width="0.9" stroke-opacity="0.61"/>
<circle cx="416.68" cy="738.93" r="3.23" fill="#a8a8a8" fill-opacity="0.33" stroke="#5c5c5c" stroke-width="0.9" stroke-opacity="0.61"/>
<circle cx="403.17" cy="742.19" r="2.58" fill="#a8a8a8" fill-opacity="0.18" stroke="#5c5c5c" stroke-width="0.9" stroke-opacity="0.33"/>
<circle cx="338.46" cy="744.24" r="3.69" fill="#a8a8a8" fill-opacity="0.33" stroke="#5c5c5c" stroke-width="0.9" stroke-opacity="0.61"/>
<circle cx="350.56" cy="745.45" r="2.58" fill="#a8a8a8" fill-opacity="0.18" stroke="#5c5c5c" stroke-width="0.9" stroke-opacity="0.33"/>
<circle cx="436.7" cy="742.19" r="2.77" fill="#a8a8a8" fill-opacity="0.18" stroke="#5c5c5c" stroke-width="0.9" stroke-opacity="0.33"/>
<circle cx="450.38" cy="745.91" r="2.58" fill="#a8a8a8" fill-opacity="0.33" stroke="#5c5c5c" stroke-width="0.9" stroke-opacity="0.61"/>
<circle cx="459.51" cy="746.1" r="2.3" fill="#a8a8a8" fill-opacity="0.33" stroke="#5c5c5c" stroke-width="0.9" stroke-opacity="0.61"/>
<circle cx="425.06" cy="749.45" r="3.5" fill="#a8a8a8" fill-opacity="0.33" stroke="#5c5c5c" stroke-width="0.9" stroke-opacity="0.61"/>
<circle cx="435.3" cy="747.77" r="2.77" fill="#a8a8a8" fill-opacity="0.33" stroke="#5c5c5c" stroke-width="0.9" stroke-opacity="0.61"/>
<circle cx="439.49" cy="749.82" r="2.77" fill="#a8a8a8" fill-opacity="0.33" stroke="#5c5c5c" stroke-width="0.9" stroke-opacity="0.61"/>
<circle cx="370.12" cy="762.49" r="3.23" fill="#a8a8a8" fill-opacity="0.33" stroke="#5c5c5c" stroke-width="0.9" stroke-opacity="0.61"/>
<circle cx="361.55" cy="765.65" r="3.5" fill="#a8a8a8" fill-opacity="0.33" stroke="#5c5c5c" stroke-width="0.9" stroke-opacity="0.61"/>
<circle cx="413.14" cy="768.45" r="2.58" fill="#a8a8a8" fill-opacity="0.33" stroke="#5c5c5c" stroke-width="0.9" stroke-opacity="0.61"/>
<circle cx="418.35" cy="773.1" r="2.58" fill="#a8a8a8" fill-opacity="0.33" stroke="#5c5c5c" stroke-width="0.9" stroke-opacity="0.61"/>
<circle cx="384.55" cy="772.92" r="2.77" fill="#a8a8a8" fill-opacity="0.33" stroke="#5c5c5c" stroke-width="0.9" stroke-opacity="0.61"/>
<circle cx="445.08" cy="774.59" r="2.58" fill="#a8a8a8" fill-opacity="0.18" stroke="#5c5c5c" stroke-width="0.9" stroke-opacity="0.33"/>
<circle cx="345.44" cy="776.18" r="3.23" fill="#a8a8a8" fill-opacity="0.33" stroke="#5c5c5c" stroke-width="0.9" stroke-opacity="0.61"/>
<circle cx="376.63" cy="786.42" r="4.15" fill="#a8a8a8" fill-opacity="0.33" stroke="#5c5c5c" stroke-width="0.9" stroke-opacity="0.61"/>
<circle cx="338.92" cy="788.28" r="2.77" fill="#a8a8a8" fill-opacity="0.33" stroke="#5c5c5c" stroke-width="0.9" stroke-opacity="0.61"/>
<circle cx="334.27" cy="789.49" r="1.84" fill="#a8a8a8" fill-opacity="0.33" stroke="#5c5c5c" stroke-width="0.9" stroke-opacity="0.61"/>
<circle cx="357.55" cy="792.94" r="3.5" fill="#a8a8a8" fill-opacity="0.33" stroke="#5c5c5c" stroke-width="0.9" stroke-opacity="0.61"/>
</g></g>
<clipPath id="bc22"><rect x="464" y="670.3" width="128" height="128.6"/></clipPath>
<g clip-path="url(#bc22)"><g filter="url(#bblur)">
<circle cx="469.59" cy="676.82" r="3.23" fill="#a8a8a8" fill-opacity="0.33" stroke="#5c5c5c" stroke-width="0.9" stroke-opacity="0.61"/>
<circle cx="488.68" cy="673.28" r="2.77" fill="#a8a8a8" fill-opacity="0.33" stroke="#5c5c5c" stroke-width="0.9" stroke-opacity="0.61"/>
<circle cx="493.33" cy="671.88" r="2.3" fill="#a8a8a8" fill-opacity="0.33" stroke="#5c5c5c" stroke-width="0.9" stroke-opacity="0.61"/>
<circle cx="508.23" cy="678.4" r="2.03" fill="#a8a8a8" fill-opacity="0.33" stroke="#5c5c5c" stroke-width="0.9" stroke-opacity="0.61"/>
<circle cx="510.56" cy="681.66" r="1.66" fill="#a8a8a8" fill-opacity="0.33" stroke="#5c5c5c" stroke-width="0.9" stroke-opacity="0.61"/>
<circle cx="554.32" cy="678.4" r="2.3" fill="#a8a8a8" fill-opacity="0.33" stroke="#5c5c5c" stroke-width="0.9" stroke-opacity="0.61"/>
<circle cx="558.98" cy="678.4" r="2.58" fill="#a8a8a8" fill-opacity="0.33" stroke="#5c5c5c" stroke-width="0.9" stroke-opacity="0.61"/>
<circle cx="552.93" cy="684.92" r="2.77" fill="#a8a8a8" fill-opacity="0.33" stroke="#5c5c5c" stroke-width="0.9" stroke-opacity="0.61"/>
<circle cx="556.65" cy="686.32" r="2.3" fill="#a8a8a8" fill-opacity="0.33" stroke="#5c5c5c" stroke-width="0.9" stroke-opacity="0.61"/>
<circle cx="466.05" cy="692.09" r="2.77" fill="#a8a8a8" fill-opacity="0.33" stroke="#5c5c5c" stroke-width="0.9" stroke-opacity="0.61"/>
<circle cx="540.82" cy="697.3" r="3.23" fill="#a8a8a8" fill-opacity="0.33" stroke="#5c5c5c" stroke-width="0.9" stroke-opacity="0.61"/>
<circle cx="483.37" cy="708.2" r="3.5" fill="#a8a8a8" fill-opacity="0.33" stroke="#5c5c5c" stroke-width="0.9" stroke-opacity="0.61"/>
<circle cx="503.58" cy="704.47" r="2.3" fill="#a8a8a8" fill-opacity="0.18" stroke="#5c5c5c" stroke-width="0.9" stroke-opacity="0.33"/>
<circle cx="535.7" cy="710.99" r="3.23" fill="#a8a8a8" fill-opacity="0.33" stroke="#5c5c5c" stroke-width="0.9" stroke-opacity="0.61"/>
<circle cx="548.27" cy="705.87" r="3.69" fill="#a8a8a8" fill-opacity="0.33" stroke="#5c5c5c" stroke-width="0.9" stroke-opacity="0.61"/>
<circle cx="561.31" cy="706.8" r="2.03" fill="#a8a8a8" fill-opacity="0.33" stroke="#5c5c5c" stroke-width="0.9" stroke-opacity="0.61"/>
<circle cx="571.09" cy="709.6" r="2.77" fill="#a8a8a8" fill-opacity="0.33" stroke="#5c5c5c" stroke-width="0.9" stroke-opacity="0.61"/>
<circle cx="568.76" cy="714.25" r="2.58" fill="#a8a8a8" fill-opacity="0.33" stroke="#5c5c5c" stroke-width="0.9" stroke-opacity="0.61"/>
<circle cx="574.81" cy="713.32" r="2.77" fill="#a8a8a8" fill-opacity="0.33" stroke="#5c5c5c" stroke-width="0.9" stroke-opacity="0.61"/>
<circle cx="577.6" cy="716.11" r="2.3" fill="#a8a8a8" fill-opacity="0.33" stroke="#5c5c5c" stroke-width="0.9" stroke-opacity="0.61"/>
<circle cx="574.35" cy="718.91" r="2.3" fill="#a8a8a8" fill-opacity="0.33" stroke="#5c5c5c" stroke-width="0.9" stroke-opacity="0.61"/>
<circle cx="497.99" cy="726.82" r="2.3" fill="#a8a8a8" fill-opacity="0.33" stroke="#5c5c5c" stroke-width="0.9" stroke-opacity="0.61"/>
<circle cx="505.9" cy="730.08" r="2.77" fill="#a8a8a8" fill-opacity="0.33" stroke="#5c5c5c" stroke-width="0.9" stroke-opacity="0.61"/>
<circle cx="510.56" cy="733.81" r="2.58" fill="#a8a8a8" fill-opacity="0.33" stroke="#5c5c5c" stroke-width="0.9" stroke-opacity="0.61"/>
<circle cx="496.78" cy="733.34" r="2.03" fill="#a8a8a8" fill-opacity="0.33" stroke="#5c5c5c" stroke-width="0.9" stroke-opacity="0.61"/>
<circle cx="504.04" cy="735.67" r="2.95" fill="#a8a8a8" fill-opacity="0.33" stroke="#5c5c5c" stroke-width="0.9" stroke-opacity="0.61"/>
<circle cx="498.27" cy="741.72" r="3.23" fill="#a8a8a8" fill-opacity="0.33" stroke="#5c5c5c" stroke-width="0.9" stroke-opacity="0.61"/>
<circle cx="529.18" cy="735.67" r="2.77" fill="#a8a8a8" fill-opacity="0.33" stroke="#5c5c5c" stroke-width="0.9" stroke-opacity="0.61"/>
<circle cx="532.44" cy="740.79" r="2.58" fill="#a8a8a8" fill-opacity="0.18" stroke="#5c5c5c" stroke-width="0.9" stroke-opacity="0.33"/>
<circle cx="526.39" cy="744.98" r="2.95" fill="#a8a8a8" fill-opacity="0.33" stroke="#5c5c5c" stroke-width="0.9" stroke-opacity="0.61"/>
<circle cx="542.22" cy="739.86" r="2.03" fill="#a8a8a8" fill-opacity="0.33" stroke="#5c5c5c" stroke-width="0.9" stroke-opacity="0.61"/>
<circle cx="557.58" cy="738.93" r="2.58" fill="#a8a8a8" fill-opacity="0.33" stroke="#5c5c5c" stroke-width="0.9" stroke-opacity="0.61"/>
<circle cx="561.77" cy="735.67" r="2.58" fill="#a8a8a8" fill-opacity="0.33" stroke="#5c5c5c" stroke-width="0.9" stroke-opacity="0.61"/>
<circle cx="565.96" cy="735.67" r="2.3" fill="#a8a8a8" fill-opacity="0.33" stroke="#5c5c5c" stroke-width="0.9" stroke-opacity="0.61"/>
<circle cx="577.6" cy="743.58" r="2.77" fill="#a8a8a8" fill-opacity="0.18" stroke="#5c5c5c" stroke-width="0.9" stroke-opacity="0.33"/>
<circle cx="540.82" cy="750.57" r="3.23" fill="#a8a8a8" fill-opacity="0.33" stroke="#5c5c5c" stroke-width="0.9" stroke-opacity="0.61"/>
<circle cx="538.03" cy="752.9" r="2.03" fill="#a8a8a8" fill-opacity="0.33" stroke="#5c5c5c" stroke-width="0.9" stroke-opacity="0.61"/>
<circle cx="529.18" cy="755.22" r="3.23" fill="#a8a8a8" fill-opacity="0.33" stroke="#5c5c5c" stroke-width="0.9" stroke-opacity="0.61"/>
<circle cx="491.75" cy="756.16" r="1.66" fill="#a8a8a8" fill-opacity="0.33" stroke="#5c5c5c" stroke-width="0.9" stroke-opacity="0.61"/>
<circle cx="508.7" cy="757.55" r="2.58" fill="#a8a8a8" fill-opacity="0.33" stroke="#5c5c5c" stroke-width="0.9" stroke-opacity="0.61"/>
<circle cx="513.82" cy="757.09" r="1.66" fill="#a8a8a8" fill-opacity="0.33" stroke="#5c5c5c" stroke-width="0.9" stroke-opacity="0.61"/>
<circle cx="518.94" cy="755.97" r="2.03" fill="#a8a8a8" fill-opacity="0.33" stroke="#5c5c5c" stroke-width="0.9" stroke-opacity="0.61"/>
<circle cx="547.81" cy="755.69" r="2.58" fill="#a8a8a8" fill-opacity="0.33" stroke="#5c5c5c" stroke-width="0.9" stroke-opacity="0.61"/>
<circle cx="551.53" cy="753.36" r="2.3" fill="#a8a8a8" fill-opacity="0.33" stroke="#5c5c5c" stroke-width="0.9" stroke-opacity="0.61"/>
<circle cx="570.16" cy="755.22" r="2.3" fill="#a8a8a8" fill-opacity="0.33" stroke="#5c5c5c" stroke-width="0.9" stroke-opacity="0.61"/>
<circle cx="579" cy="754.11" r="2.3" fill="#a8a8a8" fill-opacity="0.33" stroke="#5c5c5c" stroke-width="0.9" stroke-opacity="0.61"/>
<circle cx="465.86" cy="759.41" r="2.58" fill="#a8a8a8" fill-opacity="0.33" stroke="#5c5c5c" stroke-width="0.9" stroke-opacity="0.61"/>
<circle cx="470.05" cy="758.48" r="1.66" fill="#a8a8a8" fill-opacity="0.33" stroke="#5c5c5c" stroke-width="0.9" stroke-opacity="0.61"/>
<circle cx="465.4" cy="764.54" r="2.3" fill="#a8a8a8" fill-opacity="0.33" stroke="#5c5c5c" stroke-width="0.9" stroke-opacity="0.61"/>
<circle cx="522.66" cy="765" r="2.3" fill="#a8a8a8" fill-opacity="0.33" stroke="#5c5c5c" stroke-width="0.9" stroke-opacity="0.61"/>
<circle cx="527.32" cy="767.8" r="2.58" fill="#a8a8a8" fill-opacity="0.33" stroke="#5c5c5c" stroke-width="0.9" stroke-opacity="0.61"/>
<circle cx="531.51" cy="768.26" r="2.58" fill="#a8a8a8" fill-opacity="0.33" stroke="#5c5c5c" stroke-width="0.9" stroke-opacity="0.61"/>
<circle cx="521.73" cy="776.64" r="2.03" fill="#a8a8a8" fill-opacity="0.33" stroke="#5c5c5c" stroke-width="0.9" stroke-opacity="0.61"/>
<circle cx="525.46" cy="779.43" r="2.3" fill="#a8a8a8" fill-opacity="0.33" stroke="#5c5c5c" stroke-width="0.9" stroke-opacity="0.61"/>
<circle cx="582.26" cy="771.05" r="2.58" fill="#a8a8a8" fill-opacity="0.18" stroke="#5c5c5c" stroke-width="0.9" stroke-opacity="0.33"/>
<circle cx="585.99" cy="773.85" r="2.3" fill="#a8a8a8" fill-opacity="0.33" stroke="#5c5c5c" stroke-width="0.9" stroke-opacity="0.61"/>
<circle cx="583.19" cy="777.11" r="2.77" fill="#a8a8a8" fill-opacity="0.33" stroke="#5c5c5c" stroke-width="0.9" stroke-opacity="0.61"/>
<circle cx="590.18" cy="777.11" r="2.3" fill="#a8a8a8" fill-opacity="0.33" stroke="#5c5c5c" stroke-width="0.9" stroke-opacity="0.61"/>
<circle cx="586.92" cy="780.83" r="2.58" fill="#a8a8a8" fill-opacity="0.33" stroke="#5c5c5c" stroke-width="0.9" stroke-opacity="0.61"/>
<circle cx="559.45" cy="782.41" r="2.77" fill="#a8a8a8" fill-opacity="0.33" stroke="#5c5c5c" stroke-width="0.9" stroke-opacity="0.61"/>
<circle cx="571.09" cy="782.23" r="2.77" fill="#a8a8a8" fill-opacity="0.18" stroke="#5c5c5c" stroke-width="0.9" stroke-opacity="0.33"/>
<circle cx="531.98" cy="792.94" r="2.58" fill="#a8a8a8" fill-opacity="0.33" stroke="#5c5c5c" stroke-width="0.9" stroke-opacity="0.61"/>
<circle cx="578.07" cy="797.59" r="2.58" fill="#a8a8a8" fill-opacity="0.33" stroke="#5c5c5c" stroke-width="0.9" stroke-opacity="0.61"/>
</g></g>
<clipPath id="bc23"><rect x="595.8" y="670.3" width="128.6" height="128.6"/></clipPath>
<g clip-path="url(#bc23)"><g filter="url(#bblur)">
<circle cx="607.25" cy="672.35" r="2.58" fill="#a8a8a8" fill-opacity="0.33" stroke="#5c5c5c" stroke-width="0.9" stroke-opacity="0.61"/>
<circle cx="650.09" cy="682.59" r="2.03" fill="#a8a8a8" fill-opacity="0.33" stroke="#5c5c5c" stroke-width="0.9" stroke-opacity="0.61"/>
<circle cx="678.95" cy="679.98" r="2.58" fill="#a8a8a8" fill-opacity="0.18" stroke="#5c5c5c" stroke-width="0.9" stroke-opacity="0.33"/>
<circle cx="623.36" cy="689.3" r="2.95" fill="#a8a8a8" fill-opacity="0.18" stroke="#5c5c5c" stroke-width="0.9" stroke-opacity="0.33"/>
<circle cx="659.4" cy="694.7" r="2.03" fill="#a8a8a8" fill-opacity="0.18" stroke="#5c5c5c" stroke-width="0.9" stroke-opacity="0.33"/>
<circle cx="599.15" cy="700.28" r="2.77" fill="#a8a8a8" fill-opacity="0.33" stroke="#5c5c5c" stroke-width="0.9" stroke-opacity="0.61"/>
<circle cx="675.23" cy="701.22" r="3.23" fill="#a8a8a8" fill-opacity="0.33" stroke="#5c5c5c" stroke-width="0.9" stroke-opacity="0.61"/>
<circle cx="665.45" cy="707.73" r="2.95" fill="#a8a8a8" fill-opacity="0.33" stroke="#5c5c5c" stroke-width="0.9" stroke-opacity="0.61"/>
<circle cx="711.27" cy="717.79" r="2.58" fill="#a8a8a8" fill-opacity="0.33" stroke="#5c5c5c" stroke-width="0.9" stroke-opacity="0.61"/>
<circle cx="632.67" cy="722.63" r="2.58" fill="#a8a8a8" fill-opacity="0.33" stroke="#5c5c5c" stroke-width="0.9" stroke-opacity="0.61"/>
<circle cx="653.35" cy="721.7" r="2.77" fill="#a8a8a8" fill-opacity="0.33" stroke="#5c5c5c" stroke-width="0.9" stroke-opacity="0.61"/>
<circle cx="674.95" cy="722.45" r="3.5" fill="#a8a8a8" fill-opacity="0.33" stroke="#5c5c5c" stroke-width="0.9" stroke-opacity="0.61"/>
<circle cx="658.93" cy="727.1" r="2.77" fill="#a8a8a8" fill-opacity="0.33" stroke="#5c5c5c" stroke-width="0.9" stroke-opacity="0.61"/>
<circle cx="664.06" cy="727.75" r="2.58" fill="#a8a8a8" fill-opacity="0.33" stroke="#5c5c5c" stroke-width="0.9" stroke-opacity="0.61"/>
<circle cx="668.71" cy="731.2" r="3.04" fill="#a8a8a8" fill-opacity="0.33" stroke="#5c5c5c" stroke-width="0.9" stroke-opacity="0.61"/>
<circle cx="635.19" cy="728.69" r="2.58" fill="#a8a8a8" fill-opacity="0.33" stroke="#5c5c5c" stroke-width="0.9" stroke-opacity="0.61"/>
<circle cx="635.19" cy="733.06" r="1.84" fill="#a8a8a8" fill-opacity="0.33" stroke="#5c5c5c" stroke-width="0.9" stroke-opacity="0.61"/>
<circle cx="631.74" cy="740.33" r="2.58" fill="#a8a8a8" fill-opacity="0.33" stroke="#5c5c5c" stroke-width="0.9" stroke-opacity="0.61"/>
<circle cx="635.84" cy="739.86" r="2.3" fill="#a8a8a8" fill-opacity="0.33" stroke="#5c5c5c" stroke-width="0.9" stroke-opacity="0.61"/>
<circle cx="649.16" cy="740.33" r="3.5" fill="#a8a8a8" fill-opacity="0.33" stroke="#5c5c5c" stroke-width="0.9" stroke-opacity="0.61"/>
<circle cx="604.74" cy="746.1" r="3.5" fill="#a8a8a8" fill-opacity="0.33" stroke="#5c5c5c" stroke-width="0.9" stroke-opacity="0.61"/>
<circle cx="599.8" cy="752.43" r="3.5" fill="#a8a8a8" fill-opacity="0.33" stroke="#5c5c5c" stroke-width="0.9" stroke-opacity="0.61"/>
<circle cx="605.39" cy="751.5" r="2.58" fill="#a8a8a8" fill-opacity="0.33" stroke="#5c5c5c" stroke-width="0.9" stroke-opacity="0.61"/>
<circle cx="694.79" cy="744.98" r="2.77" fill="#a8a8a8" fill-opacity="0.33" stroke="#5c5c5c" stroke-width="0.9" stroke-opacity="0.61"/>
<circle cx="625.6" cy="751.5" r="2.77" fill="#a8a8a8" fill-opacity="0.33" stroke="#5c5c5c" stroke-width="0.9" stroke-opacity="0.61"/>
<circle cx="683.33" cy="751.69" r="2.77" fill="#a8a8a8" fill-opacity="0.33" stroke="#5c5c5c" stroke-width="0.9" stroke-opacity="0.61"/>
<circle cx="693.39" cy="751.31" r="2.77" fill="#a8a8a8" fill-opacity="0.33" stroke="#5c5c5c" stroke-width="0.9" stroke-opacity="0.61"/>
<circle cx="698.04" cy="751.96" r="2.58" fill="#a8a8a8" fill-opacity="0.33" stroke="#5c5c5c" stroke-width="0.9" stroke-opacity="0.61"/>
<circle cx="699.72" cy="756.9" r="2.3" fill="#a8a8a8" fill-opacity="0.33" stroke="#5c5c5c" stroke-width="0.9" stroke-opacity="0.61"/>
<circle cx="713.87" cy="752.62" r="3.04" fill="#a8a8a8" fill-opacity="0.33" stroke="#5c5c5c" stroke-width="0.9" stroke-opacity="0.61"/>
<circle cx="671.97" cy="755.22" r="1.84" fill="#a8a8a8" fill-opacity="0.33" stroke="#5c5c5c" stroke-width="0.9" stroke-opacity="0.61"/>
<circle cx="710.15" cy="758.48" r="2.3" fill="#a8a8a8" fill-opacity="0.33" stroke="#5c5c5c" stroke-width="0.9" stroke-opacity="0.61"/>
<circle cx="610.7" cy="758.76" r="2.58" fill="#a8a8a8" fill-opacity="0.33" stroke="#5c5c5c" stroke-width="0.9" stroke-opacity="0.61"/>
<circle cx="631.93" cy="758.48" r="2.95" fill="#a8a8a8" fill-opacity="0.33" stroke="#5c5c5c" stroke-width="0.9" stroke-opacity="0.61"/>
<circle cx="617.78" cy="766.86" r="3.23" fill="#a8a8a8" fill-opacity="0.33" stroke="#5c5c5c" stroke-width="0.9" stroke-opacity="0.61"/>
<circle cx="644.97" cy="766.58" r="2.3" fill="#a8a8a8" fill-opacity="0.33" stroke="#5c5c5c" stroke-width="0.9" stroke-opacity="0.61"/>
<circle cx="685.75" cy="771.8" r="3.5" fill="#a8a8a8" fill-opacity="0.33" stroke="#5c5c5c" stroke-width="0.9" stroke-opacity="0.61"/>
<circle cx="716.48" cy="770.31" r="3.5" fill="#a8a8a8" fill-opacity="0.33" stroke="#5c5c5c" stroke-width="0.9" stroke-opacity="0.61"/>
<circle cx="675.88" cy="782.23" r="2.77" fill="#a8a8a8" fill-opacity="0.33" stroke="#5c5c5c" stroke-width="0.9" stroke-opacity="0.61"/>
<circle cx="637.05" cy="788.93" r="3.5" fill="#a8a8a8" fill-opacity="0.33" stroke="#5c5c5c" stroke-width="0.9" stroke-opacity="0.61"/>
<circle cx="597.48" cy="795.45" r="3.23" fill="#a8a8a8" fill-opacity="0.33" stroke="#5c5c5c" stroke-width="0.9" stroke-opacity="0.61"/>
</g></g>
<rect x="284.8" y="522" width="40" height="1.5" fill="#fff"/>
<text x="304.8" y="519.2" font-size="10.9" font-weight="bold" stroke="#fff" stroke-width="0.25" text-anchor="middle" fill="#fff">100 µm</text>
<rect x="284.8" y="654.6" width="40" height="1.5" fill="#fff"/>
<text x="304.8" y="651.6" font-size="10.9" font-weight="bold" stroke="#fff" stroke-width="0.25" text-anchor="middle" fill="#fff">100 µm</text>
<rect x="284.8" y="785" width="40" height="1.5" fill="#fff"/>
<text x="304.8" y="782.4" font-size="10.9" font-weight="bold" stroke="#fff" stroke-width="0.25" text-anchor="middle" fill="#fff">100 µm</text>
<clipPath id="cc00"><rect x="199.9" y="880" width="129.8" height="128.7"/></clipPath>
<g clip-path="url(#cc00)"><g filter="url(#cblur)">
<circle cx="237.4" cy="913.9" r="6.83" fill="#cd0e0e"/>
<circle cx="236.9" cy="913.71" r="5.25" fill="#000"/>
<circle cx="255.8" cy="914.8" r="7.35" fill="#ae0c0c"/>
<circle cx="256.11" cy="914.99" r="4.89" fill="#000"/>
<circle cx="269.6" cy="919.3" r="6.62" fill="#cd0e0e"/>
<circle cx="269.48" cy="919.8" r="5.09" fill="#000"/>
<circle cx="230.6" cy="927.7" r="6.62" fill="#b80d0d"/>
<circle cx="230.79" cy="927.58" r="5.25" fill="#000"/>
<circle cx="248.3" cy="926" r="7.04" fill="#cd0e0e"/>
<circle cx="247.55" cy="925.25" r="5.11" fill="#000"/>
<circle cx="304.9" cy="919.8" r="5.88" fill="#b80d0d"/>
<circle cx="304.59" cy="919.8" r="4.52" fill="#000"/>
<circle cx="292.4" cy="928.1" r="7.35" fill="#cd0e0e"/>
<circle cx="292.59" cy="928.47" r="5.34" fill="#000"/>
<circle cx="294.7" cy="941.2" r="6.3" fill="#c30d0d"/>
<circle cx="294.33" cy="940.83" r="4.84" fill="#000"/>
<circle cx="296.6" cy="954.9" r="7.04" fill="#cd0e0e"/>
<circle cx="295.85" cy="954.4" r="5.11" fill="#000"/>
<circle cx="252.3" cy="944.9" r="5.35" fill="#620707"/>
<circle cx="215.5" cy="966.3" r="7.35" fill="#cd0e0e"/>
<circle cx="215.62" cy="966.18" r="5.56" fill="#000"/>
<circle cx="233" cy="990.5" r="7.04" fill="#c30d0d"/>
<circle cx="233.75" cy="990.62" r="5.11" fill="#000"/>
<circle cx="218.2" cy="998.9" r="5.88" fill="#b80d0d"/>
<circle cx="218.32" cy="998.71" r="4.45" fill="#000"/>
<circle cx="230" cy="1003.1" r="5.35" fill="#940a0a"/>
<circle cx="220.9" cy="1009.5" r="3.15" fill="#620707"/>
</g></g>
<clipPath id="cc01"><rect x="332.3" y="880" width="128.7" height="128.7"/></clipPath>
<g clip-path="url(#cc01)"><g filter="url(#cblur)">
<circle cx="398.4" cy="893.2" r="6.83" fill="#cd0e0e"/>
<circle cx="398.59" cy="893.39" r="5.08" fill="#000"/>
<circle cx="411.3" cy="897.7" r="7.14" fill="#cd0e0e"/>
<circle cx="411.11" cy="897.7" r="5.49" fill="#000"/>
<circle cx="398.9" cy="926.7" r="7.35" fill="#b80d0d"/>
<circle cx="398.9" cy="926.82" r="6.1" fill="#000"/>
<circle cx="390" cy="939.3" r="6.3" fill="#cd0e0e"/>
<circle cx="390" cy="939.3" r="4.58" fill="#000"/>
<circle cx="406" cy="939.3" r="8.19" fill="#cd0e0e"/>
<circle cx="405.63" cy="939.8" r="6.3" fill="#000"/>
<circle cx="410.3" cy="954.7" r="6.09" fill="#7b0808"/>
<circle cx="410.3" cy="954.7" r="2.76" fill="#000"/>
<circle cx="397.9" cy="950" r="2.1" fill="#420404"/>
<circle cx="440.3" cy="950" r="7.77" fill="#cd0e0e"/>
<circle cx="440.18" cy="950.87" r="5.64" fill="#000"/>
<circle cx="351.1" cy="953" r="8.29" fill="#cd0e0e"/>
<circle cx="351.1" cy="953.19" r="6.58" fill="#000"/>
<circle cx="361.6" cy="969.1" r="6.83" fill="#c30d0d"/>
<circle cx="360.98" cy="969.1" r="5.16" fill="#000"/>
<circle cx="352.3" cy="979.4" r="8.29" fill="#cd0e0e"/>
<circle cx="352.67" cy="979.4" r="6.02" fill="#000"/>
<circle cx="439.3" cy="1009.5" r="2.62" fill="#730808"/>
<circle cx="451.3" cy="1009.5" r="2.62" fill="#730808"/>
</g></g>
<clipPath id="cc02"><rect x="463" y="879" width="129" height="129"/></clipPath>
<g clip-path="url(#cc02)"><g filter="url(#cblur)">
<circle cx="533.8" cy="883.1" r="2.94" fill="#990e0e"/>
<circle cx="510.2" cy="894.6" r="5.04" fill="#e61616"/>
<circle cx="510.2" cy="894.6" r="3.86" fill="#000"/>
<circle cx="523.2" cy="896.9" r="1.78" fill="#800c0c"/>
<circle cx="502.3" cy="902.3" r="5.57" fill="#ff1818"/>
<circle cx="503.9" cy="902.3" r="3.39" fill="#000"/>
<circle cx="517.7" cy="908.1" r="7.35" fill="#ff1818"/>
<circle cx="517.7" cy="908.1" r="5.63" fill="#000"/>
<circle cx="506.5" cy="914.6" r="6.62" fill="#ff1818"/>
<circle cx="506.82" cy="914.28" r="4.29" fill="#000"/>
<circle cx="529.8" cy="914.6" r="6.09" fill="#e61616"/>
<circle cx="529.8" cy="914.36" r="4.76" fill="#000"/>
<circle cx="513.3" cy="926.7" r="5.88" fill="#ff1818"/>
<circle cx="512.9" cy="926.3" r="1.18" fill="#000"/>
<circle cx="525.1" cy="928.1" r="3.89" fill="#bf1212"/>
<circle cx="467.4" cy="945.8" r="5.57" fill="#ff1818"/>
<circle cx="467.4" cy="945.8" r="3.83" fill="#000"/>
<circle cx="469.7" cy="959.3" r="6.41" fill="#ff1818"/>
<circle cx="469.7" cy="959.3" r="4.41" fill="#000"/>
<circle cx="523.2" cy="960.7" r="6.41" fill="#ff1818"/>
<circle cx="523.6" cy="962.3" r="1.92" fill="#000"/>
<circle cx="537.7" cy="958.3" r="6.09" fill="#ff1818"/>
<circle cx="537.7" cy="958.7" r="1.83" fill="#000"/>
<circle cx="548.9" cy="959.7" r="2.1" fill="#800c0c"/>
<circle cx="553.5" cy="971.4" r="7.77" fill="#ff1818"/>
<circle cx="553.5" cy="970.44" r="5.47" fill="#000"/>
<circle cx="578.8" cy="947" r="7.04" fill="#ff1818"/>
<circle cx="578.8" cy="947" r="2.11" fill="#000"/>
</g></g>
<clipPath id="cc03"><rect x="594.3" y="880" width="129" height="128.7"/></clipPath>
<g clip-path="url(#cc03)"><g filter="url(#cblur)">
<circle cx="607.4" cy="910.3" r="6.62" fill="#ff1818"/>
<circle cx="607.4" cy="910.3" r="4.65" fill="#000"/>
<circle cx="619.3" cy="904.2" r="7.67" fill="#ff1818"/>
<circle cx="619.3" cy="903.24" r="5.27" fill="#000"/>
<circle cx="633.2" cy="904.2" r="6.3" fill="#f21717"/>
<circle cx="633.2" cy="904.2" r="4.63" fill="#000"/>
<circle cx="645.8" cy="897.7" r="8.82" fill="#ff1818"/>
<circle cx="644.68" cy="897.38" r="6.07" fill="#000"/>
<circle cx="620.5" cy="919.1" r="6.62" fill="#ff1818"/>
<circle cx="620.5" cy="919.34" r="4.65" fill="#000"/>
<circle cx="646.7" cy="914.9" r="7.04" fill="#ff1818"/>
<circle cx="645.9" cy="915.06" r="4.84" fill="#000"/>
<circle cx="637.6" cy="930.5" r="5.04" fill="#e61616"/>
<circle cx="637.6" cy="930.74" r="3.27" fill="#000"/>
<circle cx="641" cy="948" r="5.67" fill="#ff1818"/>
<circle cx="641" cy="948.64" r="3.46" fill="#000"/>
<circle cx="681.9" cy="976.1" r="7.35" fill="#ff1818"/>
<circle cx="681.9" cy="975.14" r="4.94" fill="#000"/>
<circle cx="669.8" cy="990.8" r="7.35" fill="#ff1818"/>
<circle cx="670.6" cy="990" r="2.21" fill="#000"/>
<circle cx="685.4" cy="993.6" r="7.77" fill="#ff1818"/>
<circle cx="685.4" cy="993.6" r="5.04" fill="#000"/>
<circle cx="697" cy="1001.5" r="5.88" fill="#e61616"/>
<circle cx="697" cy="1001.5" r="4.32" fill="#000"/>
<circle cx="644.9" cy="1002.9" r="6.62" fill="#ff1818"/>
<circle cx="644.9" cy="1001.7" r="2.65" fill="#000"/>
<circle cx="629" cy="911.7" r="2.42" fill="#b21111"/>
</g></g>
<clipPath id="cc10"><rect x="199.9" y="1011.8" width="129.8" height="128.7"/></clipPath>
<g clip-path="url(#cc10)"><g filter="url(#cblur)">
<circle cx="237.4" cy="1045.7" r="6.83" fill="#1ee61e"/>
<circle cx="236.76" cy="1045.46" r="4.8" fill="#000"/>
<circle cx="255.8" cy="1046.6" r="7.35" fill="#1ac41a"/>
<circle cx="256.2" cy="1046.84" r="4.2" fill="#000"/>
<circle cx="269.6" cy="1051.1" r="6.62" fill="#1ee61e"/>
<circle cx="269.44" cy="1051.74" r="4.65" fill="#000"/>
<circle cx="230.6" cy="1059.5" r="6.62" fill="#1bcf1b"/>
<circle cx="230.84" cy="1059.34" r="4.86" fill="#000"/>
<circle cx="248.3" cy="1057.8" r="7.04" fill="#1ee61e"/>
<circle cx="247.34" cy="1056.84" r="4.57" fill="#000"/>
<circle cx="304.9" cy="1051.6" r="5.88" fill="#1bcf1b"/>
<circle cx="304.5" cy="1051.6" r="4.14" fill="#000"/>
<circle cx="292.4" cy="1059.9" r="7.35" fill="#1ee61e"/>
<circle cx="292.64" cy="1060.38" r="4.77" fill="#000"/>
<circle cx="294.7" cy="1073" r="6.3" fill="#1cda1c"/>
<circle cx="294.22" cy="1072.52" r="4.43" fill="#000"/>
<circle cx="296.6" cy="1086.7" r="7.04" fill="#1ee61e"/>
<circle cx="295.64" cy="1086.06" r="4.57" fill="#000"/>
<circle cx="252.3" cy="1076.7" r="5.35" fill="#128a12"/>
<circle cx="215.5" cy="1098.1" r="7.35" fill="#1ee61e"/>
<circle cx="215.66" cy="1097.94" r="5.06" fill="#000"/>
<circle cx="233" cy="1122.3" r="7.04" fill="#1cda1c"/>
<circle cx="233.96" cy="1122.46" r="4.57" fill="#000"/>
<circle cx="218.2" cy="1130.7" r="5.88" fill="#1bcf1b"/>
<circle cx="218.36" cy="1130.46" r="4.05" fill="#000"/>
<circle cx="230" cy="1134.9" r="5.35" fill="#1bcf1b"/>
<circle cx="220.9" cy="1141.3" r="3.15" fill="#128a12"/>
</g></g>
<clipPath id="cc11"><rect x="332.3" y="1011.8" width="128.7" height="128.7"/></clipPath>
<g clip-path="url(#cc11)"><g filter="url(#cblur)">
<circle cx="398.4" cy="1025" r="6.83" fill="#1ee61e"/>
<circle cx="398.64" cy="1025.24" r="4.59" fill="#000"/>
<circle cx="411.3" cy="1029.5" r="7.14" fill="#1ee61e"/>
<circle cx="411.06" cy="1029.5" r="5.02" fill="#000"/>
<circle cx="398.9" cy="1058.5" r="7.35" fill="#1bcf1b"/>
<circle cx="398.9" cy="1058.66" r="5.74" fill="#000"/>
<circle cx="390" cy="1071.1" r="6.3" fill="#1ee61e"/>
<circle cx="390" cy="1071.1" r="4.09" fill="#000"/>
<circle cx="406" cy="1071.1" r="8.19" fill="#1ee61e"/>
<circle cx="405.52" cy="1071.74" r="5.76" fill="#000"/>
<circle cx="410.3" cy="1086.5" r="6.09" fill="#128a12"/>
<circle cx="410.3" cy="1086.5" r="1.83" fill="#000"/>
<circle cx="397.9" cy="1081.8" r="2.1" fill="#0c5c0c"/>
<circle cx="440.3" cy="1081.8" r="7.77" fill="#1ee61e"/>
<circle cx="440.14" cy="1082.92" r="5.04" fill="#000"/>
<circle cx="351.1" cy="1084.8" r="8.29" fill="#1ee61e"/>
<circle cx="351.1" cy="1085.04" r="6.1" fill="#000"/>
<circle cx="361.6" cy="1100.9" r="6.83" fill="#1cda1c"/>
<circle cx="360.8" cy="1100.9" r="4.7" fill="#000"/>
<circle cx="352.3" cy="1111.2" r="8.29" fill="#1ee61e"/>
<circle cx="352.78" cy="1111.2" r="5.38" fill="#000"/>
<circle cx="439.3" cy="1141.3" r="2.62" fill="#15a115"/>
<circle cx="451.3" cy="1141.3" r="2.62" fill="#15a115"/>
</g></g>
<clipPath id="cc12"><rect x="463" y="1011.8" width="129" height="128.7"/></clipPath>
<g clip-path="url(#cc12)"><g filter="url(#cblur)">
<circle cx="533.8" cy="1015.9" r="2.94" fill="#128a12"/>
<circle cx="510.2" cy="1027.4" r="5.04" fill="#1bcf1b"/>
<circle cx="510.2" cy="1027.4" r="3.86" fill="#000"/>
<circle cx="523.2" cy="1029.7" r="1.78" fill="#0f730f"/>
<circle cx="502.3" cy="1035.1" r="5.57" fill="#1ee61e"/>
<circle cx="503.9" cy="1035.1" r="3.39" fill="#000"/>
<circle cx="517.7" cy="1040.9" r="7.35" fill="#1ee61e"/>
<circle cx="517.7" cy="1040.9" r="5.63" fill="#000"/>
<circle cx="506.5" cy="1047.4" r="6.62" fill="#1ee61e"/>
<circle cx="506.82" cy="1047.08" r="4.29" fill="#000"/>
<circle cx="529.8" cy="1047.4" r="6.09" fill="#1bcf1b"/>
<circle cx="529.8" cy="1047.16" r="4.76" fill="#000"/>
<circle cx="513.3" cy="1059.5" r="5.88" fill="#1ee61e"/>
<circle cx="512.9" cy="1059.1" r="1.18" fill="#000"/>
<circle cx="525.1" cy="1060.9" r="3.89" fill="#16ac16"/>
<circle cx="467.4" cy="1078.6" r="5.57" fill="#1ee61e"/>
<circle cx="467.4" cy="1078.6" r="3.83" fill="#000"/>
<circle cx="469.7" cy="1092.1" r="6.41" fill="#1ee61e"/>
<circle cx="469.7" cy="1092.1" r="4.41" fill="#000"/>
<circle cx="523.2" cy="1093.5" r="6.41" fill="#1ee61e"/>
<circle cx="523.6" cy="1095.1" r="1.92" fill="#000"/>
<circle cx="537.7" cy="1091.1" r="6.09" fill="#1ee61e"/>
<circle cx="537.7" cy="1091.5" r="1.83" fill="#000"/>
<circle cx="548.9" cy="1092.5" r="2.1" fill="#0f730f"/>
<circle cx="553.5" cy="1104.2" r="7.77" fill="#1ee61e"/>
<circle cx="553.5" cy="1103.24" r="5.47" fill="#000"/>
<circle cx="578.8" cy="1079.8" r="7.04" fill="#1ee61e"/>
<circle cx="578.8" cy="1079.8" r="2.11" fill="#000"/>
</g></g>
<clipPath id="cc13"><rect x="594.3" y="1011.8" width="129" height="128.7"/></clipPath>
<g clip-path="url(#cc13)"><g filter="url(#cblur)">
<circle cx="607.4" cy="1042.1" r="6.62" fill="#1ee61e"/>
<circle cx="607.4" cy="1042.1" r="4.65" fill="#000"/>
<circle cx="619.3" cy="1036" r="7.67" fill="#1ee61e"/>
<circle cx="619.3" cy="1035.04" r="5.27" fill="#000"/>
<circle cx="633.2" cy="1036" r="6.3" fill="#1cda1c"/>
<circle cx="633.2" cy="1036" r="4.63" fill="#000"/>
<circle cx="645.8" cy="1029.5" r="8.82" fill="#1ee61e"/>
<circle cx="644.68" cy="1029.18" r="6.07" fill="#000"/>
<circle cx="620.5" cy="1050.9" r="6.62" fill="#1ee61e"/>
<circle cx="620.5" cy="1051.14" r="4.65" fill="#000"/>
<circle cx="646.7" cy="1046.7" r="7.04" fill="#1ee61e"/>
<circle cx="645.9" cy="1046.86" r="4.84" fill="#000"/>
<circle cx="637.6" cy="1062.3" r="5.04" fill="#1bcf1b"/>
<circle cx="637.6" cy="1062.54" r="3.27" fill="#000"/>
<circle cx="641" cy="1079.8" r="5.67" fill="#1ee61e"/>
<circle cx="641" cy="1080.44" r="3.46" fill="#000"/>
<circle cx="681.9" cy="1107.9" r="7.35" fill="#1ee61e"/>
<circle cx="681.9" cy="1106.94" r="4.94" fill="#000"/>
<circle cx="669.8" cy="1122.6" r="7.35" fill="#1ee61e"/>
<circle cx="670.6" cy="1121.8" r="2.21" fill="#000"/>
<circle cx="685.4" cy="1125.4" r="7.77" fill="#1ee61e"/>
<circle cx="685.4" cy="1125.4" r="5.04" fill="#000"/>
<circle cx="697" cy="1133.3" r="5.88" fill="#1bcf1b"/>
<circle cx="697" cy="1133.3" r="4.32" fill="#000"/>
<circle cx="644.9" cy="1134.7" r="6.62" fill="#1ee61e"/>
<circle cx="644.9" cy="1133.5" r="2.65" fill="#000"/>
<circle cx="629" cy="1043.5" r="2.42" fill="#15a115"/>
</g></g>
<clipPath id="cc20"><rect x="199.9" y="1143.9" width="129.8" height="128.4"/></clipPath>
<g clip-path="url(#cc20)"><g filter="url(#cblur)">
<circle cx="237.4" cy="1177.8" r="6.83" fill="#3ce11e"/>
<circle cx="236.76" cy="1177.56" r="4.8" fill="#000"/>
<circle cx="255.8" cy="1178.7" r="7.35" fill="#33bf1a"/>
<circle cx="256.2" cy="1178.94" r="4.2" fill="#000"/>
<circle cx="269.6" cy="1183.2" r="6.62" fill="#3ce11e"/>
<circle cx="269.44" cy="1183.84" r="4.65" fill="#000"/>
<circle cx="230.6" cy="1191.6" r="6.62" fill="#36ca1b"/>
<circle cx="230.84" cy="1191.44" r="4.86" fill="#000"/>
<circle cx="248.3" cy="1189.9" r="7.04" fill="#3ce11e"/>
<circle cx="247.34" cy="1188.94" r="4.57" fill="#000"/>
<circle cx="304.9" cy="1183.7" r="5.88" fill="#36ca1b"/>
<circle cx="304.5" cy="1183.7" r="4.14" fill="#000"/>
<circle cx="292.4" cy="1192" r="7.35" fill="#3ce11e"/>
<circle cx="292.64" cy="1192.48" r="4.77" fill="#000"/>
<circle cx="294.7" cy="1205.1" r="6.3" fill="#39d61c"/>
<circle cx="294.22" cy="1204.62" r="4.43" fill="#000"/>
<circle cx="296.6" cy="1218.8" r="7.04" fill="#3ce11e"/>
<circle cx="295.64" cy="1218.16" r="4.57" fill="#000"/>
<circle cx="252.3" cy="1208.8" r="5.35" fill="#248712"/>
<circle cx="252.3" cy="1208.8" r="2.55" fill="#d8d020" fill-opacity="0.7"/>
<circle cx="215.5" cy="1230.2" r="7.35" fill="#3ce11e"/>
<circle cx="215.66" cy="1230.04" r="5.06" fill="#000"/>
<circle cx="233" cy="1254.4" r="7.04" fill="#39d61c"/>
<circle cx="233.96" cy="1254.56" r="4.57" fill="#000"/>
<circle cx="218.2" cy="1262.8" r="5.88" fill="#36ca1b"/>
<circle cx="218.36" cy="1262.56" r="4.05" fill="#000"/>
<circle cx="230" cy="1267" r="5.35" fill="#36ca1b"/>
<circle cx="230" cy="1267" r="2.55" fill="#d8d020" fill-opacity="0.7"/>
<circle cx="220.9" cy="1273.4" r="3.15" fill="#248712"/>
</g></g>
<clipPath id="cc21"><rect x="332.3" y="1143.9" width="128.7" height="128.4"/></clipPath>
<g clip-path="url(#cc21)"><g filter="url(#cblur)">
<circle cx="398.4" cy="1157.1" r="6.83" fill="#46e11e"/>
<circle cx="398.64" cy="1157.34" r="4.59" fill="#000"/>
<circle cx="411.3" cy="1161.6" r="7.14" fill="#46e11e"/>
<circle cx="411.06" cy="1161.6" r="5.02" fill="#000"/>
<circle cx="398.9" cy="1190.6" r="7.35" fill="#3fca1b"/>
<circle cx="398.9" cy="1190.76" r="5.74" fill="#000"/>
<circle cx="390" cy="1203.2" r="6.3" fill="#46e11e"/>
<circle cx="390" cy="1203.2" r="4.09" fill="#000"/>
<circle cx="406" cy="1203.2" r="8.19" fill="#46e11e"/>
<circle cx="405.52" cy="1203.84" r="5.76" fill="#000"/>
<circle cx="410.3" cy="1218.6" r="6.09" fill="#2a8712"/>
<circle cx="410.3" cy="1218.6" r="1.83" fill="#000"/>
<circle cx="397.9" cy="1213.9" r="2.1" fill="#1c5a0c"/>
<circle cx="440.3" cy="1213.9" r="7.77" fill="#46e11e"/>
<circle cx="440.14" cy="1215.02" r="5.04" fill="#000"/>
<circle cx="351.1" cy="1216.9" r="8.29" fill="#46e11e"/>
<circle cx="351.1" cy="1217.14" r="6.1" fill="#000"/>
<circle cx="361.6" cy="1233" r="6.83" fill="#42d61c"/>
<circle cx="360.8" cy="1233" r="4.7" fill="#000"/>
<circle cx="352.3" cy="1243.3" r="8.29" fill="#46e11e"/>
<circle cx="352.78" cy="1243.3" r="5.38" fill="#000"/>
<circle cx="439.3" cy="1273.4" r="2.62" fill="#319e15"/>
<circle cx="451.3" cy="1273.4" r="2.62" fill="#319e15"/>
</g></g>
<clipPath id="cc22"><rect x="463" y="1143.9" width="129" height="128.4"/></clipPath>
<g clip-path="url(#cc22)"><g filter="url(#cblur)">
<circle cx="533.8" cy="1148" r="2.94" fill="#997800"/>
<circle cx="510.2" cy="1159.5" r="5.04" fill="#e6b400"/>
<circle cx="510.2" cy="1159.5" r="3.86" fill="#000"/>
<circle cx="510.2" cy="1159.5" r="3.76" fill="none" stroke="#e65100" stroke-width="1" stroke-opacity="0.6"/>
<circle cx="523.2" cy="1161.8" r="1.78" fill="#806400"/>
<circle cx="502.3" cy="1167.2" r="5.57" fill="#ffc800"/>
<circle cx="503.9" cy="1167.2" r="3.39" fill="#000"/>
<circle cx="504.3" cy="1167.2" r="3.05" fill="none" stroke="#ff5a00" stroke-width="1" stroke-opacity="0.6"/>
<circle cx="517.7" cy="1173" r="7.35" fill="#ffc800"/>
<circle cx="517.7" cy="1173" r="5.63" fill="#000"/>
<circle cx="517.7" cy="1173" r="5.3" fill="none" stroke="#ff5a00" stroke-width="1" stroke-opacity="0.6"/>
<circle cx="506.5" cy="1179.5" r="6.62" fill="#ffc800"/>
<circle cx="506.82" cy="1179.18" r="4.29" fill="#000"/>
<circle cx="506.9" cy="1179.1" r="3.87" fill="none" stroke="#ff5a00" stroke-width="1" stroke-opacity="0.6"/>
<circle cx="529.8" cy="1179.5" r="6.09" fill="#e6b400"/>
<circle cx="529.8" cy="1179.26" r="4.76" fill="#000"/>
<circle cx="529.8" cy="1179.2" r="4.58" fill="none" stroke="#e65100" stroke-width="1" stroke-opacity="0.6"/>
<circle cx="513.3" cy="1191.6" r="5.88" fill="#ffc800"/>
<circle cx="512.9" cy="1191.2" r="1.18" fill="#000"/>
<circle cx="512.8" cy="1191.1" r="1.52" fill="none" stroke="#ff5a00" stroke-width="1" stroke-opacity="0.6"/>
<circle cx="525.1" cy="1193" r="3.89" fill="#bf9600"/>
<circle cx="467.4" cy="1210.7" r="5.57" fill="#ffc800"/>
<circle cx="467.4" cy="1210.7" r="3.83" fill="#000"/>
<circle cx="467.4" cy="1210.7" r="3.58" fill="none" stroke="#ff5a00" stroke-width="1" stroke-opacity="0.6"/>
<circle cx="469.7" cy="1224.2" r="6.41" fill="#ffc800"/>
<circle cx="469.7" cy="1224.2" r="4.41" fill="#000"/>
<circle cx="469.7" cy="1224.2" r="4.06" fill="none" stroke="#ff5a00" stroke-width="1" stroke-opacity="0.6"/>
<circle cx="523.2" cy="1225.6" r="6.41" fill="#ffc800"/>
<circle cx="523.6" cy="1227.2" r="1.92" fill="#000"/>
<circle cx="523.7" cy="1227.6" r="2.23" fill="none" stroke="#ff5a00" stroke-width="1" stroke-opacity="0.6"/>
<circle cx="537.7" cy="1223.2" r="6.09" fill="#ffc800"/>
<circle cx="537.7" cy="1223.6" r="1.83" fill="#000"/>
<circle cx="537.7" cy="1223.7" r="2.14" fill="none" stroke="#ff5a00" stroke-width="1" stroke-opacity="0.6"/>
<circle cx="548.9" cy="1224.6" r="2.1" fill="#806400"/>
<circle cx="553.5" cy="1236.3" r="7.77" fill="#ffc800"/>
<circle cx="553.5" cy="1235.34" r="5.47" fill="#000"/>
<circle cx="553.5" cy="1235.1" r="4.99" fill="none" stroke="#ff5a00" stroke-width="1" stroke-opacity="0.6"/>
<circle cx="578.8" cy="1211.9" r="7.04" fill="#ffc800"/>
<circle cx="578.8" cy="1211.9" r="2.11" fill="#000"/>
<circle cx="578.8" cy="1211.9" r="2.41" fill="none" stroke="#ff5a00" stroke-width="1" stroke-opacity="0.6"/>
</g></g>
<clipPath id="cc23"><rect x="594.3" y="1143.9" width="129" height="128.4"/></clipPath>
<g clip-path="url(#cc23)"><g filter="url(#cblur)">
<circle cx="607.4" cy="1174.2" r="6.62" fill="#ffa500"/>
<circle cx="607.4" cy="1174.2" r="4.65" fill="#000"/>
<circle cx="607.4" cy="1174.2" r="4.31" fill="none" stroke="#ff5000" stroke-width="1" stroke-opacity="0.6"/>
<circle cx="619.3" cy="1168.1" r="7.67" fill="#ffa500"/>
<circle cx="619.3" cy="1167.14" r="5.27" fill="#000"/>
<circle cx="619.3" cy="1166.9" r="4.78" fill="none" stroke="#ff5000" stroke-width="1" stroke-opacity="0.6"/>
<circle cx="633.2" cy="1168.1" r="6.3" fill="#f29d00"/>
<circle cx="633.2" cy="1168.1" r="4.63" fill="#000"/>
<circle cx="633.2" cy="1168.1" r="4.36" fill="none" stroke="#f24c00" stroke-width="1" stroke-opacity="0.6"/>
<circle cx="645.8" cy="1161.6" r="8.82" fill="#ffa500"/>
<circle cx="644.68" cy="1161.28" r="6.07" fill="#000"/>
<circle cx="644.4" cy="1161.2" r="5.44" fill="none" stroke="#ff5000" stroke-width="1" stroke-opacity="0.6"/>
<circle cx="620.5" cy="1183" r="6.62" fill="#ffa500"/>
<circle cx="620.5" cy="1183.24" r="4.65" fill="#000"/>
<circle cx="620.5" cy="1183.3" r="4.31" fill="none" stroke="#ff5000" stroke-width="1" stroke-opacity="0.6"/>
<circle cx="646.7" cy="1178.8" r="7.04" fill="#ffa500"/>
<circle cx="645.9" cy="1178.96" r="4.84" fill="#000"/>
<circle cx="645.7" cy="1179" r="4.42" fill="none" stroke="#ff5000" stroke-width="1" stroke-opacity="0.6"/>
<circle cx="637.6" cy="1194.4" r="5.04" fill="#e69400"/>
<circle cx="637.6" cy="1194.64" r="3.27" fill="#000"/>
<circle cx="637.6" cy="1194.7" r="3.04" fill="none" stroke="#e64800" stroke-width="1" stroke-opacity="0.6"/>
<circle cx="641" cy="1211.9" r="5.67" fill="#ffa500"/>
<circle cx="641" cy="1212.54" r="3.46" fill="#000"/>
<circle cx="641" cy="1212.7" r="3.1" fill="none" stroke="#ff5000" stroke-width="1" stroke-opacity="0.6"/>
<circle cx="681.9" cy="1240" r="7.35" fill="#ffa500"/>
<circle cx="681.9" cy="1239.04" r="4.94" fill="#000"/>
<circle cx="681.9" cy="1238.8" r="4.46" fill="none" stroke="#ff5000" stroke-width="1" stroke-opacity="0.6"/>
<circle cx="669.8" cy="1254.7" r="7.35" fill="#ffa500"/>
<circle cx="670.6" cy="1253.9" r="2.21" fill="#000"/>
<circle cx="670.8" cy="1253.7" r="2.5" fill="none" stroke="#ff5000" stroke-width="1" stroke-opacity="0.6"/>
<circle cx="685.4" cy="1257.5" r="7.77" fill="#ffa500"/>
<circle cx="685.4" cy="1257.5" r="5.04" fill="#000"/>
<circle cx="685.4" cy="1257.5" r="4.47" fill="none" stroke="#ff5000" stroke-width="1" stroke-opacity="0.6"/>
<circle cx="697" cy="1265.4" r="5.88" fill="#e69400"/>
<circle cx="697" cy="1265.4" r="4.32" fill="#000"/>
<circle cx="697" cy="1265.4" r="4.1" fill="none" stroke="#e64800" stroke-width="1" stroke-opacity="0.6"/>
<circle cx="644.9" cy="1266.8" r="6.62" fill="#ffa500"/>
<circle cx="644.9" cy="1265.6" r="2.65" fill="#000"/>
<circle cx="644.9" cy="1265.3" r="2.92" fill="none" stroke="#ff5000" stroke-width="1" stroke-opacity="0.6"/>
<circle cx="629" cy="1175.6" r="2.42" fill="#b27300"/>
</g></g>
<rect x="290.7" y="995.9" width="25.2" height="1.6" fill="#fff"/>
<text x="303.3" y="993.9" font-size="7.6" font-weight="bold" stroke="#fff" stroke-width="0.25" text-anchor="middle" fill="#fff">25 µm</text>
<rect x="422.9" y="995.9" width="25.2" height="1.6" fill="#fff"/>
<text x="435.5" y="993.9" font-size="7.6" font-weight="bold" stroke="#fff" stroke-width="0.25" text-anchor="middle" fill="#fff">25 µm</text>
<rect x="553.4" y="995.1" width="25.2" height="1.6" fill="#fff"/>
<text x="566" y="993.1" font-size="7.6" font-weight="bold" stroke="#fff" stroke-width="0.25" text-anchor="middle" fill="#fff">25 µm</text>
<rect x="684.4" y="995.9" width="25.2" height="1.6" fill="#fff"/>
<text x="697" y="993.9" font-size="7.6" font-weight="bold" stroke="#fff" stroke-width="0.25" text-anchor="middle" fill="#fff">25 µm</text>
<clipPath id="cc30"><rect x="199.9" y="1275" width="129.8" height="128.7"/></clipPath>
<g clip-path="url(#cc30)"><g filter="url(#cblur2)">
<circle cx="237.4" cy="1308.9" r="7.8" fill="#a0a0a0" fill-opacity="0.45" stroke="#565656" stroke-opacity="0.75" stroke-width="1.1"/>
<circle cx="237.4" cy="1308.9" r="8.8" fill="none" stroke="#b8b8b8" stroke-opacity="0.45" stroke-width="0.9"/>
<circle cx="237.8" cy="1308.6" r="3.12" fill="#767676" fill-opacity="0.35"/>
<circle cx="255.8" cy="1309.8" r="8.4" fill="#a0a0a0" fill-opacity="0.45" stroke="#565656" stroke-opacity="0.75" stroke-width="1.1"/>
<circle cx="255.8" cy="1309.8" r="9.4" fill="none" stroke="#b8b8b8" stroke-opacity="0.45" stroke-width="0.9"/>
<circle cx="256.2" cy="1309.5" r="3.36" fill="#767676" fill-opacity="0.35"/>
<circle cx="269.6" cy="1314.3" r="7.56" fill="#a0a0a0" fill-opacity="0.45" stroke="#565656" stroke-opacity="0.75" stroke-width="1.1"/>
<circle cx="269.6" cy="1314.3" r="8.56" fill="none" stroke="#b8b8b8" stroke-opacity="0.45" stroke-width="0.9"/>
<circle cx="270" cy="1314" r="3.02" fill="#767676" fill-opacity="0.35"/>
<circle cx="230.6" cy="1322.7" r="7.56" fill="#a0a0a0" fill-opacity="0.45" stroke="#565656" stroke-opacity="0.75" stroke-width="1.1"/>
<circle cx="230.6" cy="1322.7" r="8.56" fill="none" stroke="#b8b8b8" stroke-opacity="0.45" stroke-width="0.9"/>
<circle cx="231" cy="1322.4" r="3.02" fill="#767676" fill-opacity="0.35"/>
<circle cx="248.3" cy="1321" r="8.04" fill="#a0a0a0" fill-opacity="0.45" stroke="#565656" stroke-opacity="0.75" stroke-width="1.1"/>
<circle cx="248.3" cy="1321" r="9.04" fill="none" stroke="#b8b8b8" stroke-opacity="0.45" stroke-width="0.9"/>
<circle cx="248.7" cy="1320.7" r="3.22" fill="#767676" fill-opacity="0.35"/>
<circle cx="304.9" cy="1314.8" r="6.72" fill="#a0a0a0" fill-opacity="0.45" stroke="#565656" stroke-opacity="0.75" stroke-width="1.1"/>
<circle cx="304.9" cy="1314.8" r="7.72" fill="none" stroke="#b8b8b8" stroke-opacity="0.45" stroke-width="0.9"/>
<circle cx="305.3" cy="1314.5" r="2.69" fill="#767676" fill-opacity="0.35"/>
<circle cx="292.4" cy="1323.1" r="8.4" fill="#a0a0a0" fill-opacity="0.45" stroke="#565656" stroke-opacity="0.75" stroke-width="1.1"/>
<circle cx="292.4" cy="1323.1" r="9.4" fill="none" stroke="#b8b8b8" stroke-opacity="0.45" stroke-width="0.9"/>
<circle cx="292.8" cy="1322.8" r="3.36" fill="#767676" fill-opacity="0.35"/>
<circle cx="294.7" cy="1336.2" r="7.2" fill="#a0a0a0" fill-opacity="0.45" stroke="#565656" stroke-opacity="0.75" stroke-width="1.1"/>
<circle cx="294.7" cy="1336.2" r="8.2" fill="none" stroke="#b8b8b8" stroke-opacity="0.45" stroke-width="0.9"/>
<circle cx="295.1" cy="1335.9" r="2.88" fill="#767676" fill-opacity="0.35"/>
<circle cx="296.6" cy="1349.9" r="8.04" fill="#a0a0a0" fill-opacity="0.45" stroke="#565656" stroke-opacity="0.75" stroke-width="1.1"/>
<circle cx="296.6" cy="1349.9" r="9.04" fill="none" stroke="#b8b8b8" stroke-opacity="0.45" stroke-width="0.9"/>
<circle cx="297" cy="1349.6" r="3.22" fill="#767676" fill-opacity="0.35"/>
<circle cx="252.3" cy="1339.9" r="6.12" fill="#a0a0a0" fill-opacity="0.45" stroke="#565656" stroke-opacity="0.75" stroke-width="1.1"/>
<circle cx="252.3" cy="1339.9" r="7.12" fill="none" stroke="#b8b8b8" stroke-opacity="0.45" stroke-width="0.9"/>
<circle cx="252.7" cy="1339.6" r="2.45" fill="#767676" fill-opacity="0.35"/>
<circle cx="215.5" cy="1361.3" r="8.4" fill="#a0a0a0" fill-opacity="0.45" stroke="#565656" stroke-opacity="0.75" stroke-width="1.1"/>
<circle cx="215.5" cy="1361.3" r="9.4" fill="none" stroke="#b8b8b8" stroke-opacity="0.45" stroke-width="0.9"/>
<circle cx="215.9" cy="1361" r="3.36" fill="#767676" fill-opacity="0.35"/>
<circle cx="233" cy="1385.5" r="8.04" fill="#a0a0a0" fill-opacity="0.45" stroke="#565656" stroke-opacity="0.75" stroke-width="1.1"/>
<circle cx="233" cy="1385.5" r="9.04" fill="none" stroke="#b8b8b8" stroke-opacity="0.45" stroke-width="0.9"/>
<circle cx="233.4" cy="1385.2" r="3.22" fill="#767676" fill-opacity="0.35"/>
<circle cx="218.2" cy="1393.9" r="6.72" fill="#a0a0a0" fill-opacity="0.45" stroke="#565656" stroke-opacity="0.75" stroke-width="1.1"/>
<circle cx="218.2" cy="1393.9" r="7.72" fill="none" stroke="#b8b8b8" stroke-opacity="0.45" stroke-width="0.9"/>
<circle cx="218.6" cy="1393.6" r="2.69" fill="#767676" fill-opacity="0.35"/>
<circle cx="230" cy="1398.1" r="6.12" fill="#a0a0a0" fill-opacity="0.45" stroke="#565656" stroke-opacity="0.75" stroke-width="1.1"/>
<circle cx="230" cy="1398.1" r="7.12" fill="none" stroke="#b8b8b8" stroke-opacity="0.45" stroke-width="0.9"/>
<circle cx="230.4" cy="1397.8" r="2.45" fill="#767676" fill-opacity="0.35"/>
<circle cx="220.9" cy="1404.5" r="3.6" fill="#a0a0a0" fill-opacity="0.45" stroke="#565656" stroke-opacity="0.75" stroke-width="1.1"/>
<circle cx="220.9" cy="1404.5" r="4.6" fill="none" stroke="#b8b8b8" stroke-opacity="0.45" stroke-width="0.9"/>
<circle cx="221.3" cy="1404.2" r="1.44" fill="#767676" fill-opacity="0.35"/>
</g></g>
<clipPath id="cc31"><rect x="332.3" y="1275" width="128.7" height="128.7"/></clipPath>
<g clip-path="url(#cc31)"><g filter="url(#cblur2)">
<circle cx="398.4" cy="1288.2" r="7.8" fill="#9c9c9c" fill-opacity="0.6" stroke="#404040" stroke-opacity="0.9" stroke-width="1.4"/>
<circle cx="397.9" cy="1287.7" r="3.51" fill="#b8b8b8" fill-opacity="0.5"/>
<circle cx="411.3" cy="1292.7" r="8.16" fill="#9c9c9c" fill-opacity="0.6" stroke="#404040" stroke-opacity="0.9" stroke-width="1.4"/>
<circle cx="410.8" cy="1292.2" r="3.67" fill="#b8b8b8" fill-opacity="0.5"/>
<circle cx="398.9" cy="1321.7" r="8.4" fill="#9c9c9c" fill-opacity="0.6" stroke="#404040" stroke-opacity="0.9" stroke-width="1.4"/>
<circle cx="398.4" cy="1321.2" r="3.78" fill="#b8b8b8" fill-opacity="0.5"/>
<circle cx="390" cy="1334.3" r="7.2" fill="#9c9c9c" fill-opacity="0.6" stroke="#404040" stroke-opacity="0.9" stroke-width="1.4"/>
<circle cx="389.5" cy="1333.8" r="3.24" fill="#b8b8b8" fill-opacity="0.5"/>
<circle cx="406" cy="1334.3" r="9.36" fill="#9c9c9c" fill-opacity="0.6" stroke="#404040" stroke-opacity="0.9" stroke-width="1.4"/>
<circle cx="405.5" cy="1333.8" r="4.21" fill="#b8b8b8" fill-opacity="0.5"/>
<circle cx="410.3" cy="1349.7" r="6.96" fill="#a0a0a0" fill-opacity="0.45" stroke="#565656" stroke-opacity="0.75" stroke-width="1.1"/>
<circle cx="410.3" cy="1349.7" r="7.96" fill="none" stroke="#b8b8b8" stroke-opacity="0.45" stroke-width="0.9"/>
<circle cx="410.7" cy="1349.4" r="2.78" fill="#767676" fill-opacity="0.35"/>
<circle cx="440.3" cy="1345" r="8.88" fill="#9c9c9c" fill-opacity="0.6" stroke="#404040" stroke-opacity="0.9" stroke-width="1.4"/>
<circle cx="439.8" cy="1344.5" r="4" fill="#b8b8b8" fill-opacity="0.5"/>
<circle cx="351.1" cy="1348" r="9.48" fill="#9c9c9c" fill-opacity="0.6" stroke="#404040" stroke-opacity="0.9" stroke-width="1.4"/>
<circle cx="350.6" cy="1347.5" r="4.27" fill="#b8b8b8" fill-opacity="0.5"/>
<circle cx="361.6" cy="1364.1" r="7.8" fill="#9c9c9c" fill-opacity="0.6" stroke="#404040" stroke-opacity="0.9" stroke-width="1.4"/>
<circle cx="361.1" cy="1363.6" r="3.51" fill="#b8b8b8" fill-opacity="0.5"/>
<circle cx="352.3" cy="1374.4" r="9.48" fill="#9c9c9c" fill-opacity="0.6" stroke="#404040" stroke-opacity="0.9" stroke-width="1.4"/>
<circle cx="351.8" cy="1373.9" r="4.27" fill="#b8b8b8" fill-opacity="0.5"/>
</g></g>
<clipPath id="cc32"><rect x="463" y="1275" width="129" height="128.7"/></clipPath>
<g clip-path="url(#cc32)"><g filter="url(#cblur2)">
<circle cx="498.25" cy="1290.61" r="7.45" fill="#9c9c9c" fill-opacity="0.6" stroke="#404040" stroke-opacity="0.9" stroke-width="1.4"/>
<circle cx="497.75" cy="1290.11" r="3.35" fill="#b8b8b8" fill-opacity="0.5"/>
<circle cx="509.08" cy="1285.87" r="6.77" fill="#a4a4a4" fill-opacity="0.85" stroke="#2c2c2c" stroke-opacity="0.95" stroke-width="1.8"/>
<circle cx="507.19" cy="1287.61" r="2.3" fill="#d2d2d2" fill-opacity="0.7"/>
<circle cx="508.54" cy="1283.35" r="1.63" fill="#666666" fill-opacity="0.7"/>
<circle cx="511.53" cy="1286.67" r="2.3" fill="#c6c6c6" fill-opacity="0.7"/>
<circle cx="527.37" cy="1287.22" r="8.13" fill="#a4a4a4" fill-opacity="0.85" stroke="#2c2c2c" stroke-opacity="0.95" stroke-width="1.8"/>
<circle cx="527.64" cy="1284.15" r="2.76" fill="#d2d2d2" fill-opacity="0.7"/>
<circle cx="529.89" cy="1289.01" r="1.95" fill="#666666" fill-opacity="0.7"/>
<circle cx="524.55" cy="1288.49" r="2.76" fill="#c6c6c6" fill-opacity="0.7"/>
<circle cx="542.27" cy="1282.48" r="6.77" fill="#a4a4a4" fill-opacity="0.85" stroke="#2c2c2c" stroke-opacity="0.95" stroke-width="1.8"/>
<circle cx="543.83" cy="1284.52" r="2.3" fill="#d2d2d2" fill-opacity="0.7"/>
<circle cx="539.71" cy="1282.8" r="1.63" fill="#666666" fill-opacity="0.7"/>
<circle cx="543.28" cy="1280.12" r="2.3" fill="#c6c6c6" fill-opacity="0.7"/>
<circle cx="505.7" cy="1300.09" r="6.77" fill="#a4a4a4" fill-opacity="0.85" stroke="#2c2c2c" stroke-opacity="0.95" stroke-width="1.8"/>
<circle cx="503.16" cy="1299.64" r="2.3" fill="#d2d2d2" fill-opacity="0.7"/>
<circle cx="507.36" cy="1298.13" r="1.63" fill="#666666" fill-opacity="0.7"/>
<circle cx="506.55" cy="1302.52" r="2.3" fill="#c6c6c6" fill-opacity="0.7"/>
<circle cx="519.24" cy="1298.73" r="6.77" fill="#a4a4a4" fill-opacity="0.85" stroke="#2c2c2c" stroke-opacity="0.95" stroke-width="1.8"/>
<circle cx="521.41" cy="1297.35" r="2.3" fill="#d2d2d2" fill-opacity="0.7"/>
<circle cx="519.34" cy="1301.31" r="1.63" fill="#666666" fill-opacity="0.7"/>
<circle cx="516.97" cy="1297.52" r="2.3" fill="#c6c6c6" fill-opacity="0.7"/>
<circle cx="500.28" cy="1312.28" r="6.77" fill="#9c9c9c" fill-opacity="0.6" stroke="#404040" stroke-opacity="0.9" stroke-width="1.4"/>
<circle cx="499.78" cy="1311.78" r="3.05" fill="#b8b8b8" fill-opacity="0.5"/>
<circle cx="507.73" cy="1316.34" r="5.42" fill="#a4a4a4" fill-opacity="0.85" stroke="#2c2c2c" stroke-opacity="0.95" stroke-width="1.8"/>
<circle cx="506.78" cy="1314.52" r="1.84" fill="#d2d2d2" fill-opacity="0.7"/>
<circle cx="509.79" cy="1316.45" r="1.3" fill="#666666" fill-opacity="0.7"/>
<circle cx="506.6" cy="1318.07" r="1.84" fill="#c6c6c6" fill-opacity="0.7"/>
<circle cx="530.08" cy="1308.89" r="7.45" fill="#9a9a9a" fill-opacity="0.3" stroke="#585858" stroke-opacity="0.7" stroke-width="1"/>
<circle cx="530.08" cy="1308.89" r="8.35" fill="none" stroke="#b8b8b8" stroke-opacity="0.5" stroke-width="0.9"/>
<circle cx="525.34" cy="1323.79" r="6.77" fill="#9c9c9c" fill-opacity="0.6" stroke="#404040" stroke-opacity="0.9" stroke-width="1.4"/>
<circle cx="524.84" cy="1323.29" r="3.05" fill="#b8b8b8" fill-opacity="0.5"/>
<circle cx="469.8" cy="1337.34" r="7.45" fill="#a4a4a4" fill-opacity="0.85" stroke="#2c2c2c" stroke-opacity="0.95" stroke-width="1.8"/>
<circle cx="471" cy="1334.77" r="2.53" fill="#d2d2d2" fill-opacity="0.7"/>
<circle cx="471.41" cy="1339.67" r="1.79" fill="#666666" fill-opacity="0.7"/>
<circle cx="466.98" cy="1337.55" r="2.53" fill="#c6c6c6" fill-opacity="0.7"/>
<circle cx="469.13" cy="1352.91" r="7.86" fill="#9a9a9a" fill-opacity="0.3" stroke="#585858" stroke-opacity="0.7" stroke-width="1"/>
<circle cx="469.13" cy="1352.91" r="8.76" fill="none" stroke="#b8b8b8" stroke-opacity="0.5" stroke-width="0.9"/>
<circle cx="523.98" cy="1356.98" r="7.45" fill="#9c9c9c" fill-opacity="0.6" stroke="#404040" stroke-opacity="0.9" stroke-width="1.4"/>
<circle cx="523.48" cy="1356.48" r="3.35" fill="#b8b8b8" fill-opacity="0.5"/>
<circle cx="537.53" cy="1354.27" r="5.42" fill="#9a9a9a" fill-opacity="0.3" stroke="#585858" stroke-opacity="0.7" stroke-width="1"/>
<circle cx="537.53" cy="1354.27" r="6.32" fill="none" stroke="#b8b8b8" stroke-opacity="0.5" stroke-width="0.9"/>
<circle cx="549.72" cy="1354.27" r="6.1" fill="#9c9c9c" fill-opacity="0.6" stroke="#404040" stroke-opacity="0.9" stroke-width="1.4"/>
<circle cx="549.22" cy="1353.77" r="2.74" fill="#b8b8b8" fill-opacity="0.5"/>
<circle cx="553.78" cy="1365.78" r="8.13" fill="#a4a4a4" fill-opacity="0.85" stroke="#2c2c2c" stroke-opacity="0.95" stroke-width="1.8"/>
<circle cx="553.39" cy="1362.72" r="2.76" fill="#d2d2d2" fill-opacity="0.7"/>
<circle cx="556.62" cy="1366.99" r="1.95" fill="#666666" fill-opacity="0.7"/>
<circle cx="551.3" cy="1367.63" r="2.76" fill="#c6c6c6" fill-opacity="0.7"/>
<circle cx="578.84" cy="1342.75" r="6.77" fill="#9a9a9a" fill-opacity="0.3" stroke="#585858" stroke-opacity="0.7" stroke-width="1"/>
<circle cx="578.84" cy="1342.75" r="7.67" fill="none" stroke="#b8b8b8" stroke-opacity="0.5" stroke-width="0.9"/>
<circle cx="487.41" cy="1325.82" r="1.08" fill="#4a4a4a" fill-opacity="0.8"/>
<circle cx="534.82" cy="1336.39" r="1.08" fill="#4a4a4a" fill-opacity="0.8"/>
<circle cx="505.7" cy="1344.52" r="1.08" fill="#4a4a4a" fill-opacity="0.8"/>
</g></g>
<clipPath id="cc33"><rect x="594.3" y="1275" width="129" height="128.7"/></clipPath>
<g clip-path="url(#cc33)"><g filter="url(#cblur2)">
<circle cx="651.3" cy="1288.58" r="7.45" fill="#a4a4a4" fill-opacity="0.85" stroke="#2c2c2c" stroke-opacity="0.95" stroke-width="1.8"/>
<circle cx="654.13" cy="1288.58" r="2.53" fill="#d2d2d2" fill-opacity="0.7"/>
<circle cx="649.87" cy="1291.02" r="1.79" fill="#666666" fill-opacity="0.7"/>
<circle cx="649.91" cy="1286.11" r="2.53" fill="#c6c6c6" fill-opacity="0.7"/>
<circle cx="618.79" cy="1304.15" r="11.51" fill="#a4a4a4" fill-opacity="0.85" stroke="#2c2c2c" stroke-opacity="0.95" stroke-width="1.8"/>
<circle cx="615.57" cy="1307.11" r="3.91" fill="#d2d2d2" fill-opacity="0.7"/>
<circle cx="617.87" cy="1299.88" r="2.76" fill="#666666" fill-opacity="0.7"/>
<circle cx="622.95" cy="1305.52" r="3.91" fill="#c6c6c6" fill-opacity="0.7"/>
<circle cx="648.59" cy="1303.48" r="6.77" fill="#a4a4a4" fill-opacity="0.85" stroke="#2c2c2c" stroke-opacity="0.95" stroke-width="1.8"/>
<circle cx="648.82" cy="1300.91" r="2.3" fill="#d2d2d2" fill-opacity="0.7"/>
<circle cx="650.69" cy="1304.96" r="1.63" fill="#666666" fill-opacity="0.7"/>
<circle cx="646.25" cy="1304.54" r="2.3" fill="#c6c6c6" fill-opacity="0.7"/>
<circle cx="639.79" cy="1308.89" r="6.77" fill="#a4a4a4" fill-opacity="0.85" stroke="#2c2c2c" stroke-opacity="0.95" stroke-width="1.8"/>
<circle cx="641.35" cy="1310.94" r="2.3" fill="#d2d2d2" fill-opacity="0.7"/>
<circle cx="637.24" cy="1309.21" r="1.63" fill="#666666" fill-opacity="0.7"/>
<circle cx="640.8" cy="1306.53" r="2.3" fill="#c6c6c6" fill-opacity="0.7"/>
<circle cx="616.76" cy="1313.63" r="6.77" fill="#a4a4a4" fill-opacity="0.85" stroke="#2c2c2c" stroke-opacity="0.95" stroke-width="1.8"/>
<circle cx="614.23" cy="1313.19" r="2.3" fill="#d2d2d2" fill-opacity="0.7"/>
<circle cx="618.43" cy="1311.67" r="1.63" fill="#666666" fill-opacity="0.7"/>
<circle cx="617.61" cy="1316.06" r="2.3" fill="#c6c6c6" fill-opacity="0.7"/>
<circle cx="647.24" cy="1320.41" r="7.45" fill="#a4a4a4" fill-opacity="0.85" stroke="#2c2c2c" stroke-opacity="0.95" stroke-width="1.8"/>
<circle cx="649.63" cy="1318.89" r="2.53" fill="#d2d2d2" fill-opacity="0.7"/>
<circle cx="647.34" cy="1323.24" r="1.79" fill="#666666" fill-opacity="0.7"/>
<circle cx="644.74" cy="1319.07" r="2.53" fill="#c6c6c6" fill-opacity="0.7"/>
<circle cx="633.02" cy="1327.18" r="8.8" fill="#a4a4a4" fill-opacity="0.85" stroke="#2c2c2c" stroke-opacity="0.95" stroke-width="1.8"/>
<circle cx="632.15" cy="1330.41" r="2.99" fill="#d2d2d2" fill-opacity="0.7"/>
<circle cx="630.67" cy="1324.8" r="2.11" fill="#666666" fill-opacity="0.7"/>
<circle cx="636.26" cy="1326.35" r="2.99" fill="#c6c6c6" fill-opacity="0.7"/>
<circle cx="623.54" cy="1320.41" r="6.1" fill="#9c9c9c" fill-opacity="0.6" stroke="#404040" stroke-opacity="0.9" stroke-width="1.4"/>
<circle cx="623.04" cy="1319.91" r="2.74" fill="#b8b8b8" fill-opacity="0.5"/>
<circle cx="641.14" cy="1343.43" r="7.45" fill="#9a9a9a" fill-opacity="0.3" stroke="#585858" stroke-opacity="0.7" stroke-width="1"/>
<circle cx="641.14" cy="1343.43" r="8.35" fill="none" stroke="#b8b8b8" stroke-opacity="0.5" stroke-width="0.9"/>
<circle cx="651.3" cy="1380" r="8.13" fill="#a4a4a4" fill-opacity="0.85" stroke="#2c2c2c" stroke-opacity="0.95" stroke-width="1.8"/>
<circle cx="648.45" cy="1381.18" r="2.76" fill="#d2d2d2" fill-opacity="0.7"/>
<circle cx="651.73" cy="1376.94" r="1.95" fill="#666666" fill-opacity="0.7"/>
<circle cx="653.73" cy="1381.91" r="2.76" fill="#c6c6c6" fill-opacity="0.7"/>
<circle cx="672.97" cy="1376.62" r="6.1" fill="#9c9c9c" fill-opacity="0.6" stroke="#404040" stroke-opacity="0.9" stroke-width="1.4"/>
<circle cx="672.47" cy="1376.12" r="2.74" fill="#b8b8b8" fill-opacity="0.5"/>
<circle cx="685.84" cy="1380" r="6.77" fill="#a4a4a4" fill-opacity="0.85" stroke="#2c2c2c" stroke-opacity="0.95" stroke-width="1.8"/>
<circle cx="686.61" cy="1382.46" r="2.3" fill="#d2d2d2" fill-opacity="0.7"/>
<circle cx="683.33" cy="1379.43" r="1.63" fill="#666666" fill-opacity="0.7"/>
<circle cx="687.6" cy="1378.13" r="2.3" fill="#c6c6c6" fill-opacity="0.7"/>
<circle cx="683.13" cy="1367.81" r="6.77" fill="#9a9a9a" fill-opacity="0.3" stroke="#585858" stroke-opacity="0.7" stroke-width="1"/>
<circle cx="683.13" cy="1367.81" r="7.67" fill="none" stroke="#b8b8b8" stroke-opacity="0.5" stroke-width="0.9"/>
<circle cx="664.17" cy="1385.42" r="8.13" fill="#a4a4a4" fill-opacity="0.85" stroke="#2c2c2c" stroke-opacity="0.95" stroke-width="1.8"/>
<circle cx="667.19" cy="1384.76" r="2.76" fill="#d2d2d2" fill-opacity="0.7"/>
<circle cx="663.22" cy="1388.36" r="1.95" fill="#666666" fill-opacity="0.7"/>
<circle cx="662.11" cy="1383.12" r="2.76" fill="#c6c6c6" fill-opacity="0.7"/>
<circle cx="643.18" cy="1389.48" r="6.77" fill="#a4a4a4" fill-opacity="0.85" stroke="#2c2c2c" stroke-opacity="0.95" stroke-width="1.8"/>
<circle cx="641.69" cy="1391.59" r="2.3" fill="#d2d2d2" fill-opacity="0.7"/>
<circle cx="642.11" cy="1387.14" r="1.63" fill="#666666" fill-opacity="0.7"/>
<circle cx="645.74" cy="1389.74" r="2.3" fill="#c6c6c6" fill-opacity="0.7"/>
<circle cx="654.69" cy="1398.97" r="6.77" fill="#a4a4a4" fill-opacity="0.85" stroke="#2c2c2c" stroke-opacity="0.95" stroke-width="1.8"/>
<circle cx="654.36" cy="1396.41" r="2.3" fill="#d2d2d2" fill-opacity="0.7"/>
<circle cx="657.06" cy="1399.97" r="1.63" fill="#666666" fill-opacity="0.7"/>
<circle cx="652.63" cy="1400.5" r="2.3" fill="#c6c6c6" fill-opacity="0.7"/>
<circle cx="669.59" cy="1398.97" r="6.77" fill="#a4a4a4" fill-opacity="0.85" stroke="#2c2c2c" stroke-opacity="0.95" stroke-width="1.8"/>
<circle cx="671.55" cy="1400.62" r="2.3" fill="#d2d2d2" fill-opacity="0.7"/>
<circle cx="667.16" cy="1399.82" r="1.63" fill="#666666" fill-opacity="0.7"/>
<circle cx="670.07" cy="1396.44" r="2.3" fill="#c6c6c6" fill-opacity="0.7"/>
<circle cx="696.68" cy="1396.26" r="6.1" fill="#9a9a9a" fill-opacity="0.3" stroke="#585858" stroke-opacity="0.7" stroke-width="1"/>
<circle cx="696.68" cy="1396.26" r="7" fill="none" stroke="#b8b8b8" stroke-opacity="0.5" stroke-width="0.9"/>
<circle cx="641.14" cy="1401" r="4.06" fill="#4a4a4a" fill-opacity="0.8"/>
</g></g>
</svg>
</body></html>
